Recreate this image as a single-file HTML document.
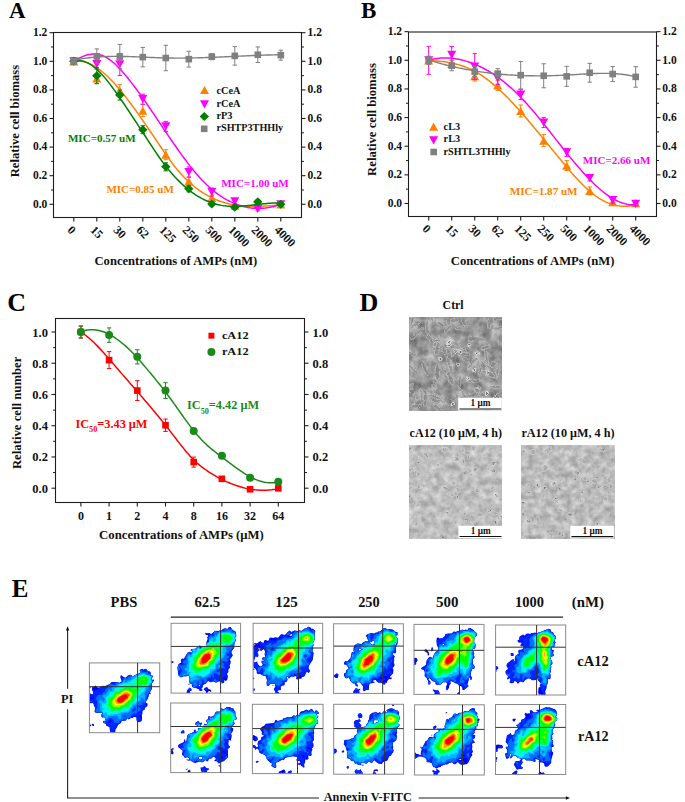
<!DOCTYPE html>
<html><head><meta charset="utf-8"><style>
html,body{margin:0;padding:0;background:#fff;}
body{width:685px;height:802px;overflow:hidden;position:relative;font-family:'Liberation Serif',serif;}
</style></head><body>
<svg width="685" height="802" viewBox="0 0 685 802" style="position:absolute;left:0;top:0">
<defs>
<filter id="soft" x="-5%" y="-5%" width="110%" height="110%"><feGaussianBlur stdDeviation="0.6"/></filter>
<filter id="texA" x="0" y="0" width="1" height="1" color-interpolation-filters="sRGB">
 <feTurbulence type="fractalNoise" baseFrequency="0.11" numOctaves="3" seed="3"/>
 <feColorMatrix type="matrix" values="0.5 0 0 0 0.345  0.5 0 0 0 0.345  0.5 0 0 0 0.345  0 0 0 0 1"/>
</filter>
<filter id="texB" x="0" y="0" width="1" height="1" color-interpolation-filters="sRGB">
 <feTurbulence type="fractalNoise" baseFrequency="0.14" numOctaves="3" seed="7"/>
 <feColorMatrix type="matrix" values="0.35 0 0 0 0.57  0.35 0 0 0 0.57  0.35 0 0 0 0.57  0 0 0 0 1"/>
</filter>
<filter id="texC" x="0" y="0" width="1" height="1" color-interpolation-filters="sRGB">
 <feTurbulence type="fractalNoise" baseFrequency="0.14" numOctaves="3" seed="11"/>
 <feColorMatrix type="matrix" values="0.35 0 0 0 0.56  0.35 0 0 0 0.56  0.35 0 0 0 0.56  0 0 0 0 1"/>
</filter>
<filter id="wob" x="-5%" y="-5%" width="110%" height="110%">
 <feTurbulence type="fractalNoise" baseFrequency="0.25" numOctaves="2" seed="5" result="t"/>
 <feDisplacementMap in="SourceGraphic" in2="t" scale="3.5" xChannelSelector="R" yChannelSelector="G" result="d"/>
 <feGaussianBlur in="d" stdDeviation="0.35"/>
</filter>
</defs>
<g style="font-family:'Liberation Serif',serif;font-weight:bold">
<rect x="53.5" y="32.5" width="248" height="185" fill="none" stroke="#1e1e1e" stroke-width="1.1"/>
<line x1="49.5" y1="32.7" x2="53.5" y2="32.7" stroke="#1e1e1e" stroke-width="1.1"/>
<line x1="301.5" y1="32.7" x2="305.5" y2="32.7" stroke="#1e1e1e" stroke-width="1.1"/>
<text x="47.3" y="36" font-size="11.5" fill="#111" text-anchor="end" >1.2</text>
<text x="307.6" y="36" font-size="11.5" fill="#111" >1.2</text>
<line x1="49.5" y1="61.3" x2="53.5" y2="61.3" stroke="#1e1e1e" stroke-width="1.1"/>
<line x1="301.5" y1="61.3" x2="305.5" y2="61.3" stroke="#1e1e1e" stroke-width="1.1"/>
<text x="47.3" y="64.6" font-size="11.5" fill="#111" text-anchor="end" >1.0</text>
<text x="307.6" y="64.6" font-size="11.5" fill="#111" >1.0</text>
<line x1="49.5" y1="89.9" x2="53.5" y2="89.9" stroke="#1e1e1e" stroke-width="1.1"/>
<line x1="301.5" y1="89.9" x2="305.5" y2="89.9" stroke="#1e1e1e" stroke-width="1.1"/>
<text x="47.3" y="93.2" font-size="11.5" fill="#111" text-anchor="end" >0.8</text>
<text x="307.6" y="93.2" font-size="11.5" fill="#111" >0.8</text>
<line x1="49.5" y1="118.5" x2="53.5" y2="118.5" stroke="#1e1e1e" stroke-width="1.1"/>
<line x1="301.5" y1="118.5" x2="305.5" y2="118.5" stroke="#1e1e1e" stroke-width="1.1"/>
<text x="47.3" y="121.8" font-size="11.5" fill="#111" text-anchor="end" >0.6</text>
<text x="307.6" y="121.8" font-size="11.5" fill="#111" >0.6</text>
<line x1="49.5" y1="147.1" x2="53.5" y2="147.1" stroke="#1e1e1e" stroke-width="1.1"/>
<line x1="301.5" y1="147.1" x2="305.5" y2="147.1" stroke="#1e1e1e" stroke-width="1.1"/>
<text x="47.3" y="150.4" font-size="11.5" fill="#111" text-anchor="end" >0.4</text>
<text x="307.6" y="150.4" font-size="11.5" fill="#111" >0.4</text>
<line x1="49.5" y1="175.7" x2="53.5" y2="175.7" stroke="#1e1e1e" stroke-width="1.1"/>
<line x1="301.5" y1="175.7" x2="305.5" y2="175.7" stroke="#1e1e1e" stroke-width="1.1"/>
<text x="47.3" y="179" font-size="11.5" fill="#111" text-anchor="end" >0.2</text>
<text x="307.6" y="179" font-size="11.5" fill="#111" >0.2</text>
<line x1="49.5" y1="204.3" x2="53.5" y2="204.3" stroke="#1e1e1e" stroke-width="1.1"/>
<line x1="301.5" y1="204.3" x2="305.5" y2="204.3" stroke="#1e1e1e" stroke-width="1.1"/>
<text x="47.3" y="207.6" font-size="11.5" fill="#111" text-anchor="end" >0.0</text>
<text x="307.6" y="207.6" font-size="11.5" fill="#111" >0.0</text>
<line x1="51" y1="47" x2="53.5" y2="47" stroke="#1e1e1e" stroke-width="1.0"/>
<line x1="301.5" y1="47" x2="304" y2="47" stroke="#1e1e1e" stroke-width="1.0"/>
<line x1="51" y1="75.6" x2="53.5" y2="75.6" stroke="#1e1e1e" stroke-width="1.0"/>
<line x1="301.5" y1="75.6" x2="304" y2="75.6" stroke="#1e1e1e" stroke-width="1.0"/>
<line x1="51" y1="104.2" x2="53.5" y2="104.2" stroke="#1e1e1e" stroke-width="1.0"/>
<line x1="301.5" y1="104.2" x2="304" y2="104.2" stroke="#1e1e1e" stroke-width="1.0"/>
<line x1="51" y1="132.8" x2="53.5" y2="132.8" stroke="#1e1e1e" stroke-width="1.0"/>
<line x1="301.5" y1="132.8" x2="304" y2="132.8" stroke="#1e1e1e" stroke-width="1.0"/>
<line x1="51" y1="161.4" x2="53.5" y2="161.4" stroke="#1e1e1e" stroke-width="1.0"/>
<line x1="301.5" y1="161.4" x2="304" y2="161.4" stroke="#1e1e1e" stroke-width="1.0"/>
<line x1="51" y1="190" x2="53.5" y2="190" stroke="#1e1e1e" stroke-width="1.0"/>
<line x1="301.5" y1="190" x2="304" y2="190" stroke="#1e1e1e" stroke-width="1.0"/>
<line x1="73.8" y1="217.5" x2="73.8" y2="221.5" stroke="#1e1e1e" stroke-width="1.1"/>
<line x1="96.8" y1="217.5" x2="96.8" y2="221.5" stroke="#1e1e1e" stroke-width="1.1"/>
<line x1="119.8" y1="217.5" x2="119.8" y2="221.5" stroke="#1e1e1e" stroke-width="1.1"/>
<line x1="142.8" y1="217.5" x2="142.8" y2="221.5" stroke="#1e1e1e" stroke-width="1.1"/>
<line x1="165.8" y1="217.5" x2="165.8" y2="221.5" stroke="#1e1e1e" stroke-width="1.1"/>
<line x1="188.8" y1="217.5" x2="188.8" y2="221.5" stroke="#1e1e1e" stroke-width="1.1"/>
<line x1="211.8" y1="217.5" x2="211.8" y2="221.5" stroke="#1e1e1e" stroke-width="1.1"/>
<line x1="234.8" y1="217.5" x2="234.8" y2="221.5" stroke="#1e1e1e" stroke-width="1.1"/>
<line x1="257.8" y1="217.5" x2="257.8" y2="221.5" stroke="#1e1e1e" stroke-width="1.1"/>
<line x1="280.8" y1="217.5" x2="280.8" y2="221.5" stroke="#1e1e1e" stroke-width="1.1"/>
<path d="M73.80,61.37 L75.54,61.15 L77.28,61.06 L79.02,61.09 L80.76,61.24 L82.50,61.51 L84.24,61.89 L85.98,62.38 L87.72,62.98 L89.46,63.68 L91.19,64.49 L92.93,65.39 L94.67,66.39 L96.41,67.48 L98.15,68.66 L99.89,69.93 L101.63,71.28 L103.37,72.72 L105.11,74.23 L106.85,75.81 L108.59,77.47 L110.33,79.20 L112.07,81.00 L113.81,82.85 L115.55,84.77 L117.29,86.74 L119.03,88.77 L120.77,90.85 L122.51,92.98 L124.25,95.16 L125.98,97.38 L127.72,99.63 L129.46,101.93 L131.20,104.26 L132.94,106.62 L134.68,109.01 L136.42,111.43 L138.16,113.88 L139.90,116.35 L141.64,118.84 L143.38,121.35 L145.12,123.88 L146.86,126.42 L148.60,128.97 L150.34,131.53 L152.08,134.11 L153.82,136.68 L155.56,139.26 L157.30,141.84 L159.04,144.42 L160.77,146.99 L162.51,149.56 L164.25,152.10 L165.99,154.62 L167.73,157.10 L169.47,159.53 L171.21,161.90 L172.95,164.21 L174.69,166.44 L176.43,168.60 L178.17,170.68 L179.91,172.69 L181.65,174.62 L183.39,176.48 L185.13,178.27 L186.87,179.99 L188.61,181.64 L190.35,183.23 L192.09,184.75 L193.83,186.21 L195.56,187.60 L197.30,188.93 L199.04,190.20 L200.78,191.41 L202.52,192.56 L204.26,193.66 L206.00,194.70 L207.74,195.69 L209.48,196.62 L211.22,197.50 L212.96,198.33 L214.70,199.12 L216.44,199.85 L218.18,200.54 L219.92,201.18 L221.66,201.78 L223.40,202.33 L225.14,202.85 L226.88,203.32 L228.62,203.75 L230.35,204.15 L232.09,204.51 L233.83,204.83 L235.57,205.12 L237.31,205.38 L239.05,205.61 L240.79,205.80 L242.53,205.97 L244.27,206.11 L246.01,206.22 L247.75,206.31 L249.49,206.37 L251.23,206.41 L252.97,206.43 L254.71,206.43 L256.45,206.41 L258.19,206.37 L259.93,206.32 L261.67,206.25 L263.41,206.17 L265.14,206.07 L266.88,205.97 L268.62,205.85 L270.36,205.72 L272.10,205.59 L273.84,205.45 L275.58,205.31 L277.32,205.16 L279.06,205.01 L280.80,204.86" stroke="#ff8000" stroke-width="1.5" fill="none"/>
<path d="M73.8,58.3V64.3M71.6,58.3H76M71.6,64.3H76" stroke="#ff8000" stroke-width="1" fill="none"/>
<path d="M96.8,73.46V83.46M94.6,73.46H99M94.6,83.46H99" stroke="#ff8000" stroke-width="1" fill="none"/>
<path d="M119.8,84.62V96.62M117.6,84.62H122M117.6,96.62H122" stroke="#ff8000" stroke-width="1" fill="none"/>
<path d="M142.8,104.64V116.64M140.6,104.64H145M140.6,116.64H145" stroke="#ff8000" stroke-width="1" fill="none"/>
<path d="M165.8,149.68V159.68M163.6,149.68H168M163.6,159.68H168" stroke="#ff8000" stroke-width="1" fill="none"/>
<path d="M188.8,177.42V185.42M186.6,177.42H191M186.6,185.42H191" stroke="#ff8000" stroke-width="1" fill="none"/>
<path d="M211.8,195.01V201.01M209.6,195.01H214M209.6,201.01H214" stroke="#ff8000" stroke-width="1" fill="none"/>
<path d="M234.8,203.73V207.73M232.6,203.73H237M232.6,207.73H237" stroke="#ff8000" stroke-width="1" fill="none"/>
<path d="M257.8,202.3V206.3M255.6,202.3H260M255.6,206.3H260" stroke="#ff8000" stroke-width="1" fill="none"/>
<path d="M280.8,202.3V206.3M278.6,202.3H283M278.6,206.3H283" stroke="#ff8000" stroke-width="1" fill="none"/>
<polygon points="69.3,65.4 78.3,65.4 73.8,57.2" fill="#ff8000"/>
<polygon points="92.3,82.56 101.3,82.56 96.8,74.36" fill="#ff8000"/>
<polygon points="115.3,94.72 124.3,94.72 119.8,86.52" fill="#ff8000"/>
<polygon points="138.3,114.73 147.3,114.73 142.8,106.54" fill="#ff8000"/>
<polygon points="161.3,158.78 170.3,158.78 165.8,150.58" fill="#ff8000"/>
<polygon points="184.3,185.52 193.3,185.52 188.8,177.32" fill="#ff8000"/>
<polygon points="207.3,202.11 216.3,202.11 211.8,193.91" fill="#ff8000"/>
<polygon points="230.3,209.83 239.3,209.83 234.8,201.63" fill="#ff8000"/>
<polygon points="253.3,208.4 262.3,208.4 257.8,200.2" fill="#ff8000"/>
<polygon points="276.3,208.4 285.3,208.4 280.8,200.2" fill="#ff8000"/>
<path d="M73.80,61.49 L75.54,60.34 L77.28,59.27 L79.02,58.28 L80.76,57.39 L82.50,56.58 L84.24,55.88 L85.98,55.28 L87.72,54.79 L89.46,54.41 L91.19,54.14 L92.93,54.00 L94.67,53.98 L96.41,54.10 L98.15,54.34 L99.89,54.73 L101.63,55.26 L103.37,55.93 L105.11,56.76 L106.85,57.74 L108.59,58.85 L110.33,60.09 L112.07,61.46 L113.81,62.94 L115.55,64.53 L117.29,66.22 L119.03,68.00 L120.77,69.86 L122.51,71.80 L124.25,73.81 L125.98,75.87 L127.72,77.99 L129.46,80.16 L131.20,82.38 L132.94,84.63 L134.68,86.93 L136.42,89.27 L138.16,91.64 L139.90,94.05 L141.64,96.48 L143.38,98.95 L145.12,101.43 L146.86,103.94 L148.60,106.48 L150.34,109.02 L152.08,111.59 L153.82,114.16 L155.56,116.74 L157.30,119.33 L159.04,121.93 L160.77,124.52 L162.51,127.12 L164.25,129.71 L165.99,132.29 L167.73,134.87 L169.47,137.43 L171.21,139.98 L172.95,142.52 L174.69,145.03 L176.43,147.52 L178.17,149.99 L179.91,152.43 L181.65,154.83 L183.39,157.21 L185.13,159.55 L186.87,161.86 L188.61,164.12 L190.35,166.35 L192.09,168.53 L193.83,170.66 L195.56,172.74 L197.30,174.77 L199.04,176.75 L200.78,178.67 L202.52,180.53 L204.26,182.33 L206.00,184.07 L207.74,185.74 L209.48,187.34 L211.22,188.87 L212.96,190.34 L214.70,191.74 L216.44,193.07 L218.18,194.35 L219.92,195.56 L221.66,196.71 L223.40,197.80 L225.14,198.83 L226.88,199.81 L228.62,200.73 L230.35,201.60 L232.09,202.42 L233.83,203.18 L235.57,203.89 L237.31,204.55 L239.05,205.16 L240.79,205.71 L242.53,206.21 L244.27,206.66 L246.01,207.06 L247.75,207.40 L249.49,207.70 L251.23,207.94 L252.97,208.13 L254.71,208.27 L256.45,208.36 L258.19,208.39 L259.93,208.38 L261.67,208.31 L263.41,208.19 L265.14,208.02 L266.88,207.80 L268.62,207.53 L270.36,207.20 L272.10,206.83 L273.84,206.40 L275.58,205.92 L277.32,205.40 L279.06,204.82 L280.80,204.19" stroke="#ff00ff" stroke-width="1.5" fill="none"/>
<path d="M73.8,58.3V64.3M71.6,58.3H76M71.6,64.3H76" stroke="#ff00ff" stroke-width="1" fill="none"/>
<path d="M96.8,59.16V69.16M94.6,59.16H99M94.6,69.16H99" stroke="#ff00ff" stroke-width="1" fill="none"/>
<path d="M119.8,53.45V75.45M117.6,53.45H122M117.6,75.45H122" stroke="#ff00ff" stroke-width="1" fill="none"/>
<path d="M142.8,94.2V104.2M140.6,94.2H145M140.6,104.2H145" stroke="#ff00ff" stroke-width="1" fill="none"/>
<path d="M165.8,121.37V131.37M163.6,121.37H168M163.6,131.37H168" stroke="#ff00ff" stroke-width="1" fill="none"/>
<path d="M188.8,166.98V176.98M186.6,166.98H191M186.6,176.98H191" stroke="#ff00ff" stroke-width="1" fill="none"/>
<path d="M211.8,188V196M209.6,188H214M209.6,196H214" stroke="#ff00ff" stroke-width="1" fill="none"/>
<path d="M234.8,198.44V204.44M232.6,198.44H237M232.6,204.44H237" stroke="#ff00ff" stroke-width="1" fill="none"/>
<path d="M257.8,206.88V210.88M255.6,206.88H260M255.6,210.88H260" stroke="#ff00ff" stroke-width="1" fill="none"/>
<path d="M280.8,202.3V206.3M278.6,202.3H283M278.6,206.3H283" stroke="#ff00ff" stroke-width="1" fill="none"/>
<polygon points="69.3,57.2 78.3,57.2 73.8,65.4" fill="#ff00ff"/>
<polygon points="92.3,60.06 101.3,60.06 96.8,68.26" fill="#ff00ff"/>
<polygon points="115.3,60.35 124.3,60.35 119.8,68.55" fill="#ff00ff"/>
<polygon points="138.3,95.1 147.3,95.1 142.8,103.3" fill="#ff00ff"/>
<polygon points="161.3,122.27 170.3,122.27 165.8,130.47" fill="#ff00ff"/>
<polygon points="184.3,167.88 193.3,167.88 188.8,176.08" fill="#ff00ff"/>
<polygon points="207.3,187.9 216.3,187.9 211.8,196.1" fill="#ff00ff"/>
<polygon points="230.3,197.34 239.3,197.34 234.8,205.54" fill="#ff00ff"/>
<polygon points="253.3,204.78 262.3,204.78 257.8,212.98" fill="#ff00ff"/>
<polygon points="276.3,200.2 285.3,200.2 280.8,208.4" fill="#ff00ff"/>
<path d="M73.80,61.53 L75.54,61.04 L77.28,60.75 L79.02,60.66 L80.76,60.76 L82.50,61.04 L84.24,61.50 L85.98,62.12 L87.72,62.91 L89.46,63.85 L91.19,64.94 L92.93,66.17 L94.67,67.54 L96.41,69.03 L98.15,70.64 L99.89,72.36 L101.63,74.18 L103.37,76.11 L105.11,78.12 L106.85,80.22 L108.59,82.40 L110.33,84.64 L112.07,86.95 L113.81,89.32 L115.55,91.73 L117.29,94.18 L119.03,96.67 L120.77,99.19 L122.51,101.73 L124.25,104.29 L125.98,106.87 L127.72,109.47 L129.46,112.09 L131.20,114.72 L132.94,117.36 L134.68,120.01 L136.42,122.67 L138.16,125.34 L139.90,128.01 L141.64,130.68 L143.38,133.36 L145.12,136.03 L146.86,138.70 L148.60,141.37 L150.34,144.03 L152.08,146.69 L153.82,149.32 L155.56,151.92 L157.30,154.49 L159.04,157.01 L160.77,159.47 L162.51,161.87 L164.25,164.20 L165.99,166.46 L167.73,168.65 L169.47,170.77 L171.21,172.83 L172.95,174.82 L174.69,176.74 L176.43,178.59 L178.17,180.38 L179.91,182.11 L181.65,183.77 L183.39,185.36 L185.13,186.90 L186.87,188.37 L188.61,189.78 L190.35,191.12 L192.09,192.41 L193.83,193.63 L195.56,194.79 L197.30,195.90 L199.04,196.94 L200.78,197.93 L202.52,198.86 L204.26,199.73 L206.00,200.54 L207.74,201.30 L209.48,202.00 L211.22,202.64 L212.96,203.23 L214.70,203.77 L216.44,204.25 L218.18,204.67 L219.92,205.05 L221.66,205.37 L223.40,205.64 L225.14,205.87 L226.88,206.05 L228.62,206.18 L230.35,206.28 L232.09,206.34 L233.83,206.37 L235.57,206.36 L237.31,206.32 L239.05,206.25 L240.79,206.16 L242.53,206.05 L244.27,205.91 L246.01,205.76 L247.75,205.60 L249.49,205.42 L251.23,205.23 L252.97,205.03 L254.71,204.83 L256.45,204.62 L258.19,204.42 L259.93,204.22 L261.67,204.02 L263.41,203.83 L265.14,203.65 L266.88,203.48 L268.62,203.33 L270.36,203.20 L272.10,203.08 L273.84,202.99 L275.58,202.92 L277.32,202.88 L279.06,202.87 L280.80,202.89" stroke="#008000" stroke-width="1.5" fill="none"/>
<path d="M73.8,58.3V64.3M71.6,58.3H76M71.6,64.3H76" stroke="#008000" stroke-width="1" fill="none"/>
<path d="M96.8,67.74V83.74M94.6,67.74H99M94.6,83.74H99" stroke="#008000" stroke-width="1" fill="none"/>
<path d="M119.8,90.05V100.05M117.6,90.05H122M117.6,100.05H122" stroke="#008000" stroke-width="1" fill="none"/>
<path d="M142.8,125.65V133.65M140.6,125.65H145M140.6,133.65H145" stroke="#008000" stroke-width="1" fill="none"/>
<path d="M165.8,162.83V170.83M163.6,162.83H168M163.6,170.83H168" stroke="#008000" stroke-width="1" fill="none"/>
<path d="M188.8,185.86V191.86M186.6,185.86H191M186.6,191.86H191" stroke="#008000" stroke-width="1" fill="none"/>
<path d="M211.8,202.01V206.01M209.6,202.01H214M209.6,206.01H214" stroke="#008000" stroke-width="1" fill="none"/>
<path d="M234.8,205.16V209.16M232.6,205.16H237M232.6,209.16H237" stroke="#008000" stroke-width="1" fill="none"/>
<path d="M257.8,199.87V203.87M255.6,199.87H260M255.6,203.87H260" stroke="#008000" stroke-width="1" fill="none"/>
<path d="M280.8,202.3V206.3M278.6,202.3H283M278.6,206.3H283" stroke="#008000" stroke-width="1" fill="none"/>
<polygon points="73.8,56.8 78.5,61.3 73.8,65.8 69.1,61.3" fill="#008000"/>
<polygon points="96.8,71.24 101.5,75.74 96.8,80.24 92.1,75.74" fill="#008000"/>
<polygon points="119.8,90.55 124.5,95.05 119.8,99.55 115.1,95.05" fill="#008000"/>
<polygon points="142.8,125.15 147.5,129.65 142.8,134.15 138.1,129.65" fill="#008000"/>
<polygon points="165.8,162.33 170.5,166.83 165.8,171.33 161.1,166.83" fill="#008000"/>
<polygon points="188.8,184.36 193.5,188.86 188.8,193.36 184.1,188.86" fill="#008000"/>
<polygon points="211.8,199.51 216.5,204.01 211.8,208.51 207.1,204.01" fill="#008000"/>
<polygon points="234.8,202.66 239.5,207.16 234.8,211.66 230.1,207.16" fill="#008000"/>
<polygon points="257.8,197.37 262.5,201.87 257.8,206.37 253.1,201.87" fill="#008000"/>
<polygon points="280.8,199.8 285.5,204.3 280.8,208.8 276.1,204.3" fill="#008000"/>
<path d="M73.80,60.26 L75.54,59.90 L77.28,59.56 L79.02,59.25 L80.76,58.95 L82.50,58.67 L84.24,58.41 L85.98,58.17 L87.72,57.95 L89.46,57.74 L91.19,57.55 L92.93,57.38 L94.67,57.22 L96.41,57.08 L98.15,56.95 L99.89,56.84 L101.63,56.74 L103.37,56.66 L105.11,56.58 L106.85,56.52 L108.59,56.47 L110.33,56.44 L112.07,56.41 L113.81,56.39 L115.55,56.38 L117.29,56.38 L119.03,56.39 L120.77,56.41 L122.51,56.44 L124.25,56.47 L125.98,56.51 L127.72,56.55 L129.46,56.60 L131.20,56.66 L132.94,56.71 L134.68,56.78 L136.42,56.84 L138.16,56.91 L139.90,56.98 L141.64,57.06 L143.38,57.13 L145.12,57.20 L146.86,57.28 L148.60,57.35 L150.34,57.43 L152.08,57.50 L153.82,57.57 L155.56,57.64 L157.30,57.70 L159.04,57.76 L160.77,57.82 L162.51,57.87 L164.25,57.92 L165.99,57.96 L167.73,58.00 L169.47,58.03 L171.21,58.05 L172.95,58.07 L174.69,58.09 L176.43,58.09 L178.17,58.10 L179.91,58.09 L181.65,58.09 L183.39,58.08 L185.13,58.06 L186.87,58.04 L188.61,58.02 L190.35,57.99 L192.09,57.96 L193.83,57.92 L195.56,57.88 L197.30,57.84 L199.04,57.79 L200.78,57.74 L202.52,57.69 L204.26,57.63 L206.00,57.57 L207.74,57.51 L209.48,57.45 L211.22,57.39 L212.96,57.32 L214.70,57.25 L216.44,57.18 L218.18,57.10 L219.92,57.03 L221.66,56.96 L223.40,56.88 L225.14,56.80 L226.88,56.72 L228.62,56.64 L230.35,56.56 L232.09,56.48 L233.83,56.40 L235.57,56.32 L237.31,56.24 L239.05,56.16 L240.79,56.08 L242.53,56.00 L244.27,55.93 L246.01,55.85 L247.75,55.77 L249.49,55.70 L251.23,55.62 L252.97,55.55 L254.71,55.48 L256.45,55.41 L258.19,55.34 L259.93,55.27 L261.67,55.21 L263.41,55.15 L265.14,55.09 L266.88,55.03 L268.62,54.98 L270.36,54.93 L272.10,54.88 L273.84,54.84 L275.58,54.80 L277.32,54.76 L279.06,54.73 L280.80,54.70" stroke="#808080" stroke-width="1.4" fill="none"/>
<path d="M73.8,58.3V64.3M71.6,58.3H76M71.6,64.3H76" stroke="#808080" stroke-width="1" fill="none"/>
<path d="M96.8,48.9V63.7M94.6,48.9H99M94.6,63.7H99" stroke="#808080" stroke-width="1" fill="none"/>
<path d="M119.8,44.38V68.78M117.6,44.38H122M117.6,68.78H122" stroke="#808080" stroke-width="1" fill="none"/>
<path d="M142.8,47.45V66.85M140.6,47.45H145M140.6,66.85H145" stroke="#808080" stroke-width="1" fill="none"/>
<path d="M165.8,45.31V70.71M163.6,45.31H168M163.6,70.71H168" stroke="#808080" stroke-width="1" fill="none"/>
<path d="M188.8,51.26V67.06M186.6,51.26H191M186.6,67.06H191" stroke="#808080" stroke-width="1" fill="none"/>
<path d="M211.8,53.72V59.72M209.6,53.72H214M209.6,59.72H214" stroke="#808080" stroke-width="1" fill="none"/>
<path d="M234.8,46.57V65.17M232.6,46.57H237M232.6,65.17H237" stroke="#808080" stroke-width="1" fill="none"/>
<path d="M257.8,46.92V62.52M255.6,46.92H260M255.6,62.52H260" stroke="#808080" stroke-width="1" fill="none"/>
<path d="M280.8,50.15V60.15M278.6,50.15H283M278.6,60.15H283" stroke="#808080" stroke-width="1" fill="none"/>
<rect x="70.5" y="58" width="6.6" height="6.6" fill="#808080"/>
<rect x="93.5" y="53" width="6.6" height="6.6" fill="#808080"/>
<rect x="116.5" y="53.28" width="6.6" height="6.6" fill="#808080"/>
<rect x="139.5" y="53.85" width="6.6" height="6.6" fill="#808080"/>
<rect x="162.5" y="54.71" width="6.6" height="6.6" fill="#808080"/>
<rect x="185.5" y="55.86" width="6.6" height="6.6" fill="#808080"/>
<rect x="208.5" y="53.42" width="6.6" height="6.6" fill="#808080"/>
<rect x="231.5" y="52.57" width="6.6" height="6.6" fill="#808080"/>
<rect x="254.5" y="51.42" width="6.6" height="6.6" fill="#808080"/>
<rect x="277.5" y="51.85" width="6.6" height="6.6" fill="#808080"/>
<text x="66.7" y="230.8" font-size="12" fill="#111" transform="rotate(45 66.7 230.8)" >0</text>
<text x="89.7" y="230.8" font-size="12" fill="#111" transform="rotate(45 89.7 230.8)" >15</text>
<text x="112.7" y="230.8" font-size="12" fill="#111" transform="rotate(45 112.7 230.8)" >30</text>
<text x="135.7" y="230.8" font-size="12" fill="#111" transform="rotate(45 135.7 230.8)" >62</text>
<text x="158.7" y="230.8" font-size="12" fill="#111" transform="rotate(45 158.7 230.8)" >125</text>
<text x="181.7" y="230.8" font-size="12" fill="#111" transform="rotate(45 181.7 230.8)" >250</text>
<text x="204.7" y="230.8" font-size="12" fill="#111" transform="rotate(45 204.7 230.8)" >500</text>
<text x="227.7" y="230.8" font-size="12" fill="#111" transform="rotate(45 227.7 230.8)" >1000</text>
<text x="250.7" y="230.8" font-size="12" fill="#111" transform="rotate(45 250.7 230.8)" >2000</text>
<text x="273.7" y="230.8" font-size="12" fill="#111" transform="rotate(45 273.7 230.8)" >4000</text>
<text x="94.5" y="265" font-size="12" fill="#111" textLength="162.8" lengthAdjust="spacingAndGlyphs" >Concentrations of AMPs (nM)</text>
<text x="18.8" y="177.3" font-size="12" fill="#111" textLength="112.5" lengthAdjust="spacingAndGlyphs" transform="rotate(-90 18.8 177.3)" >Relative cell biomass</text>
<polygon points="200,94.1 209,94.1 204.5,85.9" fill="#ff8000"/>
<text x="216.5" y="94.3" font-size="10.3" fill="#111" >cCeA</text>
<polygon points="200,100.3 209,100.3 204.5,108.5" fill="#ff00ff"/>
<text x="216.5" y="106.8" font-size="10.3" fill="#111" >rCeA</text>
<polygon points="204.3,111.9 209,116.4 204.3,120.9 199.6,116.4" fill="#008000"/>
<text x="216.5" y="119.2" font-size="10.3" fill="#111" >rP3</text>
<rect x="200.9" y="125.5" width="6.6" height="6.6" fill="#808080"/>
<text x="216.5" y="131.4" font-size="10.3" fill="#111" textLength="66.6" lengthAdjust="spacingAndGlyphs" >rSHTP3THHly</text>
<text x="67.9" y="142.2" font-size="11" fill="#008000" textLength="67.8" lengthAdjust="spacingAndGlyphs" >MIC=0.57 uM</text>
<text x="106.4" y="193.3" font-size="11" fill="#ff8000" textLength="67.5" lengthAdjust="spacingAndGlyphs" >MIC=0.85 uM</text>
<text x="221.2" y="186.7" font-size="11" fill="#ff00ff" textLength="67.6" lengthAdjust="spacingAndGlyphs" >MIC=1.00 uM</text>
<text x="8.9" y="17.9" font-size="23" fill="#000" >A</text>
<rect x="408.5" y="32" width="248" height="184.5" fill="none" stroke="#1e1e1e" stroke-width="1.1"/>
<line x1="404.5" y1="31.66" x2="408.5" y2="31.66" stroke="#1e1e1e" stroke-width="1.1"/>
<line x1="656.5" y1="31.66" x2="660.5" y2="31.66" stroke="#1e1e1e" stroke-width="1.1"/>
<text x="402.1" y="34.96" font-size="11.5" fill="#111" text-anchor="end" >1.2</text>
<text x="662.3" y="34.96" font-size="11.5" fill="#111" >1.2</text>
<line x1="404.5" y1="60.3" x2="408.5" y2="60.3" stroke="#1e1e1e" stroke-width="1.1"/>
<line x1="656.5" y1="60.3" x2="660.5" y2="60.3" stroke="#1e1e1e" stroke-width="1.1"/>
<text x="402.1" y="63.6" font-size="11.5" fill="#111" text-anchor="end" >1.0</text>
<text x="662.3" y="63.6" font-size="11.5" fill="#111" >1.0</text>
<line x1="404.5" y1="88.94" x2="408.5" y2="88.94" stroke="#1e1e1e" stroke-width="1.1"/>
<line x1="656.5" y1="88.94" x2="660.5" y2="88.94" stroke="#1e1e1e" stroke-width="1.1"/>
<text x="402.1" y="92.24" font-size="11.5" fill="#111" text-anchor="end" >0.8</text>
<text x="662.3" y="92.24" font-size="11.5" fill="#111" >0.8</text>
<line x1="404.5" y1="117.58" x2="408.5" y2="117.58" stroke="#1e1e1e" stroke-width="1.1"/>
<line x1="656.5" y1="117.58" x2="660.5" y2="117.58" stroke="#1e1e1e" stroke-width="1.1"/>
<text x="402.1" y="120.88" font-size="11.5" fill="#111" text-anchor="end" >0.6</text>
<text x="662.3" y="120.88" font-size="11.5" fill="#111" >0.6</text>
<line x1="404.5" y1="146.22" x2="408.5" y2="146.22" stroke="#1e1e1e" stroke-width="1.1"/>
<line x1="656.5" y1="146.22" x2="660.5" y2="146.22" stroke="#1e1e1e" stroke-width="1.1"/>
<text x="402.1" y="149.52" font-size="11.5" fill="#111" text-anchor="end" >0.4</text>
<text x="662.3" y="149.52" font-size="11.5" fill="#111" >0.4</text>
<line x1="404.5" y1="174.86" x2="408.5" y2="174.86" stroke="#1e1e1e" stroke-width="1.1"/>
<line x1="656.5" y1="174.86" x2="660.5" y2="174.86" stroke="#1e1e1e" stroke-width="1.1"/>
<text x="402.1" y="178.16" font-size="11.5" fill="#111" text-anchor="end" >0.2</text>
<text x="662.3" y="178.16" font-size="11.5" fill="#111" >0.2</text>
<line x1="404.5" y1="203.5" x2="408.5" y2="203.5" stroke="#1e1e1e" stroke-width="1.1"/>
<line x1="656.5" y1="203.5" x2="660.5" y2="203.5" stroke="#1e1e1e" stroke-width="1.1"/>
<text x="402.1" y="206.8" font-size="11.5" fill="#111" text-anchor="end" >0.0</text>
<text x="662.3" y="206.8" font-size="11.5" fill="#111" >0.0</text>
<line x1="406" y1="45.98" x2="408.5" y2="45.98" stroke="#1e1e1e" stroke-width="1.0"/>
<line x1="656.5" y1="45.98" x2="659" y2="45.98" stroke="#1e1e1e" stroke-width="1.0"/>
<line x1="406" y1="74.62" x2="408.5" y2="74.62" stroke="#1e1e1e" stroke-width="1.0"/>
<line x1="656.5" y1="74.62" x2="659" y2="74.62" stroke="#1e1e1e" stroke-width="1.0"/>
<line x1="406" y1="103.26" x2="408.5" y2="103.26" stroke="#1e1e1e" stroke-width="1.0"/>
<line x1="656.5" y1="103.26" x2="659" y2="103.26" stroke="#1e1e1e" stroke-width="1.0"/>
<line x1="406" y1="131.9" x2="408.5" y2="131.9" stroke="#1e1e1e" stroke-width="1.0"/>
<line x1="656.5" y1="131.9" x2="659" y2="131.9" stroke="#1e1e1e" stroke-width="1.0"/>
<line x1="406" y1="160.54" x2="408.5" y2="160.54" stroke="#1e1e1e" stroke-width="1.0"/>
<line x1="656.5" y1="160.54" x2="659" y2="160.54" stroke="#1e1e1e" stroke-width="1.0"/>
<line x1="406" y1="189.18" x2="408.5" y2="189.18" stroke="#1e1e1e" stroke-width="1.0"/>
<line x1="656.5" y1="189.18" x2="659" y2="189.18" stroke="#1e1e1e" stroke-width="1.0"/>
<line x1="428.7" y1="216.5" x2="428.7" y2="220.5" stroke="#1e1e1e" stroke-width="1.1"/>
<line x1="451.7" y1="216.5" x2="451.7" y2="220.5" stroke="#1e1e1e" stroke-width="1.1"/>
<line x1="474.7" y1="216.5" x2="474.7" y2="220.5" stroke="#1e1e1e" stroke-width="1.1"/>
<line x1="497.7" y1="216.5" x2="497.7" y2="220.5" stroke="#1e1e1e" stroke-width="1.1"/>
<line x1="520.7" y1="216.5" x2="520.7" y2="220.5" stroke="#1e1e1e" stroke-width="1.1"/>
<line x1="543.7" y1="216.5" x2="543.7" y2="220.5" stroke="#1e1e1e" stroke-width="1.1"/>
<line x1="566.7" y1="216.5" x2="566.7" y2="220.5" stroke="#1e1e1e" stroke-width="1.1"/>
<line x1="589.7" y1="216.5" x2="589.7" y2="220.5" stroke="#1e1e1e" stroke-width="1.1"/>
<line x1="612.7" y1="216.5" x2="612.7" y2="220.5" stroke="#1e1e1e" stroke-width="1.1"/>
<line x1="635.7" y1="216.5" x2="635.7" y2="220.5" stroke="#1e1e1e" stroke-width="1.1"/>
<path d="M428.70,60.43 L430.44,60.54 L432.18,60.65 L433.92,60.77 L435.66,60.91 L437.40,61.06 L439.14,61.22 L440.88,61.41 L442.62,61.61 L444.36,61.83 L446.09,62.08 L447.83,62.36 L449.57,62.66 L451.31,62.99 L453.05,63.35 L454.79,63.74 L456.53,64.17 L458.27,64.64 L460.01,65.15 L461.75,65.69 L463.49,66.28 L465.23,66.92 L466.97,67.60 L468.71,68.33 L470.45,69.11 L472.19,69.94 L473.93,70.83 L475.67,71.77 L477.41,72.77 L479.15,73.83 L480.88,74.94 L482.62,76.10 L484.36,77.31 L486.10,78.57 L487.84,79.88 L489.58,81.24 L491.32,82.64 L493.06,84.09 L494.80,85.58 L496.54,87.11 L498.28,88.68 L500.02,90.28 L501.76,91.93 L503.50,93.61 L505.24,95.33 L506.98,97.07 L508.72,98.85 L510.46,100.66 L512.20,102.50 L513.94,104.37 L515.67,106.26 L517.41,108.17 L519.15,110.11 L520.89,112.07 L522.63,114.06 L524.37,116.06 L526.11,118.08 L527.85,120.11 L529.59,122.16 L531.33,124.22 L533.07,126.30 L534.81,128.38 L536.55,130.48 L538.29,132.58 L540.03,134.69 L541.77,136.80 L543.51,138.92 L545.25,141.04 L546.99,143.16 L548.73,145.28 L550.46,147.40 L552.20,149.53 L553.94,151.64 L555.68,153.76 L557.42,155.87 L559.16,157.97 L560.90,160.07 L562.64,162.17 L564.38,164.25 L566.12,166.32 L567.86,168.38 L569.60,170.42 L571.34,172.44 L573.08,174.43 L574.82,176.39 L576.56,178.32 L578.30,180.21 L580.04,182.05 L581.78,183.84 L583.52,185.59 L585.25,187.27 L586.99,188.90 L588.73,190.46 L590.47,191.95 L592.21,193.37 L593.95,194.72 L595.69,196.00 L597.43,197.20 L599.17,198.33 L600.91,199.39 L602.65,200.38 L604.39,201.29 L606.13,202.12 L607.87,202.89 L609.61,203.57 L611.35,204.18 L613.09,204.72 L614.83,205.18 L616.57,205.56 L618.31,205.87 L620.04,206.10 L621.78,206.25 L623.52,206.32 L625.26,206.32 L627.00,206.24 L628.74,206.07 L630.48,205.83 L632.22,205.51 L633.96,205.11 L635.70,204.62" stroke="#ff8000" stroke-width="1.5" fill="none"/>
<path d="M428.7,56.3V64.3M426.5,56.3H430.9M426.5,64.3H430.9" stroke="#ff8000" stroke-width="1" fill="none"/>
<path d="M451.7,59.88V67.88M449.5,59.88H453.9M449.5,67.88H453.9" stroke="#ff8000" stroke-width="1" fill="none"/>
<path d="M474.7,71.05V81.05M472.5,71.05H476.9M472.5,81.05H476.9" stroke="#ff8000" stroke-width="1" fill="none"/>
<path d="M497.7,80.36V90.36M495.5,80.36H499.9M495.5,90.36H499.9" stroke="#ff8000" stroke-width="1" fill="none"/>
<path d="M520.7,104.99V116.99M518.5,104.99H522.9M518.5,116.99H522.9" stroke="#ff8000" stroke-width="1" fill="none"/>
<path d="M543.7,134.64V146.64M541.5,134.64H545.9M541.5,146.64H545.9" stroke="#ff8000" stroke-width="1" fill="none"/>
<path d="M566.7,160.55V170.55M564.5,160.55H568.9M564.5,170.55H568.9" stroke="#ff8000" stroke-width="1" fill="none"/>
<path d="M589.7,186.9V194.9M587.5,186.9H591.9M587.5,194.9H591.9" stroke="#ff8000" stroke-width="1" fill="none"/>
<path d="M612.7,199.07V205.07M610.5,199.07H614.9M610.5,205.07H614.9" stroke="#ff8000" stroke-width="1" fill="none"/>
<path d="M635.7,201.07V205.07M633.5,201.07H637.9M633.5,205.07H637.9" stroke="#ff8000" stroke-width="1" fill="none"/>
<polygon points="424.2,64.4 433.2,64.4 428.7,56.2" fill="#ff8000"/>
<polygon points="447.2,67.98 456.2,67.98 451.7,59.78" fill="#ff8000"/>
<polygon points="470.2,80.15 479.2,80.15 474.7,71.95" fill="#ff8000"/>
<polygon points="493.2,89.46 502.2,89.46 497.7,81.26" fill="#ff8000"/>
<polygon points="516.2,115.09 525.2,115.09 520.7,106.89" fill="#ff8000"/>
<polygon points="539.2,144.74 548.2,144.74 543.7,136.54" fill="#ff8000"/>
<polygon points="562.2,169.65 571.2,169.65 566.7,161.45" fill="#ff8000"/>
<polygon points="585.2,195 594.2,195 589.7,186.8" fill="#ff8000"/>
<polygon points="608.2,206.17 617.2,206.17 612.7,197.97" fill="#ff8000"/>
<polygon points="631.2,207.17 640.2,207.17 635.7,198.97" fill="#ff8000"/>
<path d="M428.70,60.06 L430.44,59.64 L432.18,59.26 L433.92,58.93 L435.66,58.65 L437.40,58.41 L439.14,58.23 L440.88,58.09 L442.62,58.00 L444.36,57.95 L446.09,57.95 L447.83,58.00 L449.57,58.09 L451.31,58.22 L453.05,58.40 L454.79,58.63 L456.53,58.89 L458.27,59.21 L460.01,59.56 L461.75,59.95 L463.49,60.39 L465.23,60.87 L466.97,61.39 L468.71,61.95 L470.45,62.55 L472.19,63.19 L473.93,63.87 L475.67,64.59 L477.41,65.35 L479.15,66.15 L480.88,66.98 L482.62,67.86 L484.36,68.77 L486.10,69.73 L487.84,70.72 L489.58,71.76 L491.32,72.84 L493.06,73.95 L494.80,75.11 L496.54,76.31 L498.28,77.54 L500.02,78.82 L501.76,80.14 L503.50,81.51 L505.24,82.91 L506.98,84.35 L508.72,85.84 L510.46,87.37 L512.20,88.94 L513.94,90.55 L515.67,92.21 L517.41,93.90 L519.15,95.64 L520.89,97.43 L522.63,99.25 L524.37,101.12 L526.11,103.02 L527.85,104.96 L529.59,106.93 L531.33,108.94 L533.07,110.97 L534.81,113.03 L536.55,115.12 L538.29,117.23 L540.03,119.36 L541.77,121.51 L543.51,123.67 L545.25,125.85 L546.99,128.04 L548.73,130.24 L550.46,132.45 L552.20,134.67 L553.94,136.88 L555.68,139.10 L557.42,141.32 L559.16,143.53 L560.90,145.74 L562.64,147.94 L564.38,150.13 L566.12,152.31 L567.86,154.48 L569.60,156.63 L571.34,158.76 L573.08,160.87 L574.82,162.95 L576.56,165.01 L578.30,167.05 L580.04,169.06 L581.78,171.03 L583.52,172.97 L585.25,174.87 L586.99,176.74 L588.73,178.57 L590.47,180.35 L592.21,182.09 L593.95,183.78 L595.69,185.43 L597.43,187.02 L599.17,188.56 L600.91,190.04 L602.65,191.47 L604.39,192.84 L606.13,194.14 L607.87,195.38 L609.61,196.56 L611.35,197.66 L613.09,198.70 L614.83,199.66 L616.57,200.55 L618.31,201.36 L620.04,202.09 L621.78,202.74 L623.52,203.31 L625.26,203.79 L627.00,204.18 L628.74,204.48 L630.48,204.69 L632.22,204.81 L633.96,204.83 L635.70,204.75" stroke="#ff00ff" stroke-width="1.5" fill="none"/>
<path d="M428.7,46.3V74.3M426.5,46.3H430.9M426.5,74.3H430.9" stroke="#ff00ff" stroke-width="1" fill="none"/>
<path d="M451.7,46.56V63.16M449.5,46.56H453.9M449.5,63.16H453.9" stroke="#ff00ff" stroke-width="1" fill="none"/>
<path d="M474.7,53.6V79.6M472.5,53.6H476.9M472.5,79.6H476.9" stroke="#ff00ff" stroke-width="1" fill="none"/>
<path d="M497.7,72.34V84.34M495.5,72.34H499.9M495.5,84.34H499.9" stroke="#ff00ff" stroke-width="1" fill="none"/>
<path d="M520.7,89.67V99.67M518.5,89.67H522.9M518.5,99.67H522.9" stroke="#ff00ff" stroke-width="1" fill="none"/>
<path d="M543.7,117.59V127.59M541.5,117.59H545.9M541.5,127.59H545.9" stroke="#ff00ff" stroke-width="1" fill="none"/>
<path d="M566.7,148.38V156.38M564.5,148.38H568.9M564.5,156.38H568.9" stroke="#ff00ff" stroke-width="1" fill="none"/>
<path d="M589.7,175.01V181.01M587.5,175.01H591.9M587.5,181.01H591.9" stroke="#ff00ff" stroke-width="1" fill="none"/>
<path d="M612.7,197.21V203.21M610.5,197.21H614.9M610.5,203.21H614.9" stroke="#ff00ff" stroke-width="1" fill="none"/>
<path d="M635.7,201.93V205.93M633.5,201.93H637.9M633.5,205.93H637.9" stroke="#ff00ff" stroke-width="1" fill="none"/>
<polygon points="424.2,56.2 433.2,56.2 428.7,64.4" fill="#ff00ff"/>
<polygon points="447.2,50.76 456.2,50.76 451.7,58.96" fill="#ff00ff"/>
<polygon points="470.2,62.5 479.2,62.5 474.7,70.7" fill="#ff00ff"/>
<polygon points="493.2,74.24 502.2,74.24 497.7,82.44" fill="#ff00ff"/>
<polygon points="516.2,90.57 525.2,90.57 520.7,98.77" fill="#ff00ff"/>
<polygon points="539.2,118.49 548.2,118.49 543.7,126.69" fill="#ff00ff"/>
<polygon points="562.2,148.28 571.2,148.28 566.7,156.48" fill="#ff00ff"/>
<polygon points="585.2,173.91 594.2,173.91 589.7,182.11" fill="#ff00ff"/>
<polygon points="608.2,196.11 617.2,196.11 612.7,204.31" fill="#ff00ff"/>
<polygon points="631.2,199.83 640.2,199.83 635.7,208.03" fill="#ff00ff"/>
<path d="M428.70,60.14 L430.44,60.67 L432.18,61.19 L433.92,61.70 L435.66,62.20 L437.40,62.69 L439.14,63.17 L440.88,63.64 L442.62,64.10 L444.36,64.55 L446.09,65.00 L447.83,65.43 L449.57,65.85 L451.31,66.26 L453.05,66.66 L454.79,67.05 L456.53,67.44 L458.27,67.81 L460.01,68.18 L461.75,68.53 L463.49,68.88 L465.23,69.21 L466.97,69.54 L468.71,69.86 L470.45,70.17 L472.19,70.47 L473.93,70.76 L475.67,71.05 L477.41,71.32 L479.15,71.59 L480.88,71.85 L482.62,72.09 L484.36,72.33 L486.10,72.57 L487.84,72.79 L489.58,73.00 L491.32,73.21 L493.06,73.41 L494.80,73.60 L496.54,73.78 L498.28,73.96 L500.02,74.12 L501.76,74.28 L503.50,74.43 L505.24,74.57 L506.98,74.71 L508.72,74.83 L510.46,74.95 L512.20,75.06 L513.94,75.17 L515.67,75.26 L517.41,75.35 L519.15,75.43 L520.89,75.51 L522.63,75.57 L524.37,75.63 L526.11,75.69 L527.85,75.73 L529.59,75.77 L531.33,75.80 L533.07,75.82 L534.81,75.84 L536.55,75.85 L538.29,75.86 L540.03,75.85 L541.77,75.84 L543.51,75.83 L545.25,75.81 L546.99,75.78 L548.73,75.74 L550.46,75.70 L552.20,75.65 L553.94,75.60 L555.68,75.54 L557.42,75.48 L559.16,75.41 L560.90,75.33 L562.64,75.25 L564.38,75.17 L566.12,75.08 L567.86,74.98 L569.60,74.89 L571.34,74.79 L573.08,74.68 L574.82,74.58 L576.56,74.47 L578.30,74.37 L580.04,74.26 L581.78,74.16 L583.52,74.06 L585.25,73.96 L586.99,73.87 L588.73,73.78 L590.47,73.70 L592.21,73.62 L593.95,73.55 L595.69,73.49 L597.43,73.44 L599.17,73.40 L600.91,73.38 L602.65,73.36 L604.39,73.36 L606.13,73.37 L607.87,73.40 L609.61,73.44 L611.35,73.51 L613.09,73.59 L614.83,73.69 L616.57,73.81 L618.31,73.95 L620.04,74.11 L621.78,74.30 L623.52,74.51 L625.26,74.75 L627.00,75.01 L628.74,75.30 L630.48,75.62 L632.22,75.97 L633.96,76.35 L635.70,76.76" stroke="#808080" stroke-width="1.4" fill="none"/>
<path d="M428.7,56.3V64.3M426.5,56.3H430.9M426.5,64.3H430.9" stroke="#808080" stroke-width="1" fill="none"/>
<path d="M451.7,60.74V70.74M449.5,60.74H453.9M449.5,70.74H453.9" stroke="#808080" stroke-width="1" fill="none"/>
<path d="M474.7,66.61V76.61M472.5,66.61H476.9M472.5,76.61H476.9" stroke="#808080" stroke-width="1" fill="none"/>
<path d="M497.7,68.62V78.62M495.5,68.62H499.9M495.5,78.62H499.9" stroke="#808080" stroke-width="1" fill="none"/>
<path d="M520.7,61.49V88.89M518.5,61.49H522.9M518.5,88.89H522.9" stroke="#808080" stroke-width="1" fill="none"/>
<path d="M543.7,63.77V87.77M541.5,63.77H545.9M541.5,87.77H545.9" stroke="#808080" stroke-width="1" fill="none"/>
<path d="M566.7,66.34V86.34M564.5,66.34H568.9M564.5,86.34H568.9" stroke="#808080" stroke-width="1" fill="none"/>
<path d="M589.7,63.36V82.16M587.5,63.36H591.9M587.5,82.16H591.9" stroke="#808080" stroke-width="1" fill="none"/>
<path d="M612.7,66.55V81.55M610.5,66.55H614.9M610.5,81.55H614.9" stroke="#808080" stroke-width="1" fill="none"/>
<path d="M635.7,66.61V87.21M633.5,66.61H637.9M633.5,87.21H637.9" stroke="#808080" stroke-width="1" fill="none"/>
<rect x="425.4" y="57" width="6.6" height="6.6" fill="#808080"/>
<rect x="448.4" y="62.44" width="6.6" height="6.6" fill="#808080"/>
<rect x="471.4" y="68.31" width="6.6" height="6.6" fill="#808080"/>
<rect x="494.4" y="70.32" width="6.6" height="6.6" fill="#808080"/>
<rect x="517.4" y="71.89" width="6.6" height="6.6" fill="#808080"/>
<rect x="540.4" y="72.47" width="6.6" height="6.6" fill="#808080"/>
<rect x="563.4" y="73.04" width="6.6" height="6.6" fill="#808080"/>
<rect x="586.4" y="69.46" width="6.6" height="6.6" fill="#808080"/>
<rect x="609.4" y="70.75" width="6.6" height="6.6" fill="#808080"/>
<rect x="632.4" y="73.61" width="6.6" height="6.6" fill="#808080"/>
<text x="421.7" y="229.5" font-size="12" fill="#111" transform="rotate(45 421.7 229.5)" >0</text>
<text x="444.7" y="229.5" font-size="12" fill="#111" transform="rotate(45 444.7 229.5)" >15</text>
<text x="467.7" y="229.5" font-size="12" fill="#111" transform="rotate(45 467.7 229.5)" >30</text>
<text x="490.7" y="229.5" font-size="12" fill="#111" transform="rotate(45 490.7 229.5)" >62</text>
<text x="513.7" y="229.5" font-size="12" fill="#111" transform="rotate(45 513.7 229.5)" >125</text>
<text x="536.7" y="229.5" font-size="12" fill="#111" transform="rotate(45 536.7 229.5)" >250</text>
<text x="559.7" y="229.5" font-size="12" fill="#111" transform="rotate(45 559.7 229.5)" >500</text>
<text x="582.7" y="229.5" font-size="12" fill="#111" transform="rotate(45 582.7 229.5)" >1000</text>
<text x="605.7" y="229.5" font-size="12" fill="#111" transform="rotate(45 605.7 229.5)" >2000</text>
<text x="628.7" y="229.5" font-size="12" fill="#111" transform="rotate(45 628.7 229.5)" >4000</text>
<text x="450.8" y="265" font-size="12" fill="#111" textLength="163.6" lengthAdjust="spacingAndGlyphs" >Concentrations of AMPs (nM)</text>
<text x="376.3" y="175.9" font-size="12" fill="#111" textLength="112.8" lengthAdjust="spacingAndGlyphs" transform="rotate(-90 376.3 175.9)" >Relative cell biomass</text>
<polygon points="429.1,130.7 438.1,130.7 433.6,122.5" fill="#ff8000"/>
<text x="443.6" y="129.7" font-size="10.3" fill="#111" >cL3</text>
<polygon points="429.1,136.2 438.1,136.2 433.6,144.4" fill="#ff00ff"/>
<text x="443.6" y="142.4" font-size="10.3" fill="#111" >rL3</text>
<rect x="430.4" y="148.7" width="6.6" height="6.6" fill="#808080"/>
<text x="443.6" y="155" font-size="10.3" fill="#111" textLength="66.9" lengthAdjust="spacingAndGlyphs" >rSHTL3THHly</text>
<text x="582.8" y="164.2" font-size="11" fill="#ff00ff" textLength="67.5" lengthAdjust="spacingAndGlyphs" >MIC=2.66 uM</text>
<text x="509.7" y="195" font-size="11" fill="#ff8000" textLength="67.9" lengthAdjust="spacingAndGlyphs" >MIC=1.87 uM</text>
<text x="361" y="17.8" font-size="23" fill="#000" >B</text>
<rect x="55.5" y="318.5" width="249" height="184" fill="none" stroke="#1e1e1e" stroke-width="1.1"/>
<line x1="51.5" y1="332" x2="55.5" y2="332" stroke="#1e1e1e" stroke-width="1.1"/>
<line x1="304.5" y1="332" x2="308.5" y2="332" stroke="#1e1e1e" stroke-width="1.1"/>
<text x="47.9" y="336.5" font-size="12.5" fill="#111" text-anchor="end" >1.0</text>
<text x="312.6" y="336.5" font-size="12.5" fill="#111" >1.0</text>
<line x1="51.5" y1="363.24" x2="55.5" y2="363.24" stroke="#1e1e1e" stroke-width="1.1"/>
<line x1="304.5" y1="363.24" x2="308.5" y2="363.24" stroke="#1e1e1e" stroke-width="1.1"/>
<text x="47.9" y="367.74" font-size="12.5" fill="#111" text-anchor="end" >0.8</text>
<text x="312.6" y="367.74" font-size="12.5" fill="#111" >0.8</text>
<line x1="51.5" y1="394.48" x2="55.5" y2="394.48" stroke="#1e1e1e" stroke-width="1.1"/>
<line x1="304.5" y1="394.48" x2="308.5" y2="394.48" stroke="#1e1e1e" stroke-width="1.1"/>
<text x="47.9" y="398.98" font-size="12.5" fill="#111" text-anchor="end" >0.6</text>
<text x="312.6" y="398.98" font-size="12.5" fill="#111" >0.6</text>
<line x1="51.5" y1="425.72" x2="55.5" y2="425.72" stroke="#1e1e1e" stroke-width="1.1"/>
<line x1="304.5" y1="425.72" x2="308.5" y2="425.72" stroke="#1e1e1e" stroke-width="1.1"/>
<text x="47.9" y="430.22" font-size="12.5" fill="#111" text-anchor="end" >0.4</text>
<text x="312.6" y="430.22" font-size="12.5" fill="#111" >0.4</text>
<line x1="51.5" y1="456.96" x2="55.5" y2="456.96" stroke="#1e1e1e" stroke-width="1.1"/>
<line x1="304.5" y1="456.96" x2="308.5" y2="456.96" stroke="#1e1e1e" stroke-width="1.1"/>
<text x="47.9" y="461.46" font-size="12.5" fill="#111" text-anchor="end" >0.2</text>
<text x="312.6" y="461.46" font-size="12.5" fill="#111" >0.2</text>
<line x1="51.5" y1="488.2" x2="55.5" y2="488.2" stroke="#1e1e1e" stroke-width="1.1"/>
<line x1="304.5" y1="488.2" x2="308.5" y2="488.2" stroke="#1e1e1e" stroke-width="1.1"/>
<text x="47.9" y="492.7" font-size="12.5" fill="#111" text-anchor="end" >0.0</text>
<text x="312.6" y="492.7" font-size="12.5" fill="#111" >0.0</text>
<line x1="53" y1="347.62" x2="55.5" y2="347.62" stroke="#1e1e1e" stroke-width="1.0"/>
<line x1="304.5" y1="347.62" x2="307" y2="347.62" stroke="#1e1e1e" stroke-width="1.0"/>
<line x1="53" y1="378.86" x2="55.5" y2="378.86" stroke="#1e1e1e" stroke-width="1.0"/>
<line x1="304.5" y1="378.86" x2="307" y2="378.86" stroke="#1e1e1e" stroke-width="1.0"/>
<line x1="53" y1="410.1" x2="55.5" y2="410.1" stroke="#1e1e1e" stroke-width="1.0"/>
<line x1="304.5" y1="410.1" x2="307" y2="410.1" stroke="#1e1e1e" stroke-width="1.0"/>
<line x1="53" y1="441.34" x2="55.5" y2="441.34" stroke="#1e1e1e" stroke-width="1.0"/>
<line x1="304.5" y1="441.34" x2="307" y2="441.34" stroke="#1e1e1e" stroke-width="1.0"/>
<line x1="53" y1="472.58" x2="55.5" y2="472.58" stroke="#1e1e1e" stroke-width="1.0"/>
<line x1="304.5" y1="472.58" x2="307" y2="472.58" stroke="#1e1e1e" stroke-width="1.0"/>
<line x1="80.9" y1="502.5" x2="80.9" y2="506.5" stroke="#1e1e1e" stroke-width="1.1"/>
<line x1="109.1" y1="502.5" x2="109.1" y2="506.5" stroke="#1e1e1e" stroke-width="1.1"/>
<line x1="137.3" y1="502.5" x2="137.3" y2="506.5" stroke="#1e1e1e" stroke-width="1.1"/>
<line x1="165.5" y1="502.5" x2="165.5" y2="506.5" stroke="#1e1e1e" stroke-width="1.1"/>
<line x1="193.7" y1="502.5" x2="193.7" y2="506.5" stroke="#1e1e1e" stroke-width="1.1"/>
<line x1="221.9" y1="502.5" x2="221.9" y2="506.5" stroke="#1e1e1e" stroke-width="1.1"/>
<line x1="250.1" y1="502.5" x2="250.1" y2="506.5" stroke="#1e1e1e" stroke-width="1.1"/>
<line x1="278.3" y1="502.5" x2="278.3" y2="506.5" stroke="#1e1e1e" stroke-width="1.1"/>
<path d="M80.90,331.89 L82.56,333.01 L84.22,334.20 L85.88,335.47 L87.54,336.81 L89.19,338.22 L90.85,339.69 L92.51,341.22 L94.17,342.81 L95.83,344.45 L97.49,346.13 L99.15,347.86 L100.81,349.63 L102.46,351.43 L104.12,353.27 L105.78,355.13 L107.44,357.02 L109.10,358.92 L110.76,360.84 L112.42,362.78 L114.08,364.71 L115.74,366.65 L117.39,368.59 L119.05,370.53 L120.71,372.46 L122.37,374.38 L124.03,376.29 L125.69,378.21 L127.35,380.11 L129.01,382.02 L130.66,383.92 L132.32,385.83 L133.98,387.73 L135.64,389.64 L137.30,391.54 L138.96,393.45 L140.62,395.37 L142.28,397.29 L143.94,399.21 L145.59,401.15 L147.25,403.09 L148.91,405.04 L150.57,407.00 L152.23,408.97 L153.89,410.95 L155.55,412.95 L157.21,414.96 L158.86,416.98 L160.52,419.02 L162.18,421.08 L163.84,423.15 L165.50,425.24 L167.16,427.35 L168.82,429.48 L170.48,431.62 L172.14,433.76 L173.79,435.91 L175.45,438.06 L177.11,440.20 L178.77,442.34 L180.43,444.46 L182.09,446.57 L183.75,448.64 L185.41,450.67 L187.06,452.65 L188.72,454.57 L190.38,456.42 L192.04,458.19 L193.70,459.87 L195.36,461.45 L197.02,462.95 L198.68,464.37 L200.34,465.73 L201.99,467.04 L203.65,468.30 L205.31,469.52 L206.97,470.69 L208.63,471.82 L210.29,472.90 L211.95,473.95 L213.61,474.95 L215.26,475.92 L216.92,476.86 L218.58,477.76 L220.24,478.64 L221.90,479.48 L223.56,480.29 L225.22,481.08 L226.88,481.83 L228.54,482.56 L230.19,483.26 L231.85,483.92 L233.51,484.56 L235.17,485.17 L236.83,485.74 L238.49,486.28 L240.15,486.79 L241.81,487.27 L243.46,487.71 L245.12,488.12 L246.78,488.49 L248.44,488.83 L250.10,489.14 L251.76,489.41 L253.42,489.64 L255.08,489.84 L256.74,490.00 L258.39,490.12 L260.05,490.21 L261.71,490.25 L263.37,490.26 L265.03,490.23 L266.69,490.15 L268.35,490.04 L270.01,489.89 L271.66,489.70 L273.32,489.46 L274.98,489.19 L276.64,488.87 L278.30,488.50" stroke="#ff0000" stroke-width="1.5" fill="none"/>
<path d="M80.9,326V338M78.7,326H83.1M78.7,338H83.1" stroke="#ff0000" stroke-width="1" fill="none"/>
<path d="M109.1,351.62V368.62M106.9,351.62H111.3M106.9,368.62H111.3" stroke="#ff0000" stroke-width="1" fill="none"/>
<path d="M137.3,380.68V400.47M135.1,380.68H139.5M135.1,400.47H139.5" stroke="#ff0000" stroke-width="1" fill="none"/>
<path d="M165.5,419.05V431.45M163.3,419.05H167.7M163.3,431.45H167.7" stroke="#ff0000" stroke-width="1" fill="none"/>
<path d="M193.7,457.11V467.11M191.5,457.11H195.9M191.5,467.11H195.9" stroke="#ff0000" stroke-width="1" fill="none"/>
<path d="M221.9,476.83V480.83M219.7,476.83H224.1M219.7,480.83H224.1" stroke="#ff0000" stroke-width="1" fill="none"/>
<path d="M250.1,487.29V491.29M247.9,487.29H252.3M247.9,491.29H252.3" stroke="#ff0000" stroke-width="1" fill="none"/>
<path d="M278.3,486.36V490.36M276.1,486.36H280.5M276.1,490.36H280.5" stroke="#ff0000" stroke-width="1" fill="none"/>
<rect x="77.6" y="328.7" width="6.6" height="6.6" fill="#ff0000"/>
<rect x="105.8" y="356.82" width="6.6" height="6.6" fill="#ff0000"/>
<rect x="134" y="387.27" width="6.6" height="6.6" fill="#ff0000"/>
<rect x="162.2" y="421.95" width="6.6" height="6.6" fill="#ff0000"/>
<rect x="190.4" y="458.81" width="6.6" height="6.6" fill="#ff0000"/>
<rect x="218.6" y="475.53" width="6.6" height="6.6" fill="#ff0000"/>
<rect x="246.8" y="485.99" width="6.6" height="6.6" fill="#ff0000"/>
<rect x="275" y="485.06" width="6.6" height="6.6" fill="#ff0000"/>
<path d="M80.90,331.92 L82.56,331.27 L84.22,330.74 L85.88,330.31 L87.54,329.99 L89.19,329.77 L90.85,329.66 L92.51,329.64 L94.17,329.72 L95.83,329.89 L97.49,330.15 L99.15,330.50 L100.81,330.94 L102.46,331.46 L104.12,332.06 L105.78,332.74 L107.44,333.50 L109.10,334.33 L110.76,335.23 L112.42,336.20 L114.08,337.23 L115.74,338.33 L117.39,339.49 L119.05,340.71 L120.71,341.99 L122.37,343.32 L124.03,344.71 L125.69,346.16 L127.35,347.65 L129.01,349.21 L130.66,350.81 L132.32,352.47 L133.98,354.18 L135.64,355.94 L137.30,357.75 L138.96,359.60 L140.62,361.50 L142.28,363.44 L143.94,365.40 L145.59,367.38 L147.25,369.37 L148.91,371.36 L150.57,373.35 L152.23,375.35 L153.89,377.35 L155.55,379.36 L157.21,381.40 L158.86,383.45 L160.52,385.52 L162.18,387.63 L163.84,389.77 L165.50,391.96 L167.16,394.18 L168.82,396.43 L170.48,398.72 L172.14,401.02 L173.79,403.35 L175.45,405.69 L177.11,408.03 L178.77,410.38 L180.43,412.72 L182.09,415.05 L183.75,417.37 L185.41,419.67 L187.06,421.93 L188.72,424.17 L190.38,426.37 L192.04,428.53 L193.70,430.63 L195.36,432.68 L197.02,434.68 L198.68,436.60 L200.34,438.46 L201.99,440.24 L203.65,441.93 L205.31,443.55 L206.97,445.10 L208.63,446.58 L210.29,448.00 L211.95,449.38 L213.61,450.71 L215.26,452.02 L216.92,453.30 L218.58,454.56 L220.24,455.82 L221.90,457.07 L223.56,458.33 L225.22,459.60 L226.88,460.86 L228.54,462.13 L230.19,463.39 L231.85,464.63 L233.51,465.87 L235.17,467.09 L236.83,468.29 L238.49,469.47 L240.15,470.62 L241.81,471.74 L243.46,472.82 L245.12,473.87 L246.78,474.88 L248.44,475.85 L250.10,476.77 L251.76,477.63 L253.42,478.45 L255.08,479.20 L256.74,479.90 L258.39,480.53 L260.05,481.09 L261.71,481.58 L263.37,482.00 L265.03,482.34 L266.69,482.59 L268.35,482.76 L270.01,482.85 L271.66,482.84 L273.32,482.73 L274.98,482.53 L276.64,482.22 L278.30,481.81" stroke="#1a8a1a" stroke-width="1.5" fill="none"/>
<path d="M80.9,326V338M78.7,326H83.1M78.7,338H83.1" stroke="#1a8a1a" stroke-width="1" fill="none"/>
<path d="M109.1,327.92V342.32M106.9,327.92H111.3M106.9,342.32H111.3" stroke="#1a8a1a" stroke-width="1" fill="none"/>
<path d="M137.3,349.74V363.94M135.1,349.74H139.5M135.1,363.94H139.5" stroke="#1a8a1a" stroke-width="1" fill="none"/>
<path d="M165.5,382.68V398.47M163.3,382.68H167.7M163.3,398.47H167.7" stroke="#1a8a1a" stroke-width="1" fill="none"/>
<path d="M193.7,429.03V433.03M191.5,429.03H195.9M191.5,433.03H195.9" stroke="#1a8a1a" stroke-width="1" fill="none"/>
<path d="M221.9,453.87V457.87M219.7,453.87H224.1M219.7,457.87H224.1" stroke="#1a8a1a" stroke-width="1" fill="none"/>
<path d="M250.1,475.73V479.73M247.9,475.73H252.3M247.9,479.73H252.3" stroke="#1a8a1a" stroke-width="1" fill="none"/>
<path d="M278.3,479.8V483.8M276.1,479.8H280.5M276.1,483.8H280.5" stroke="#1a8a1a" stroke-width="1" fill="none"/>
<circle cx="80.9" cy="332" r="4" fill="#1a8a1a"/>
<circle cx="109.1" cy="335.12" r="4" fill="#1a8a1a"/>
<circle cx="137.3" cy="356.84" r="4" fill="#1a8a1a"/>
<circle cx="165.5" cy="390.57" r="4" fill="#1a8a1a"/>
<circle cx="193.7" cy="431.03" r="4" fill="#1a8a1a"/>
<circle cx="221.9" cy="455.87" r="4" fill="#1a8a1a"/>
<circle cx="250.1" cy="477.73" r="4" fill="#1a8a1a"/>
<circle cx="278.3" cy="481.8" r="4" fill="#1a8a1a"/>
<text x="80.9" y="519.7" font-size="12" fill="#111" text-anchor="middle" >0</text>
<text x="109.1" y="519.7" font-size="12" fill="#111" text-anchor="middle" >1</text>
<text x="137.3" y="519.7" font-size="12" fill="#111" text-anchor="middle" >2</text>
<text x="165.5" y="519.7" font-size="12" fill="#111" text-anchor="middle" >4</text>
<text x="193.7" y="519.7" font-size="12" fill="#111" text-anchor="middle" >8</text>
<text x="221.9" y="519.7" font-size="12" fill="#111" text-anchor="middle" >16</text>
<text x="250.1" y="519.7" font-size="12" fill="#111" text-anchor="middle" >32</text>
<text x="278.3" y="519.7" font-size="12" fill="#111" text-anchor="middle" >64</text>
<text x="99.1" y="538.7" font-size="12" fill="#111" textLength="164.7" lengthAdjust="spacingAndGlyphs" >Concentrations of AMPs (μM)</text>
<text x="20.9" y="469.1" font-size="12" fill="#111" textLength="112.5" lengthAdjust="spacingAndGlyphs" transform="rotate(-90 20.9 469.1)" >Relative cell number</text>
<rect x="208.43" y="332.73" width="5.94" height="5.94" fill="#ff0000"/>
<text x="221.9" y="338.8" font-size="11" fill="#111" textLength="26.7" lengthAdjust="spacingAndGlyphs" >cA12</text>
<circle cx="211.4" cy="351.9" r="4" fill="#1a8a1a"/>
<text x="221.9" y="355" font-size="11" fill="#111" textLength="26.7" lengthAdjust="spacingAndGlyphs" >rA12</text>
<text x="187" y="409.3" font-size="12.3" fill="#1a8a1a">IC<tspan font-size="8.2" dy="4.3">50</tspan><tspan dy="-4.3">=4.42 μM</tspan></text>
<text x="75.4" y="427.9" font-size="12.3" fill="#ff0000">IC<tspan font-size="8.2" dy="4.3">50</tspan><tspan dy="-4.3">=3.43 μM</tspan></text>
<text x="7.2" y="310.7" font-size="26" fill="#000" >C</text>
<text x="359.5" y="310.7" font-size="26" fill="#000" >D</text>
<text x="442.6" y="308.8" font-size="11.5" fill="#111" textLength="21" lengthAdjust="spacingAndGlyphs" >Ctrl</text>
<rect x="409.2" y="317.7" width="92.6" height="93" fill="#999" filter="url(#texA)"/>
<clipPath id="mc1"><rect x="409.2" y="317.7" width="92.6" height="93"/></clipPath><g clip-path="url(#mc1)"><g filter="url(#wob)">
<ellipse cx="421.6" cy="396.5" rx="7.8" ry="1.5" transform="rotate(89 421.6 396.5)" fill="#858585" fill-opacity="0.6" stroke="#d2d2d2" stroke-width="0.7" stroke-opacity="0.75"/>
<ellipse cx="450.8" cy="378.3" rx="7.9" ry="1.3" transform="rotate(5 450.8 378.3)" fill="#858585" fill-opacity="0.6" stroke="#d2d2d2" stroke-width="0.7" stroke-opacity="0.75"/>
<ellipse cx="486.6" cy="357.9" rx="7.8" ry="1.2" transform="rotate(80 486.6 357.9)" fill="#858585" fill-opacity="0.6" stroke="#d2d2d2" stroke-width="0.7" stroke-opacity="0.75"/>
<ellipse cx="476.0" cy="339.0" rx="8.7" ry="2.3" transform="rotate(6 476.0 339.0)" fill="#858585" fill-opacity="0.6" stroke="#d2d2d2" stroke-width="0.7" stroke-opacity="0.75"/>
<ellipse cx="411.6" cy="368.1" rx="8.7" ry="1.7" transform="rotate(39 411.6 368.1)" fill="#858585" fill-opacity="0.6" stroke="#d2d2d2" stroke-width="0.7" stroke-opacity="0.75"/>
<ellipse cx="448.3" cy="320.4" rx="5.1" ry="1.7" transform="rotate(89 448.3 320.4)" fill="#858585" fill-opacity="0.6" stroke="#d2d2d2" stroke-width="0.7" stroke-opacity="0.75"/>
<ellipse cx="430.8" cy="339.2" rx="5.1" ry="1.8" transform="rotate(52 430.8 339.2)" fill="#858585" fill-opacity="0.6" stroke="#d2d2d2" stroke-width="0.7" stroke-opacity="0.75"/>
<ellipse cx="411.2" cy="395.6" rx="6.8" ry="2.0" transform="rotate(33 411.2 395.6)" fill="#858585" fill-opacity="0.6" stroke="#d2d2d2" stroke-width="0.7" stroke-opacity="0.75"/>
<ellipse cx="501.1" cy="397.7" rx="4.6" ry="1.6" transform="rotate(130 501.1 397.7)" fill="#858585" fill-opacity="0.6" stroke="#d2d2d2" stroke-width="0.7" stroke-opacity="0.75"/>
<ellipse cx="475.1" cy="404.8" rx="6.1" ry="2.2" transform="rotate(121 475.1 404.8)" fill="#858585" fill-opacity="0.6" stroke="#d2d2d2" stroke-width="0.7" stroke-opacity="0.75"/>
<ellipse cx="437.3" cy="372.3" rx="8.4" ry="2.2" transform="rotate(91 437.3 372.3)" fill="#858585" fill-opacity="0.6" stroke="#d2d2d2" stroke-width="0.7" stroke-opacity="0.75"/>
<ellipse cx="463.7" cy="320.9" rx="5.2" ry="2.2" transform="rotate(75 463.7 320.9)" fill="#858585" fill-opacity="0.6" stroke="#d2d2d2" stroke-width="0.7" stroke-opacity="0.75"/>
<ellipse cx="425.2" cy="368.7" rx="7.5" ry="2.0" transform="rotate(67 425.2 368.7)" fill="#858585" fill-opacity="0.6" stroke="#d2d2d2" stroke-width="0.7" stroke-opacity="0.75"/>
<ellipse cx="449.8" cy="365.0" rx="7.9" ry="1.8" transform="rotate(71 449.8 365.0)" fill="#858585" fill-opacity="0.6" stroke="#d2d2d2" stroke-width="0.7" stroke-opacity="0.75"/>
<ellipse cx="454.5" cy="320.5" rx="4.2" ry="2.0" transform="rotate(177 454.5 320.5)" fill="#858585" fill-opacity="0.6" stroke="#d2d2d2" stroke-width="0.7" stroke-opacity="0.75"/>
<ellipse cx="464.1" cy="354.3" rx="4.9" ry="1.8" transform="rotate(177 464.1 354.3)" fill="#858585" fill-opacity="0.6" stroke="#d2d2d2" stroke-width="0.7" stroke-opacity="0.75"/>
<ellipse cx="480.6" cy="367.9" rx="8.3" ry="1.5" transform="rotate(92 480.6 367.9)" fill="#858585" fill-opacity="0.6" stroke="#d2d2d2" stroke-width="0.7" stroke-opacity="0.75"/>
<ellipse cx="497.4" cy="371.4" rx="6.3" ry="1.5" transform="rotate(99 497.4 371.4)" fill="#858585" fill-opacity="0.6" stroke="#d2d2d2" stroke-width="0.7" stroke-opacity="0.75"/>
<ellipse cx="497.8" cy="318.2" rx="7.9" ry="2.2" transform="rotate(160 497.8 318.2)" fill="#858585" fill-opacity="0.6" stroke="#d2d2d2" stroke-width="0.7" stroke-opacity="0.75"/>
<ellipse cx="477.8" cy="393.0" rx="6.6" ry="1.9" transform="rotate(77 477.8 393.0)" fill="#858585" fill-opacity="0.6" stroke="#d2d2d2" stroke-width="0.7" stroke-opacity="0.75"/>
<ellipse cx="414.4" cy="398.6" rx="6.8" ry="1.4" transform="rotate(91 414.4 398.6)" fill="#858585" fill-opacity="0.6" stroke="#d2d2d2" stroke-width="0.7" stroke-opacity="0.75"/>
<ellipse cx="454.1" cy="350.9" rx="5.7" ry="1.8" transform="rotate(112 454.1 350.9)" fill="#858585" fill-opacity="0.6" stroke="#d2d2d2" stroke-width="0.7" stroke-opacity="0.75"/>
<ellipse cx="465.9" cy="360.3" rx="4.1" ry="1.5" transform="rotate(32 465.9 360.3)" fill="#858585" fill-opacity="0.6" stroke="#d2d2d2" stroke-width="0.7" stroke-opacity="0.75"/>
<ellipse cx="463.3" cy="397.8" rx="8.0" ry="2.2" transform="rotate(147 463.3 397.8)" fill="#858585" fill-opacity="0.6" stroke="#d2d2d2" stroke-width="0.7" stroke-opacity="0.75"/>
<ellipse cx="432.8" cy="396.0" rx="7.4" ry="1.3" transform="rotate(3 432.8 396.0)" fill="#858585" fill-opacity="0.6" stroke="#d2d2d2" stroke-width="0.7" stroke-opacity="0.75"/>
<ellipse cx="410.5" cy="388.0" rx="5.2" ry="1.3" transform="rotate(112 410.5 388.0)" fill="#858585" fill-opacity="0.6" stroke="#d2d2d2" stroke-width="0.7" stroke-opacity="0.75"/>
<ellipse cx="441.1" cy="324.2" rx="4.8" ry="1.8" transform="rotate(30 441.1 324.2)" fill="#858585" fill-opacity="0.6" stroke="#d2d2d2" stroke-width="0.7" stroke-opacity="0.75"/>
<ellipse cx="434.5" cy="383.9" rx="6.3" ry="1.6" transform="rotate(85 434.5 383.9)" fill="#858585" fill-opacity="0.6" stroke="#d2d2d2" stroke-width="0.7" stroke-opacity="0.75"/>
<ellipse cx="411.4" cy="353.6" rx="6.1" ry="1.4" transform="rotate(20 411.4 353.6)" fill="#858585" fill-opacity="0.6" stroke="#d2d2d2" stroke-width="0.7" stroke-opacity="0.75"/>
<ellipse cx="492.5" cy="365.1" rx="5.0" ry="1.9" transform="rotate(147 492.5 365.1)" fill="#858585" fill-opacity="0.6" stroke="#d2d2d2" stroke-width="0.7" stroke-opacity="0.75"/>
<ellipse cx="411.1" cy="319.4" rx="4.7" ry="2.1" transform="rotate(29 411.1 319.4)" fill="#858585" fill-opacity="0.6" stroke="#d2d2d2" stroke-width="0.7" stroke-opacity="0.75"/>
<ellipse cx="474.4" cy="380.8" rx="6.7" ry="1.5" transform="rotate(176 474.4 380.8)" fill="#858585" fill-opacity="0.6" stroke="#d2d2d2" stroke-width="0.7" stroke-opacity="0.75"/>
<ellipse cx="483.1" cy="365.7" rx="5.1" ry="2.0" transform="rotate(71 483.1 365.7)" fill="#858585" fill-opacity="0.6" stroke="#d2d2d2" stroke-width="0.7" stroke-opacity="0.75"/>
<ellipse cx="462.5" cy="347.6" rx="7.2" ry="1.3" transform="rotate(54 462.5 347.6)" fill="#858585" fill-opacity="0.6" stroke="#d2d2d2" stroke-width="0.7" stroke-opacity="0.75"/>
<ellipse cx="498.8" cy="399.1" rx="5.5" ry="2.2" transform="rotate(56 498.8 399.1)" fill="#858585" fill-opacity="0.6" stroke="#d2d2d2" stroke-width="0.7" stroke-opacity="0.75"/>
<ellipse cx="496.2" cy="386.9" rx="6.1" ry="1.5" transform="rotate(2 496.2 386.9)" fill="#858585" fill-opacity="0.6" stroke="#d2d2d2" stroke-width="0.7" stroke-opacity="0.75"/>
<ellipse cx="490.6" cy="321.2" rx="8.1" ry="2.4" transform="rotate(103 490.6 321.2)" fill="#858585" fill-opacity="0.6" stroke="#d2d2d2" stroke-width="0.7" stroke-opacity="0.75"/>
<ellipse cx="425.1" cy="398.4" rx="8.9" ry="2.0" transform="rotate(92 425.1 398.4)" fill="#858585" fill-opacity="0.6" stroke="#d2d2d2" stroke-width="0.7" stroke-opacity="0.75"/>
<ellipse cx="444.2" cy="350.0" rx="5.0" ry="2.0" transform="rotate(78 444.2 350.0)" fill="#858585" fill-opacity="0.6" stroke="#d2d2d2" stroke-width="0.7" stroke-opacity="0.75"/>
<ellipse cx="427.2" cy="327.4" rx="7.3" ry="1.6" transform="rotate(90 427.2 327.4)" fill="#858585" fill-opacity="0.6" stroke="#d2d2d2" stroke-width="0.7" stroke-opacity="0.75"/>
<ellipse cx="439.3" cy="398.8" rx="8.5" ry="1.2" transform="rotate(36 439.3 398.8)" fill="#858585" fill-opacity="0.6" stroke="#d2d2d2" stroke-width="0.7" stroke-opacity="0.75"/>
<ellipse cx="439.5" cy="409.5" rx="7.9" ry="1.6" transform="rotate(38 439.5 409.5)" fill="#858585" fill-opacity="0.6" stroke="#d2d2d2" stroke-width="0.7" stroke-opacity="0.75"/>
<ellipse cx="471.7" cy="395.6" rx="8.7" ry="1.6" transform="rotate(159 471.7 395.6)" fill="#858585" fill-opacity="0.6" stroke="#d2d2d2" stroke-width="0.7" stroke-opacity="0.75"/>
<ellipse cx="472.8" cy="362.8" rx="8.9" ry="1.5" transform="rotate(131 472.8 362.8)" fill="#858585" fill-opacity="0.6" stroke="#d2d2d2" stroke-width="0.7" stroke-opacity="0.75"/>
<ellipse cx="417.0" cy="333.5" rx="8.6" ry="1.5" transform="rotate(137 417.0 333.5)" fill="#858585" fill-opacity="0.6" stroke="#d2d2d2" stroke-width="0.7" stroke-opacity="0.75"/>
<ellipse cx="464.8" cy="395.9" rx="5.8" ry="1.6" transform="rotate(52 464.8 395.9)" fill="#858585" fill-opacity="0.6" stroke="#d2d2d2" stroke-width="0.7" stroke-opacity="0.75"/>
<ellipse cx="489.5" cy="373.9" rx="8.8" ry="2.3" transform="rotate(24 489.5 373.9)" fill="#858585" fill-opacity="0.6" stroke="#d2d2d2" stroke-width="0.7" stroke-opacity="0.75"/>
<ellipse cx="460.2" cy="327.4" rx="4.2" ry="1.3" transform="rotate(156 460.2 327.4)" fill="#858585" fill-opacity="0.6" stroke="#d2d2d2" stroke-width="0.7" stroke-opacity="0.75"/>
<ellipse cx="482.2" cy="394.8" rx="5.7" ry="1.9" transform="rotate(141 482.2 394.8)" fill="#858585" fill-opacity="0.6" stroke="#d2d2d2" stroke-width="0.7" stroke-opacity="0.75"/>
<ellipse cx="444.2" cy="370.8" rx="5.1" ry="1.3" transform="rotate(48 444.2 370.8)" fill="#858585" fill-opacity="0.6" stroke="#d2d2d2" stroke-width="0.7" stroke-opacity="0.75"/>
<ellipse cx="491.7" cy="370.2" rx="8.6" ry="1.7" transform="rotate(50 491.7 370.2)" fill="#858585" fill-opacity="0.6" stroke="#d2d2d2" stroke-width="0.7" stroke-opacity="0.75"/>
<ellipse cx="482.1" cy="394.7" rx="4.1" ry="2.0" transform="rotate(17 482.1 394.7)" fill="#858585" fill-opacity="0.6" stroke="#d2d2d2" stroke-width="0.7" stroke-opacity="0.75"/>
<ellipse cx="419.9" cy="400.0" rx="4.2" ry="1.5" transform="rotate(178 419.9 400.0)" fill="#858585" fill-opacity="0.6" stroke="#d2d2d2" stroke-width="0.7" stroke-opacity="0.75"/>
<ellipse cx="448.2" cy="328.4" rx="4.8" ry="1.5" transform="rotate(134 448.2 328.4)" fill="#858585" fill-opacity="0.6" stroke="#d2d2d2" stroke-width="0.7" stroke-opacity="0.75"/>
<ellipse cx="418.7" cy="402.4" rx="5.9" ry="2.4" transform="rotate(164 418.7 402.4)" fill="#858585" fill-opacity="0.6" stroke="#d2d2d2" stroke-width="0.7" stroke-opacity="0.75"/>
<ellipse cx="436.4" cy="341.3" rx="6.4" ry="1.3" transform="rotate(117 436.4 341.3)" fill="#858585" fill-opacity="0.6" stroke="#d2d2d2" stroke-width="0.7" stroke-opacity="0.75"/>
<ellipse cx="412.9" cy="318.7" rx="8.9" ry="1.6" transform="rotate(107 412.9 318.7)" fill="#858585" fill-opacity="0.6" stroke="#d2d2d2" stroke-width="0.7" stroke-opacity="0.75"/>
<ellipse cx="450.9" cy="346.8" rx="4.3" ry="2.3" transform="rotate(175 450.9 346.8)" fill="#858585" fill-opacity="0.6" stroke="#d2d2d2" stroke-width="0.7" stroke-opacity="0.75"/>
<ellipse cx="499.0" cy="328.1" rx="5.1" ry="1.9" transform="rotate(176 499.0 328.1)" fill="#858585" fill-opacity="0.6" stroke="#d2d2d2" stroke-width="0.7" stroke-opacity="0.75"/>
<ellipse cx="459.5" cy="381.7" rx="7.3" ry="1.5" transform="rotate(97 459.5 381.7)" fill="#858585" fill-opacity="0.6" stroke="#d2d2d2" stroke-width="0.7" stroke-opacity="0.75"/>
<ellipse cx="437.7" cy="340.6" rx="4.4" ry="1.5" transform="rotate(177 437.7 340.6)" fill="#858585" fill-opacity="0.6" stroke="#d2d2d2" stroke-width="0.7" stroke-opacity="0.75"/>
<ellipse cx="450.7" cy="378.3" rx="7.2" ry="2.3" transform="rotate(70 450.7 378.3)" fill="#858585" fill-opacity="0.6" stroke="#d2d2d2" stroke-width="0.7" stroke-opacity="0.75"/>
<ellipse cx="437.6" cy="348.1" rx="5.6" ry="2.2" transform="rotate(161 437.6 348.1)" fill="#858585" fill-opacity="0.6" stroke="#d2d2d2" stroke-width="0.7" stroke-opacity="0.75"/>
<ellipse cx="437.2" cy="348.8" rx="6.7" ry="1.9" transform="rotate(107 437.2 348.8)" fill="#858585" fill-opacity="0.6" stroke="#d2d2d2" stroke-width="0.7" stroke-opacity="0.75"/>
<ellipse cx="431.9" cy="319.6" rx="5.2" ry="1.3" transform="rotate(99 431.9 319.6)" fill="#858585" fill-opacity="0.6" stroke="#d2d2d2" stroke-width="0.7" stroke-opacity="0.75"/>
<ellipse cx="415.8" cy="324.7" rx="7.2" ry="1.5" transform="rotate(143 415.8 324.7)" fill="#858585" fill-opacity="0.6" stroke="#d2d2d2" stroke-width="0.7" stroke-opacity="0.75"/>
<ellipse cx="454.9" cy="397.9" rx="4.8" ry="1.8" transform="rotate(143 454.9 397.9)" fill="#858585" fill-opacity="0.6" stroke="#d2d2d2" stroke-width="0.7" stroke-opacity="0.75"/>
<ellipse cx="416.3" cy="406.0" rx="4.9" ry="2.1" transform="rotate(177 416.3 406.0)" fill="#858585" fill-opacity="0.6" stroke="#d2d2d2" stroke-width="0.7" stroke-opacity="0.75"/>
<ellipse cx="485.3" cy="347.4" rx="4.5" ry="1.8" transform="rotate(165 485.3 347.4)" fill="#858585" fill-opacity="0.6" stroke="#d2d2d2" stroke-width="0.7" stroke-opacity="0.75"/>
<ellipse cx="436.4" cy="400.8" rx="4.7" ry="2.3" transform="rotate(6 436.4 400.8)" fill="#858585" fill-opacity="0.6" stroke="#d2d2d2" stroke-width="0.7" stroke-opacity="0.75"/>
<circle cx="452.8" cy="403.9" r="1.6" fill="#6e6e6e" stroke="#ececec" stroke-width="1"/>
<circle cx="484.5" cy="404.2" r="1.6" fill="#6e6e6e" stroke="#ececec" stroke-width="1"/>
<circle cx="486.8" cy="393.0" r="1.6" fill="#6e6e6e" stroke="#ececec" stroke-width="1"/>
<circle cx="477.0" cy="353.4" r="1.6" fill="#6e6e6e" stroke="#ececec" stroke-width="1"/>
<circle cx="460.4" cy="352.0" r="1.6" fill="#6e6e6e" stroke="#ececec" stroke-width="1"/>
<circle cx="478.7" cy="387.5" r="1.6" fill="#6e6e6e" stroke="#ececec" stroke-width="1"/>
<circle cx="448.7" cy="345.4" r="1.6" fill="#6e6e6e" stroke="#ececec" stroke-width="1"/>
<circle cx="494.8" cy="397.3" r="1.6" fill="#6e6e6e" stroke="#ececec" stroke-width="1"/>
<circle cx="468.0" cy="378.7" r="1.6" fill="#6e6e6e" stroke="#ececec" stroke-width="1"/>
<circle cx="487.5" cy="372.6" r="1.6" fill="#6e6e6e" stroke="#ececec" stroke-width="1"/>
<circle cx="458.0" cy="364.6" r="1.6" fill="#6e6e6e" stroke="#ececec" stroke-width="1"/>
<circle cx="449.1" cy="342.7" r="1.6" fill="#6e6e6e" stroke="#ececec" stroke-width="1"/>
<circle cx="474.3" cy="370.0" r="1.6" fill="#6e6e6e" stroke="#ececec" stroke-width="1"/>
<circle cx="469.3" cy="345.3" r="1.6" fill="#6e6e6e" stroke="#ececec" stroke-width="1"/>
<circle cx="455.4" cy="350.6" r="1.6" fill="#6e6e6e" stroke="#ececec" stroke-width="1"/>
<circle cx="440.5" cy="359.0" r="1.6" fill="#6e6e6e" stroke="#ececec" stroke-width="1"/>
</g></g>
<rect x="458.2" y="397.8" width="43.6" height="12.9" fill="#fff"/>
<line x1="459.4" y1="409" x2="501.2" y2="409" stroke="#111" stroke-width="1.2"/>
<text x="470.6" y="405.9" font-size="10" fill="#111" textLength="19.9" lengthAdjust="spacingAndGlyphs" >1 μm</text>
<text x="409.6" y="436.7" font-size="11.5" fill="#111" textLength="92.5" lengthAdjust="spacingAndGlyphs" >cA12 (10 μM, 4 h)</text>
<text x="521.4" y="436.7" font-size="11.5" fill="#111" textLength="93.1" lengthAdjust="spacingAndGlyphs" >rA12 (10 μM, 4 h)</text>
<rect x="409.1" y="445.8" width="92.6" height="92.4" fill="#999" filter="url(#texB)"/>
<clipPath id="mc2"><rect x="409.1" y="445.8" width="92.6" height="92.4"/></clipPath><g clip-path="url(#mc2)"><g filter="url(#wob)">
<circle cx="497.6" cy="533.4" r="1.1" fill="#a9a9a9" fill-opacity="0.8" stroke="#dadada" stroke-width="0.6"/>
<circle cx="498.6" cy="534.1" r="0.6" fill="#6a6a6a"/>
<circle cx="471.1" cy="474.3" r="2.0" fill="#a9a9a9" fill-opacity="0.8" stroke="#dadada" stroke-width="0.6"/>
<circle cx="462.9" cy="460.4" r="1.7" fill="#a9a9a9" fill-opacity="0.8" stroke="#dadada" stroke-width="0.6"/>
<circle cx="463.6" cy="461.9" r="0.6" fill="#6a6a6a"/>
<circle cx="497.0" cy="496.1" r="1.7" fill="#a9a9a9" fill-opacity="0.8" stroke="#dadada" stroke-width="0.6"/>
<circle cx="495.6" cy="494.7" r="0.6" fill="#6a6a6a"/>
<circle cx="452.1" cy="475.2" r="1.6" fill="#a9a9a9" fill-opacity="0.8" stroke="#dadada" stroke-width="0.6"/>
<circle cx="457.8" cy="497.6" r="1.4" fill="#a9a9a9" fill-opacity="0.8" stroke="#dadada" stroke-width="0.6"/>
<circle cx="457.3" cy="496.5" r="0.6" fill="#6a6a6a"/>
<circle cx="456.3" cy="538.1" r="2.1" fill="#a9a9a9" fill-opacity="0.8" stroke="#dadada" stroke-width="0.6"/>
<circle cx="457.5" cy="539.0" r="0.6" fill="#6a6a6a"/>
<circle cx="477.1" cy="529.6" r="2.2" fill="#a9a9a9" fill-opacity="0.8" stroke="#dadada" stroke-width="0.6"/>
<circle cx="441.9" cy="536.4" r="2.5" fill="#a9a9a9" fill-opacity="0.8" stroke="#dadada" stroke-width="0.6"/>
<circle cx="442.6" cy="537.1" r="0.6" fill="#6a6a6a"/>
<circle cx="451.8" cy="494.8" r="1.8" fill="#a9a9a9" fill-opacity="0.8" stroke="#dadada" stroke-width="0.6"/>
<circle cx="455.5" cy="522.6" r="1.6" fill="#a9a9a9" fill-opacity="0.8" stroke="#dadada" stroke-width="0.6"/>
<circle cx="492.4" cy="488.4" r="1.9" fill="#a9a9a9" fill-opacity="0.8" stroke="#dadada" stroke-width="0.6"/>
<circle cx="476.1" cy="490.8" r="1.4" fill="#a9a9a9" fill-opacity="0.8" stroke="#dadada" stroke-width="0.6"/>
<circle cx="476.7" cy="489.8" r="0.6" fill="#6a6a6a"/>
<circle cx="493.2" cy="470.6" r="2.5" fill="#a9a9a9" fill-opacity="0.8" stroke="#dadada" stroke-width="0.6"/>
<circle cx="494.5" cy="471.2" r="0.6" fill="#6a6a6a"/>
<circle cx="455.8" cy="493.6" r="2.0" fill="#a9a9a9" fill-opacity="0.8" stroke="#dadada" stroke-width="0.6"/>
<circle cx="438.0" cy="465.0" r="1.8" fill="#a9a9a9" fill-opacity="0.8" stroke="#dadada" stroke-width="0.6"/>
<circle cx="466.8" cy="452.8" r="2.3" fill="#a9a9a9" fill-opacity="0.8" stroke="#dadada" stroke-width="0.6"/>
<circle cx="493.1" cy="463.5" r="2.2" fill="#a9a9a9" fill-opacity="0.8" stroke="#dadada" stroke-width="0.6"/>
<circle cx="493.6" cy="462.8" r="0.6" fill="#6a6a6a"/>
<circle cx="430.1" cy="526.7" r="1.2" fill="#a9a9a9" fill-opacity="0.8" stroke="#dadada" stroke-width="0.6"/>
<circle cx="488.2" cy="468.4" r="1.3" fill="#a9a9a9" fill-opacity="0.8" stroke="#dadada" stroke-width="0.6"/>
<circle cx="448.3" cy="512.0" r="1.1" fill="#a9a9a9" fill-opacity="0.8" stroke="#dadada" stroke-width="0.6"/>
<circle cx="447.3" cy="512.6" r="0.6" fill="#6a6a6a"/>
<circle cx="416.8" cy="534.0" r="1.0" fill="#a9a9a9" fill-opacity="0.8" stroke="#dadada" stroke-width="0.6"/>
<circle cx="411.1" cy="469.4" r="2.3" fill="#a9a9a9" fill-opacity="0.8" stroke="#dadada" stroke-width="0.6"/>
<circle cx="410.1" cy="470.0" r="0.6" fill="#6a6a6a"/>
<circle cx="444.8" cy="449.8" r="2.6" fill="#a9a9a9" fill-opacity="0.8" stroke="#dadada" stroke-width="0.6"/>
<circle cx="443.4" cy="449.3" r="0.6" fill="#6a6a6a"/>
<circle cx="466.1" cy="514.4" r="1.2" fill="#a9a9a9" fill-opacity="0.8" stroke="#dadada" stroke-width="0.6"/>
<circle cx="464.7" cy="514.2" r="0.6" fill="#6a6a6a"/>
<circle cx="480.0" cy="514.2" r="2.4" fill="#a9a9a9" fill-opacity="0.8" stroke="#dadada" stroke-width="0.6"/>
<circle cx="489.0" cy="511.0" r="1.8" fill="#a9a9a9" fill-opacity="0.8" stroke="#dadada" stroke-width="0.6"/>
<circle cx="489.4" cy="510.4" r="0.6" fill="#6a6a6a"/>
<circle cx="418.5" cy="487.2" r="2.4" fill="#a9a9a9" fill-opacity="0.8" stroke="#dadada" stroke-width="0.6"/>
<circle cx="418.8" cy="486.9" r="0.6" fill="#6a6a6a"/>
<circle cx="456.8" cy="459.1" r="2.5" fill="#a9a9a9" fill-opacity="0.8" stroke="#dadada" stroke-width="0.6"/>
<circle cx="457.1" cy="458.8" r="0.6" fill="#6a6a6a"/>
<circle cx="410.8" cy="497.4" r="1.2" fill="#a9a9a9" fill-opacity="0.8" stroke="#dadada" stroke-width="0.6"/>
<circle cx="409.4" cy="496.3" r="0.6" fill="#6a6a6a"/>
<circle cx="418.0" cy="504.5" r="1.8" fill="#a9a9a9" fill-opacity="0.8" stroke="#dadada" stroke-width="0.6"/>
<circle cx="495.6" cy="537.7" r="1.4" fill="#a9a9a9" fill-opacity="0.8" stroke="#dadada" stroke-width="0.6"/>
<circle cx="494.9" cy="538.0" r="0.6" fill="#6a6a6a"/>
<circle cx="466.9" cy="519.7" r="2.1" fill="#a9a9a9" fill-opacity="0.8" stroke="#dadada" stroke-width="0.6"/>
<circle cx="466.7" cy="519.8" r="0.6" fill="#6a6a6a"/>
<circle cx="409.5" cy="449.1" r="1.7" fill="#a9a9a9" fill-opacity="0.8" stroke="#dadada" stroke-width="0.6"/>
<circle cx="410.2" cy="448.3" r="0.6" fill="#6a6a6a"/>
<circle cx="418.3" cy="462.6" r="1.4" fill="#a9a9a9" fill-opacity="0.8" stroke="#dadada" stroke-width="0.6"/>
<circle cx="418.4" cy="462.5" r="0.6" fill="#6a6a6a"/>
<circle cx="437.8" cy="505.1" r="1.3" fill="#a9a9a9" fill-opacity="0.8" stroke="#dadada" stroke-width="0.6"/>
<circle cx="498.3" cy="513.2" r="1.7" fill="#a9a9a9" fill-opacity="0.8" stroke="#dadada" stroke-width="0.6"/>
<circle cx="462.9" cy="450.5" r="1.7" fill="#a9a9a9" fill-opacity="0.8" stroke="#dadada" stroke-width="0.6"/>
<circle cx="425.9" cy="454.5" r="2.3" fill="#a9a9a9" fill-opacity="0.8" stroke="#dadada" stroke-width="0.6"/>
<circle cx="425.9" cy="455.7" r="0.6" fill="#6a6a6a"/>
<circle cx="465.6" cy="472.6" r="2.6" fill="#a9a9a9" fill-opacity="0.8" stroke="#dadada" stroke-width="0.6"/>
<circle cx="464.2" cy="473.1" r="0.6" fill="#6a6a6a"/>
<circle cx="418.5" cy="474.1" r="2.3" fill="#a9a9a9" fill-opacity="0.8" stroke="#dadada" stroke-width="0.6"/>
<circle cx="410.6" cy="487.5" r="1.7" fill="#a9a9a9" fill-opacity="0.8" stroke="#dadada" stroke-width="0.6"/>
<circle cx="409.7" cy="487.8" r="0.6" fill="#6a6a6a"/>
<circle cx="415.9" cy="472.1" r="1.6" fill="#a9a9a9" fill-opacity="0.8" stroke="#dadada" stroke-width="0.6"/>
<circle cx="416.2" cy="515.6" r="1.3" fill="#a9a9a9" fill-opacity="0.8" stroke="#dadada" stroke-width="0.6"/>
<circle cx="445.4" cy="488.6" r="2.2" fill="#a9a9a9" fill-opacity="0.8" stroke="#dadada" stroke-width="0.6"/>
<circle cx="444.2" cy="487.5" r="0.6" fill="#6a6a6a"/>
<circle cx="416.6" cy="524.3" r="2.0" fill="#a9a9a9" fill-opacity="0.8" stroke="#dadada" stroke-width="0.6"/>
<circle cx="473.2" cy="448.1" r="2.1" fill="#a9a9a9" fill-opacity="0.8" stroke="#dadada" stroke-width="0.6"/>
<circle cx="476.1" cy="491.8" r="1.6" fill="#a9a9a9" fill-opacity="0.8" stroke="#dadada" stroke-width="0.6"/>
<circle cx="477.0" cy="491.1" r="0.6" fill="#6a6a6a"/>
<circle cx="457.8" cy="489.9" r="2.5" fill="#a9a9a9" fill-opacity="0.8" stroke="#dadada" stroke-width="0.6"/>
<circle cx="495.4" cy="523.0" r="1.5" fill="#a9a9a9" fill-opacity="0.8" stroke="#dadada" stroke-width="0.6"/>
<circle cx="495.4" cy="522.3" r="0.6" fill="#6a6a6a"/>
<circle cx="448.7" cy="508.6" r="2.5" fill="#a9a9a9" fill-opacity="0.8" stroke="#dadada" stroke-width="0.6"/>
<circle cx="484.8" cy="454.7" r="1.6" fill="#a9a9a9" fill-opacity="0.8" stroke="#dadada" stroke-width="0.6"/>
<circle cx="422.7" cy="484.3" r="1.1" fill="#a9a9a9" fill-opacity="0.8" stroke="#dadada" stroke-width="0.6"/>
<circle cx="423.9" cy="485.8" r="0.6" fill="#6a6a6a"/>
<circle cx="469.1" cy="457.7" r="1.5" fill="#a9a9a9" fill-opacity="0.8" stroke="#dadada" stroke-width="0.6"/>
<circle cx="469.6" cy="458.2" r="0.6" fill="#6a6a6a"/>
<circle cx="449.7" cy="494.2" r="1.2" fill="#a9a9a9" fill-opacity="0.8" stroke="#dadada" stroke-width="0.6"/>
<circle cx="497.1" cy="515.6" r="1.2" fill="#a9a9a9" fill-opacity="0.8" stroke="#dadada" stroke-width="0.6"/>
<circle cx="475.3" cy="469.6" r="2.4" fill="#a9a9a9" fill-opacity="0.8" stroke="#dadada" stroke-width="0.6"/>
<circle cx="476.0" cy="469.3" r="0.6" fill="#6a6a6a"/>
<circle cx="501.2" cy="518.1" r="1.9" fill="#a9a9a9" fill-opacity="0.8" stroke="#dadada" stroke-width="0.6"/>
<circle cx="501.1" cy="516.7" r="0.6" fill="#6a6a6a"/>
<circle cx="464.2" cy="527.3" r="1.3" fill="#a9a9a9" fill-opacity="0.8" stroke="#dadada" stroke-width="0.6"/>
<circle cx="453.8" cy="483.2" r="2.1" fill="#a9a9a9" fill-opacity="0.8" stroke="#dadada" stroke-width="0.6"/>
</g></g>
<rect x="521.4" y="445.8" width="93.1" height="92.6" fill="#999" filter="url(#texC)"/>
<clipPath id="mc3"><rect x="521.4" y="445.8" width="93.1" height="92.6"/></clipPath><g clip-path="url(#mc3)"><g filter="url(#wob)">
<circle cx="543.6" cy="496.2" r="1.6" fill="#a9a9a9" fill-opacity="0.8" stroke="#dadada" stroke-width="0.6"/>
<circle cx="579.7" cy="451.9" r="1.0" fill="#a9a9a9" fill-opacity="0.8" stroke="#dadada" stroke-width="0.6"/>
<circle cx="545.5" cy="467.5" r="2.6" fill="#a9a9a9" fill-opacity="0.8" stroke="#dadada" stroke-width="0.6"/>
<circle cx="546.6" cy="467.4" r="0.6" fill="#6a6a6a"/>
<circle cx="580.9" cy="459.7" r="2.0" fill="#a9a9a9" fill-opacity="0.8" stroke="#dadada" stroke-width="0.6"/>
<circle cx="570.1" cy="514.4" r="2.1" fill="#a9a9a9" fill-opacity="0.8" stroke="#dadada" stroke-width="0.6"/>
<circle cx="570.9" cy="514.7" r="0.6" fill="#6a6a6a"/>
<circle cx="549.4" cy="448.7" r="2.4" fill="#a9a9a9" fill-opacity="0.8" stroke="#dadada" stroke-width="0.6"/>
<circle cx="550.1" cy="449.8" r="0.6" fill="#6a6a6a"/>
<circle cx="587.9" cy="531.1" r="1.6" fill="#a9a9a9" fill-opacity="0.8" stroke="#dadada" stroke-width="0.6"/>
<circle cx="562.8" cy="532.4" r="2.4" fill="#a9a9a9" fill-opacity="0.8" stroke="#dadada" stroke-width="0.6"/>
<circle cx="561.7" cy="531.6" r="0.6" fill="#6a6a6a"/>
<circle cx="611.3" cy="486.2" r="2.0" fill="#a9a9a9" fill-opacity="0.8" stroke="#dadada" stroke-width="0.6"/>
<circle cx="611.3" cy="485.8" r="0.6" fill="#6a6a6a"/>
<circle cx="554.1" cy="500.0" r="1.9" fill="#a9a9a9" fill-opacity="0.8" stroke="#dadada" stroke-width="0.6"/>
<circle cx="584.9" cy="531.8" r="2.4" fill="#a9a9a9" fill-opacity="0.8" stroke="#dadada" stroke-width="0.6"/>
<circle cx="583.9" cy="460.9" r="2.4" fill="#a9a9a9" fill-opacity="0.8" stroke="#dadada" stroke-width="0.6"/>
<circle cx="605.6" cy="498.5" r="2.1" fill="#a9a9a9" fill-opacity="0.8" stroke="#dadada" stroke-width="0.6"/>
<circle cx="606.6" cy="498.7" r="0.6" fill="#6a6a6a"/>
<circle cx="547.9" cy="451.7" r="2.4" fill="#a9a9a9" fill-opacity="0.8" stroke="#dadada" stroke-width="0.6"/>
<circle cx="529.6" cy="519.9" r="1.7" fill="#a9a9a9" fill-opacity="0.8" stroke="#dadada" stroke-width="0.6"/>
<circle cx="529.0" cy="520.7" r="0.6" fill="#6a6a6a"/>
<circle cx="602.7" cy="449.9" r="2.0" fill="#a9a9a9" fill-opacity="0.8" stroke="#dadada" stroke-width="0.6"/>
<circle cx="603.3" cy="449.4" r="0.6" fill="#6a6a6a"/>
<circle cx="603.4" cy="536.6" r="1.8" fill="#a9a9a9" fill-opacity="0.8" stroke="#dadada" stroke-width="0.6"/>
<circle cx="550.2" cy="452.9" r="2.0" fill="#a9a9a9" fill-opacity="0.8" stroke="#dadada" stroke-width="0.6"/>
<circle cx="549.3" cy="452.7" r="0.6" fill="#6a6a6a"/>
<circle cx="578.2" cy="460.3" r="1.1" fill="#a9a9a9" fill-opacity="0.8" stroke="#dadada" stroke-width="0.6"/>
<circle cx="550.6" cy="534.6" r="2.4" fill="#a9a9a9" fill-opacity="0.8" stroke="#dadada" stroke-width="0.6"/>
<circle cx="550.5" cy="534.6" r="0.6" fill="#6a6a6a"/>
<circle cx="581.3" cy="501.0" r="1.9" fill="#a9a9a9" fill-opacity="0.8" stroke="#dadada" stroke-width="0.6"/>
<circle cx="609.0" cy="492.8" r="1.7" fill="#a9a9a9" fill-opacity="0.8" stroke="#dadada" stroke-width="0.6"/>
<circle cx="543.5" cy="473.7" r="2.6" fill="#a9a9a9" fill-opacity="0.8" stroke="#dadada" stroke-width="0.6"/>
<circle cx="572.5" cy="446.9" r="1.7" fill="#a9a9a9" fill-opacity="0.8" stroke="#dadada" stroke-width="0.6"/>
<circle cx="523.3" cy="502.8" r="2.0" fill="#a9a9a9" fill-opacity="0.8" stroke="#dadada" stroke-width="0.6"/>
<circle cx="523.6" cy="502.7" r="0.6" fill="#6a6a6a"/>
<circle cx="584.6" cy="478.4" r="2.1" fill="#a9a9a9" fill-opacity="0.8" stroke="#dadada" stroke-width="0.6"/>
<circle cx="523.5" cy="451.4" r="2.1" fill="#a9a9a9" fill-opacity="0.8" stroke="#dadada" stroke-width="0.6"/>
<circle cx="544.8" cy="488.1" r="1.9" fill="#a9a9a9" fill-opacity="0.8" stroke="#dadada" stroke-width="0.6"/>
<circle cx="544.4" cy="487.5" r="0.6" fill="#6a6a6a"/>
<circle cx="555.8" cy="501.0" r="1.5" fill="#a9a9a9" fill-opacity="0.8" stroke="#dadada" stroke-width="0.6"/>
<circle cx="556.6" cy="499.5" r="0.6" fill="#6a6a6a"/>
<circle cx="574.4" cy="513.9" r="1.5" fill="#a9a9a9" fill-opacity="0.8" stroke="#dadada" stroke-width="0.6"/>
<circle cx="575.3" cy="513.1" r="0.6" fill="#6a6a6a"/>
<circle cx="538.8" cy="486.1" r="2.1" fill="#a9a9a9" fill-opacity="0.8" stroke="#dadada" stroke-width="0.6"/>
<circle cx="538.3" cy="485.6" r="0.6" fill="#6a6a6a"/>
<circle cx="599.0" cy="486.4" r="2.4" fill="#a9a9a9" fill-opacity="0.8" stroke="#dadada" stroke-width="0.6"/>
<circle cx="598.5" cy="486.8" r="0.6" fill="#6a6a6a"/>
<circle cx="603.8" cy="487.6" r="1.4" fill="#a9a9a9" fill-opacity="0.8" stroke="#dadada" stroke-width="0.6"/>
<circle cx="603.9" cy="486.6" r="0.6" fill="#6a6a6a"/>
<circle cx="596.5" cy="523.4" r="1.3" fill="#a9a9a9" fill-opacity="0.8" stroke="#dadada" stroke-width="0.6"/>
<circle cx="597.4" cy="523.9" r="0.6" fill="#6a6a6a"/>
<circle cx="596.5" cy="477.8" r="1.2" fill="#a9a9a9" fill-opacity="0.8" stroke="#dadada" stroke-width="0.6"/>
<circle cx="597.3" cy="477.1" r="0.6" fill="#6a6a6a"/>
<circle cx="553.6" cy="484.4" r="1.7" fill="#a9a9a9" fill-opacity="0.8" stroke="#dadada" stroke-width="0.6"/>
<circle cx="554.9" cy="483.4" r="0.6" fill="#6a6a6a"/>
<circle cx="521.8" cy="533.1" r="2.4" fill="#a9a9a9" fill-opacity="0.8" stroke="#dadada" stroke-width="0.6"/>
<circle cx="561.8" cy="533.8" r="2.5" fill="#a9a9a9" fill-opacity="0.8" stroke="#dadada" stroke-width="0.6"/>
<circle cx="562.6" cy="534.8" r="0.6" fill="#6a6a6a"/>
<circle cx="583.1" cy="493.9" r="1.5" fill="#a9a9a9" fill-opacity="0.8" stroke="#dadada" stroke-width="0.6"/>
<circle cx="582.3" cy="492.6" r="0.6" fill="#6a6a6a"/>
<circle cx="576.2" cy="472.4" r="2.3" fill="#a9a9a9" fill-opacity="0.8" stroke="#dadada" stroke-width="0.6"/>
<circle cx="577.4" cy="473.0" r="0.6" fill="#6a6a6a"/>
<circle cx="607.4" cy="528.8" r="2.4" fill="#a9a9a9" fill-opacity="0.8" stroke="#dadada" stroke-width="0.6"/>
<circle cx="522.6" cy="514.8" r="1.3" fill="#a9a9a9" fill-opacity="0.8" stroke="#dadada" stroke-width="0.6"/>
<circle cx="523.1" cy="514.9" r="0.6" fill="#6a6a6a"/>
<circle cx="559.9" cy="532.8" r="2.0" fill="#a9a9a9" fill-opacity="0.8" stroke="#dadada" stroke-width="0.6"/>
<circle cx="559.2" cy="533.8" r="0.6" fill="#6a6a6a"/>
<circle cx="565.8" cy="518.2" r="1.6" fill="#a9a9a9" fill-opacity="0.8" stroke="#dadada" stroke-width="0.6"/>
<circle cx="565.9" cy="519.2" r="0.6" fill="#6a6a6a"/>
<circle cx="537.3" cy="519.1" r="2.5" fill="#a9a9a9" fill-opacity="0.8" stroke="#dadada" stroke-width="0.6"/>
<circle cx="598.1" cy="446.5" r="2.0" fill="#a9a9a9" fill-opacity="0.8" stroke="#dadada" stroke-width="0.6"/>
<circle cx="526.0" cy="470.9" r="1.4" fill="#a9a9a9" fill-opacity="0.8" stroke="#dadada" stroke-width="0.6"/>
<circle cx="560.8" cy="489.6" r="2.2" fill="#a9a9a9" fill-opacity="0.8" stroke="#dadada" stroke-width="0.6"/>
<circle cx="559.4" cy="488.5" r="0.6" fill="#6a6a6a"/>
<circle cx="533.0" cy="452.1" r="2.6" fill="#a9a9a9" fill-opacity="0.8" stroke="#dadada" stroke-width="0.6"/>
<circle cx="529.4" cy="492.3" r="1.5" fill="#a9a9a9" fill-opacity="0.8" stroke="#dadada" stroke-width="0.6"/>
<circle cx="529.0" cy="492.7" r="0.6" fill="#6a6a6a"/>
<circle cx="576.0" cy="479.2" r="1.3" fill="#a9a9a9" fill-opacity="0.8" stroke="#dadada" stroke-width="0.6"/>
<circle cx="574.9" cy="479.4" r="0.6" fill="#6a6a6a"/>
<circle cx="588.1" cy="481.0" r="1.1" fill="#a9a9a9" fill-opacity="0.8" stroke="#dadada" stroke-width="0.6"/>
<circle cx="587.7" cy="481.3" r="0.6" fill="#6a6a6a"/>
<circle cx="594.3" cy="481.0" r="2.3" fill="#a9a9a9" fill-opacity="0.8" stroke="#dadada" stroke-width="0.6"/>
<circle cx="561.6" cy="480.3" r="1.8" fill="#a9a9a9" fill-opacity="0.8" stroke="#dadada" stroke-width="0.6"/>
<circle cx="560.5" cy="510.1" r="1.7" fill="#a9a9a9" fill-opacity="0.8" stroke="#dadada" stroke-width="0.6"/>
<circle cx="560.7" cy="510.7" r="0.6" fill="#6a6a6a"/>
<circle cx="528.1" cy="485.1" r="1.7" fill="#a9a9a9" fill-opacity="0.8" stroke="#dadada" stroke-width="0.6"/>
<circle cx="608.6" cy="480.5" r="2.4" fill="#a9a9a9" fill-opacity="0.8" stroke="#dadada" stroke-width="0.6"/>
<circle cx="545.8" cy="488.8" r="1.2" fill="#a9a9a9" fill-opacity="0.8" stroke="#dadada" stroke-width="0.6"/>
<circle cx="583.1" cy="528.0" r="2.3" fill="#a9a9a9" fill-opacity="0.8" stroke="#dadada" stroke-width="0.6"/>
<circle cx="589.7" cy="498.0" r="1.2" fill="#a9a9a9" fill-opacity="0.8" stroke="#dadada" stroke-width="0.6"/>
</g></g>
<rect x="458.4" y="525.8" width="43.7" height="12.4" fill="#fff"/>
<line x1="459.6" y1="536.5" x2="501.5" y2="536.5" stroke="#111" stroke-width="1.2"/>
<text x="470.8" y="534.3" font-size="10" fill="#111" textLength="19.9" lengthAdjust="spacingAndGlyphs" >1 μm</text>
<rect x="570.2" y="525.8" width="43.7" height="12.6" fill="#fff"/>
<line x1="571.4" y1="536.7" x2="613.3" y2="536.7" stroke="#111" stroke-width="1.2"/>
<text x="582.6" y="534.3" font-size="10" fill="#111" textLength="19.9" lengthAdjust="spacingAndGlyphs" >1 μm</text>
<text x="11.8" y="597.2" font-size="25" fill="#000" >E</text>
<text x="110.6" y="607.4" font-size="14.5" fill="#111" textLength="26.6" lengthAdjust="spacingAndGlyphs" >PBS</text>
<text x="194.4" y="607.4" font-size="14.5" fill="#111" textLength="25.8" lengthAdjust="spacingAndGlyphs" >62.5</text>
<text x="275.3" y="607.4" font-size="14.5" fill="#111" textLength="22.5" lengthAdjust="spacingAndGlyphs" >125</text>
<text x="358.2" y="607.4" font-size="14.5" fill="#111" textLength="21.5" lengthAdjust="spacingAndGlyphs" >250</text>
<text x="436" y="607.4" font-size="14.5" fill="#111" textLength="22.4" lengthAdjust="spacingAndGlyphs" >500</text>
<text x="515" y="607.4" font-size="14.5" fill="#111" textLength="28.9" lengthAdjust="spacingAndGlyphs" >1000</text>
<text x="571.8" y="607.4" font-size="14.5" fill="#111" textLength="32.1" lengthAdjust="spacingAndGlyphs" >(nM)</text>
<line x1="170.8" y1="617.1" x2="563.1" y2="617.1" stroke="#222" stroke-width="1.2"/>
<text x="577.3" y="666.1" font-size="14.5" fill="#111" textLength="31.4" lengthAdjust="spacingAndGlyphs" >cA12</text>
<text x="578" y="740.7" font-size="14.5" fill="#111" textLength="30.6" lengthAdjust="spacingAndGlyphs" >rA12</text>
<text x="61.1" y="703.4" font-size="12.5" fill="#111" textLength="12.3" lengthAdjust="spacingAndGlyphs" >PI</text>
<text x="323.8" y="801.3" font-size="13" fill="#111" textLength="88" lengthAdjust="spacingAndGlyphs" >Annexin V-FITC</text>
<path d="M67.6,630 V688.8 M67.6,709.3 V798 H319 M418.6,798 H567" stroke="#222" stroke-width="1.1" fill="none"/>
<path d="M67.6,626.3 L65.9,630.4 L69.3,630.4 Z" fill="#111"/>
<path d="M570,798 L565.9,796.3 L565.9,799.7 Z" fill="#111"/>
<g clip-path="url(#clip_PBS)" filter="url(#soft)">
<path fill="rgb(0,0,255)" fill-rule="evenodd" d="M115.1,732.7 110.1,732.5 110.3,731.2 109.7,729.9 109.6,727.2 106.0,725.5 106.0,723.8 104.6,723.6 103.0,722.4 103.0,721.6 103.7,720.8 105.7,720.7 104.6,717.2 102.4,717.6 101.5,716.8 101.2,714.6 102.1,713.7 102.2,712.9 101.5,712.5 97.5,713.1 95.3,712.5 94.4,711.5 95.3,708.1 93.9,705.4 93.5,703.7 92.7,703.0 89.6,703.2 89.4,693.7 90.1,693.4 92.3,694.3 93.1,694.1 93.2,693.7 93.0,691.5 92.1,690.2 91.9,687.5 95.8,685.4 97.5,687.4 99.3,687.6 102.8,685.7 105.0,686.0 107.6,685.1 109.9,684.1 111.6,682.1 116.9,681.9 119.5,682.8 121.7,681.4 120.3,677.1 120.8,675.3 121.3,675.2 123.6,677.1 125.2,677.8 126.1,677.5 127.8,675.6 130.9,674.7 131.6,674.9 131.8,676.0 132.7,676.7 134.4,675.2 140.3,672.7 140.6,671.8 139.5,670.5 141.5,668.8 142.3,668.7 143.7,669.7 145.4,668.8 146.3,668.9 147.8,671.0 150.5,671.8 150.7,674.9 151.1,675.5 152.9,675.7 153.2,676.2 152.9,677.0 151.6,678.0 151.6,678.9 152.0,679.8 153.8,679.6 154.3,680.1 151.6,684.1 152.2,685.4 151.9,689.3 150.7,690.4 150.1,692.3 150.8,693.7 150.3,694.2 148.9,694.1 148.7,696.3 147.5,699.3 145.8,701.5 145.9,702.4 147.7,703.7 147.3,706.3 145.4,707.3 144.7,709.4 143.2,710.2 142.4,711.5 142.5,713.3 141.8,715.5 142.1,717.6 141.7,720.7 141.0,721.4 138.8,722.2 137.5,721.8 136.4,720.3 136.4,717.6 135.3,717.0 133.6,717.1 132.7,718.1 130.9,718.1 128.7,719.5 127.8,718.5 127.0,718.5 126.1,720.4 121.8,721.1 120.9,722.9 118.2,724.8 116.6,728.1 115.5,729.4 115.1,732.7ZM90.1,688.5 89.6,688.4 89.6,686.4 90.3,686.7 90.7,687.5 90.1,688.5ZM94.0,726.0 93.1,726.1 91.7,725.1 92.3,723.8 93.1,723.8 94.0,724.5 94.0,726.0ZM90.1,726.4 89.6,726.5 89.4,725.9 89.6,724.2 91.3,725.1 90.9,725.9 90.1,726.4Z"/>
<path fill="rgb(0,40,255)" fill-rule="evenodd" d="M114.2,732.5 110.6,732.5 110.1,727.7 109.4,726.4 106.6,725.5 106.5,723.8 103.7,723.0 103.2,722.4 103.7,721.0 105.9,721.3 106.1,720.7 104.6,716.9 102.4,717.3 101.8,716.8 101.7,714.6 102.5,713.3 102.2,712.4 97.5,712.8 95.8,712.4 94.8,711.5 95.6,708.1 94.4,705.9 93.7,703.3 92.7,702.6 89.6,702.5 89.4,701.5 89.6,699.7 93.3,699.3 94.3,696.3 93.6,695.9 92.6,697.1 89.6,697.5 89.6,693.8 93.1,694.8 93.7,694.1 93.3,692.8 93.7,691.5 92.7,690.6 93.1,690.2 96.2,690.4 101.5,686.7 102.8,686.2 105.0,686.5 109.8,684.3 111.6,682.5 116.9,682.1 119.1,683.1 122.1,681.9 122.4,681.0 120.8,677.9 120.8,676.9 121.7,677.5 123.0,677.3 125.6,678.0 128.1,675.8 130.9,675.0 132.2,676.8 133.1,676.7 134.7,675.3 137.5,674.4 140.5,672.7 140.8,671.8 139.9,670.5 141.0,669.3 141.9,669.1 143.7,670.0 145.4,669.1 146.3,669.2 147.6,671.2 150.3,672.0 150.7,675.3 152.5,675.7 152.9,676.2 151.5,678.0 151.6,679.2 152.0,680.0 153.8,680.1 153.8,680.6 152.1,683.2 151.3,683.6 151.9,685.4 151.5,688.9 149.6,693.2 148.3,694.1 148.3,696.3 147.2,699.3 145.6,701.5 145.6,702.4 146.6,703.3 145.7,705.4 146.3,705.8 147.2,705.4 147.2,706.0 146.5,706.7 145.1,707.2 144.4,709.4 140.1,712.0 140.4,712.9 141.9,712.8 142.1,713.3 141.5,715.5 139.7,715.5 139.1,715.9 139.5,716.8 140.7,717.6 140.7,718.5 141.6,719.8 141.5,720.6 139.7,721.6 137.5,721.6 136.8,719.8 137.1,719.1 138.0,719.3 138.0,718.5 136.2,717.0 134.9,716.5 133.6,716.5 132.2,717.6 130.5,718.0 129.2,719.0 127.8,718.2 127.0,718.2 125.6,720.1 119.9,721.4 120.0,722.9 118.0,724.6 114.3,730.3 114.5,732.5 114.2,732.5ZM92.3,689.0 92.3,687.9 93.3,687.5 93.5,688.0 92.3,689.0ZM95.8,702.8 96.0,701.9 94.9,701.8 94.9,702.4 95.8,702.8ZM108.9,723.3 111.1,721.4 110.7,720.1 109.8,720.0 109.0,720.7 108.4,722.9 108.5,723.4 108.9,723.3Z"/>
<path fill="rgb(0,110,255)" fill-rule="evenodd" d="M118.6,723.8 117.3,722.5 114.2,722.8 113.3,719.8 110.7,717.8 109.0,718.3 106.8,721.3 105.4,719.4 104.7,716.8 102.4,716.8 101.9,715.0 102.7,713.3 102.4,712.3 101.5,711.8 98.8,712.5 96.6,712.4 95.3,711.4 95.3,710.1 96.9,708.5 97.3,707.2 97.3,700.6 97.1,700.0 95.2,699.8 96.3,698.5 96.4,697.1 98.4,694.7 101.0,694.9 102.1,694.5 103.2,692.6 105.6,691.0 105.3,689.3 107.9,687.5 108.9,684.9 110.7,684.1 115.1,684.9 115.8,682.7 116.9,682.3 119.1,683.4 122.0,682.3 122.9,681.0 122.7,680.1 124.3,678.2 127.0,678.4 128.3,676.7 129.6,676.4 130.5,675.3 131.0,675.3 132.2,677.0 133.1,676.9 135.0,675.3 140.1,673.2 140.9,672.3 140.6,670.1 141.0,669.6 142.6,671.8 145.9,672.1 147.2,671.4 148.3,671.8 147.9,673.6 148.9,674.0 149.8,673.6 150.7,675.7 152.7,676.2 151.5,677.5 151.3,678.8 152.0,680.2 153.2,680.6 152.0,683.0 150.9,683.6 151.7,685.4 151.3,688.4 149.4,692.7 147.7,694.1 147.0,695.4 145.9,698.9 146.2,700.2 145.3,701.9 145.4,702.9 142.8,702.5 142.3,703.3 142.3,704.9 137.6,705.4 137.4,706.3 137.9,706.7 140.6,708.1 140.4,710.2 135.8,713.8 133.1,713.0 132.4,714.6 130.7,716.3 130.9,717.6 129.2,718.6 127.8,717.7 127.0,717.7 125.6,719.5 123.9,718.7 123.0,720.2 119.9,720.8 119.3,721.6 119.7,722.9 118.6,723.8ZM146.7,693.2 146.7,691.9 146.3,691.9 146.0,693.2 146.7,693.2ZM92.7,702.0 89.6,701.9 89.6,700.6 92.7,702.0ZM133.7,711.5 135.3,709.9 135.8,707.6 135.3,707.0 134.4,707.4 133.8,708.9 132.0,710.7 132.7,711.8 133.7,711.5ZM126.1,717.2 125.3,715.5 124.5,715.5 124.3,716.2 124.8,717.1 126.1,717.2ZM105.9,722.9 103.9,722.9 103.5,721.6 104.1,721.0 105.9,721.9 106.6,721.6 105.9,722.9ZM112.0,724.7 111.1,724.5 111.3,723.8 112.8,723.8 112.0,724.7Z"/>
<path fill="rgb(0,180,255)" fill-rule="evenodd" d="M120.4,719.0 119.5,719.1 118.6,718.6 117.7,715.4 109.4,716.3 108.5,716.8 106.8,719.0 105.9,718.8 104.6,716.4 103.7,716.3 102.7,714.6 102.9,712.9 101.9,711.5 100.9,711.5 99.9,708.1 100.4,703.7 98.8,702.4 99.5,700.2 100.6,699.4 101.5,699.7 103.2,701.6 104.4,701.5 104.6,698.5 102.3,696.3 104.1,694.4 106.3,694.5 106.5,692.8 107.7,691.9 108.5,689.6 109.4,689.4 111.1,691.0 112.2,691.0 112.4,690.6 111.3,688.9 112.5,686.8 113.3,686.3 115.5,686.2 118.4,684.1 122.1,682.7 124.8,679.3 125.7,679.7 125.7,680.1 124.8,681.4 125.2,682.1 126.1,682.2 127.1,681.4 127.5,680.1 129.6,680.2 130.9,679.7 131.5,678.8 131.4,676.9 132.7,677.3 135.6,675.3 138.0,674.7 141.0,673.0 144.1,673.1 146.3,674.5 149.8,675.3 150.7,676.1 152.4,676.2 151.2,678.0 151.2,679.3 152.1,681.0 152.0,682.4 150.7,683.2 148.3,688.0 146.7,688.9 144.2,693.7 145.2,696.3 144.6,699.3 144.7,701.1 142.8,698.1 141.0,698.3 139.7,701.1 137.5,702.4 136.2,705.0 133.1,705.8 132.7,708.0 130.9,708.8 130.2,711.1 127.8,712.9 125.2,712.4 123.5,713.6 120.8,713.3 121.4,715.0 121.2,718.1 120.4,719.0ZM138.0,710.3 136.8,709.4 137.5,708.0 138.6,709.4 138.0,710.3Z"/>
<path fill="rgb(0,240,255)" fill-rule="evenodd" d="M112.0,714.6 108.1,715.0 107.3,714.2 106.7,712.4 105.9,711.8 103.7,713.7 102.2,711.1 102.4,710.2 104.0,709.4 104.4,708.5 102.8,708.3 102.1,707.6 102.2,703.7 102.8,703.2 104.6,703.9 106.5,702.4 106.7,701.5 106.0,699.8 105.9,697.6 109.5,694.5 109.8,692.3 113.6,691.5 115.5,687.8 117.3,687.0 119.4,684.5 122.1,684.0 123.5,682.6 125.6,683.4 130.0,681.5 132.7,679.5 134.5,678.8 137.5,675.4 143.7,673.9 150.0,676.6 151.2,681.0 151.0,682.3 149.4,683.5 147.5,686.2 145.1,688.0 144.7,690.2 143.7,692.0 141.8,692.3 140.7,694.1 138.4,696.1 137.9,697.6 139.2,698.9 139.4,699.8 138.8,700.6 135.8,701.9 135.4,704.1 134.7,704.1 134.0,703.1 132.8,703.3 131.4,706.5 129.8,708.1 129.3,709.8 127.1,711.5 124.3,711.4 122.6,712.1 120.4,712.2 117.3,714.1 114.7,713.7 112.0,714.6Z"/>
<path fill="rgb(0,255,170)" fill-rule="evenodd" d="M110.3,713.4 109.2,713.3 108.6,712.4 108.5,711.5 109.4,710.2 109.4,709.3 107.2,710.9 105.9,710.6 105.4,709.8 106.3,706.7 106.0,704.6 107.8,701.5 107.0,699.3 107.1,698.0 108.5,696.5 110.7,695.7 111.4,693.2 114.2,692.1 116.0,689.8 118.2,689.5 121.7,687.2 123.5,686.8 125.1,684.9 127.4,683.5 129.2,683.2 130.5,684.0 131.8,683.8 132.1,683.2 131.6,681.9 132.2,681.1 134.0,681.1 135.8,682.5 136.2,681.4 135.5,679.7 137.1,677.2 138.4,676.3 145.4,675.4 149.2,677.5 149.9,680.6 148.5,681.9 147.5,684.5 145.4,686.5 144.1,687.0 141.9,686.7 140.8,687.5 140.3,688.9 141.0,690.2 139.2,692.8 137.5,694.1 136.6,697.8 134.8,698.9 134.4,701.1 131.7,703.3 130.6,705.9 128.3,709.0 125.2,708.3 123.4,709.4 122.4,710.7 120.2,711.5 111.6,712.4 110.3,713.4ZM135.7,687.1 136.3,686.2 135.3,685.1 134.4,686.7 134.9,687.2 135.7,687.1Z"/>
<path fill="rgb(0,255,60)" fill-rule="evenodd" d="M119.9,710.8 119.1,711.0 116.9,710.3 112.5,711.0 111.0,710.7 110.5,708.1 108.1,706.1 107.1,704.6 108.7,701.5 107.9,699.3 108.4,698.0 109.0,697.7 110.3,698.0 111.6,696.8 113.4,696.3 114.1,695.0 114.2,693.2 116.0,691.1 117.7,691.5 120.8,689.2 123.5,688.9 125.6,686.2 126.4,686.2 127.3,687.5 128.3,687.8 130.0,686.9 131.4,685.3 132.7,685.0 133.3,685.4 133.5,687.5 134.0,688.0 136.6,687.5 137.4,686.2 136.4,684.1 137.2,681.9 136.5,679.7 138.4,677.3 141.5,676.4 145.4,676.0 148.5,678.0 149.0,680.1 147.8,681.4 145.9,685.4 144.5,685.8 142.8,684.2 138.6,687.5 138.4,688.4 139.1,690.2 138.4,691.9 134.6,693.7 136.2,695.8 136.2,696.8 135.8,697.4 134.0,697.6 133.6,698.0 133.9,700.6 130.6,703.3 129.4,706.3 127.8,707.7 125.2,706.9 122.1,708.3 120.8,709.3 119.9,710.8ZM107.6,709.4 106.7,709.4 107.1,708.1 107.6,707.8 108.0,708.5 107.6,709.4Z"/>
<path fill="rgb(0,255,0)" fill-rule="evenodd" d="M141.0,684.5 140.1,684.8 138.0,683.9 138.3,681.9 137.7,679.7 141.0,677.3 145.9,676.8 148.2,679.3 145.6,684.1 145.0,684.4 144.3,683.2 142.8,682.6 141.0,684.5ZM119.5,709.8 118.6,710.0 116.4,708.7 115.1,709.4 112.6,709.4 112.2,708.1 109.3,705.4 109.3,703.3 110.1,701.9 110.2,700.2 111.9,697.6 114.2,696.3 115.5,692.4 116.4,692.0 118.2,692.4 119.9,690.9 123.0,690.1 125.6,688.1 128.3,688.7 131.4,687.5 133.1,690.1 135.2,688.9 136.8,688.9 136.9,690.6 134.1,692.8 133.6,693.7 134.0,695.5 135.0,696.3 134.0,696.0 133.1,696.9 132.8,698.0 133.3,699.8 133.1,700.8 131.4,701.8 129.2,701.9 127.5,704.1 127.0,705.5 125.2,705.8 121.7,707.5 119.5,709.8Z"/>
<path fill="rgb(130,255,0)" fill-rule="evenodd" d="M144.1,680.6 142.4,679.7 142.5,678.8 143.7,678.5 144.7,678.8 144.1,680.6ZM119.1,707.8 116.9,706.9 114.7,707.4 111.6,705.4 111.7,701.1 115.1,696.7 116.1,694.1 116.9,693.7 118.6,693.9 120.5,692.3 125.6,689.5 132.2,691.9 132.5,692.8 132.2,695.8 130.2,699.8 128.1,701.1 126.9,702.8 123.4,705.4 120.4,706.3 119.1,707.8Z"/>
<path fill="rgb(255,255,0)" fill-rule="evenodd" d="M118.6,705.5 115.5,705.4 113.3,703.7 112.8,702.4 112.9,701.1 116.4,696.7 120.8,693.9 122.2,692.3 125.6,690.4 129.2,691.8 130.9,693.1 131.6,695.4 129.9,697.6 129.4,699.3 122.1,704.7 118.6,705.5Z"/>
<path fill="rgb(255,170,0)" fill-rule="evenodd" d="M119.1,704.2 116.3,703.7 114.6,701.5 115.0,699.8 117.3,697.2 121.3,694.8 123.0,693.0 126.1,691.8 128.7,692.6 130.5,694.1 130.9,695.4 129.2,697.0 128.3,699.2 122.6,703.2 119.1,704.2Z"/>
<path fill="rgb(255,80,0)" fill-rule="evenodd" d="M121.3,702.9 118.6,703.1 117.0,702.4 116.4,700.2 117.6,698.0 123.9,693.8 127.4,693.3 129.4,694.5 129.6,695.2 128.5,696.3 127.7,698.5 125.2,700.0 123.0,702.2 121.3,702.9Z"/>
<path fill="rgb(255,0,0)" fill-rule="evenodd" d="M121.3,702.4 119.1,702.5 117.7,701.7 117.3,700.2 118.1,698.5 119.5,697.1 124.3,694.6 125.6,694.5 127.0,695.0 127.6,696.3 127.1,698.0 124.8,699.5 123.0,701.7 121.3,702.4Z"/>
</g>
<clipPath id="clip_PBS"><rect x="89.4" y="662.9" width="70.3" height="69.8"/></clipPath>
<rect x="89.4" y="662.9" width="70.3" height="69.8" fill="none" stroke="#8a8a8a" stroke-width="1"/>
<line x1="137.6" y1="662.9" x2="137.6" y2="732.7" stroke="#333" stroke-width="1"/>
<line x1="89.4" y1="686.7" x2="159.7" y2="686.7" stroke="#333" stroke-width="1"/>
<g clip-path="url(#clip_c62)" filter="url(#soft)">
<path fill="rgb(0,0,255)" fill-rule="evenodd" d="M202.2,690.7 200.0,690.9 199.2,690.3 198.7,688.9 196.9,688.8 196.1,688.0 193.0,687.4 192.3,686.8 191.8,685.9 191.9,684.2 189.7,683.3 189.3,681.5 189.6,678.9 189.2,676.7 188.7,676.1 187.8,675.8 185.7,676.5 183.5,676.2 180.9,677.6 178.4,675.4 177.4,667.6 178.6,664.1 181.3,662.4 180.8,660.6 181.2,659.3 182.2,658.6 183.9,658.8 187.4,652.8 190.0,651.8 190.9,652.6 191.9,652.3 192.1,651.0 190.4,650.4 191.3,649.0 195.5,648.8 196.9,647.3 199.6,645.6 200.4,645.8 201.3,646.7 202.6,646.3 205.2,646.7 206.1,646.2 206.6,645.3 206.3,642.7 207.7,638.8 207.0,637.5 208.3,635.7 207.7,634.9 206.1,634.9 205.4,634.4 205.2,632.7 206.9,633.3 210.0,633.0 210.4,633.8 211.3,633.9 215.2,630.7 218.2,631.0 219.5,630.4 221.3,630.4 223.4,628.7 225.6,628.3 227.4,628.9 229.1,626.9 230.4,626.9 233.0,630.3 235.2,631.2 236.0,632.2 236.3,636.2 236.0,636.9 235.0,637.5 235.9,640.5 234.6,642.7 234.2,645.8 234.4,647.5 231.5,651.4 231.6,653.2 232.7,654.9 232.6,655.8 229.7,659.7 230.8,661.5 230.6,663.2 229.4,665.4 230.2,667.6 228.6,668.9 228.3,670.2 228.5,671.9 226.9,674.1 227.9,675.9 227.2,679.8 226.5,680.6 225.6,680.9 224.3,679.9 224.3,682.5 222.1,683.6 221.7,683.5 221.3,682.0 220.4,681.4 217.8,681.5 216.1,682.8 213.5,681.4 210.4,682.3 208.4,681.1 206.9,682.0 206.1,683.6 204.3,684.2 202.8,685.5 202.7,687.6 201.5,688.1 201.4,688.5 202.6,689.8 202.2,690.7ZM171.3,663.3 171.3,660.8 173.4,661.5 173.5,662.7 171.3,663.3ZM189.1,685.2 188.2,684.2 189.1,683.5 189.6,683.7 189.1,685.2ZM199.7,685.9 200.3,685.0 198.7,684.6 198.6,685.5 199.7,685.9ZM207.4,693.0 206.1,692.9 205.6,691.1 203.6,689.4 204.2,688.5 206.9,686.8 208.5,689.0 210.4,689.6 211.3,690.7 211.1,691.6 210.4,692.1 209.5,691.1 208.7,691.1 207.4,693.0ZM190.0,693.2 186.5,692.9 187.2,690.3 189.6,687.4 191.1,688.5 191.7,689.8 191.5,690.7 189.9,691.1 190.4,692.9 190.0,693.2Z"/>
<path fill="rgb(0,40,255)" fill-rule="evenodd" d="M201.7,690.5 199.6,690.3 199.3,689.0 197.8,687.7 193.9,687.4 192.6,686.8 192.1,685.9 192.2,684.2 189.8,682.4 189.7,678.9 189.4,676.7 188.7,675.8 186.1,676.1 184.8,675.7 180.9,677.3 178.7,675.4 177.6,667.6 178.7,664.5 179.6,663.5 181.3,664.0 182.0,663.7 182.0,662.3 181.2,661.0 181.2,659.7 182.2,658.9 183.5,659.2 184.6,658.9 187.4,653.1 190.0,652.3 190.9,653.2 192.1,652.3 192.3,651.0 190.7,650.1 191.3,649.2 196.0,648.8 196.9,647.5 199.6,645.9 200.7,646.6 199.7,647.9 200.4,648.5 201.1,647.1 202.2,646.5 204.8,646.8 206.2,646.2 206.7,645.3 206.6,642.7 206.9,642.2 208.2,642.2 208.7,641.4 208.2,640.4 207.4,640.5 208.5,638.8 207.4,637.5 208.8,635.7 208.2,633.9 209.1,633.5 210.2,634.4 211.3,634.4 215.2,630.9 216.9,630.9 218.2,631.4 219.5,630.7 221.7,630.6 222.9,629.2 225.2,628.5 227.4,629.3 229.1,627.3 230.4,627.3 232.8,630.5 234.7,631.3 235.7,632.2 236.2,636.2 234.8,637.5 235.7,640.5 234.3,643.1 234.1,647.5 231.0,651.9 231.5,653.6 232.3,654.5 232.2,655.4 229.2,659.7 229.3,661.9 230.1,663.2 229.1,665.0 229.6,667.6 228.7,668.1 227.8,669.4 226.5,669.8 226.5,670.2 227.9,671.1 228.1,671.9 226.6,673.3 224.9,676.7 222.8,677.6 223.6,679.4 223.5,681.1 222.8,682.0 223.1,682.8 222.1,683.0 221.4,681.5 219.5,680.6 216.1,682.5 213.0,681.0 210.4,682.1 209.1,680.8 208.2,680.8 206.7,682.0 205.9,683.3 203.9,684.1 202.4,685.5 202.2,687.2 201.0,688.1 202.0,689.8 201.7,690.5ZM171.8,662.8 171.3,662.8 171.3,661.3 172.6,661.5 172.7,662.3 171.8,662.8ZM226.9,678.6 225.5,676.7 226.9,675.4 227.5,676.3 227.4,678.3 226.9,678.6ZM200.5,685.9 200.3,684.6 198.7,684.2 198.2,684.6 198.3,685.5 199.1,686.2 200.5,685.9ZM205.6,689.9 204.8,689.7 204.4,689.0 206.1,687.5 206.9,687.4 207.6,689.4 205.6,689.9ZM190.0,693.0 188.9,692.9 189.1,691.1 188.0,689.8 188.7,688.4 189.6,687.7 190.8,688.5 191.4,689.8 191.3,690.4 189.7,690.7 190.0,693.0Z"/>
<path fill="rgb(0,110,255)" fill-rule="evenodd" d="M195.2,687.3 193.9,687.3 193.0,686.8 193.4,685.9 192.5,684.2 190.0,682.2 189.6,677.2 188.7,675.6 186.1,675.7 185.2,675.3 180.9,676.9 178.7,675.0 180.6,673.7 182.2,670.2 181.3,668.5 180.2,668.0 180.6,666.7 180.0,665.8 179.3,666.7 179.6,667.9 180.2,668.5 179.1,670.5 178.3,670.8 177.9,667.1 178.7,665.3 179.1,664.7 182.6,665.4 183.9,664.7 185.7,664.8 185.9,663.7 184.3,663.8 183.5,663.3 182.9,662.3 183.0,661.5 185.9,659.7 185.9,657.1 187.6,653.2 189.6,652.7 190.4,654.1 192.3,652.3 192.5,651.0 191.2,650.1 191.6,649.3 196.1,649.0 196.9,647.7 199.6,646.1 200.3,646.6 199.5,647.5 199.5,648.4 200.4,648.7 202.2,646.6 204.8,646.9 206.3,646.2 206.8,645.3 206.7,643.1 208.8,641.8 208.8,638.4 208.3,637.5 211.3,634.9 212.6,636.0 213.5,636.1 213.9,635.3 213.8,632.2 214.7,631.4 216.1,631.1 216.8,632.2 217.4,632.3 219.5,630.9 224.5,630.9 224.7,628.8 225.6,628.7 226.9,629.6 227.8,629.4 228.2,628.7 230.0,629.3 231.3,628.7 232.1,629.8 232.6,631.5 234.7,632.0 235.6,632.7 236.0,636.2 234.7,637.1 234.6,637.9 235.4,641.0 234.2,642.7 233.6,644.9 233.9,647.4 233.4,648.0 232.6,647.4 232.1,647.8 231.4,649.7 229.1,651.1 228.7,653.2 226.9,653.5 226.5,654.1 226.6,655.4 228.7,655.9 229.2,656.7 228.7,657.6 226.4,658.9 227.8,660.0 227.7,661.0 226.5,661.7 222.6,661.0 221.9,661.5 223.7,663.7 223.4,666.5 224.8,667.1 225.1,668.0 224.3,668.8 223.0,668.1 219.1,668.9 216.6,670.2 216.6,671.1 217.8,672.4 220.0,671.5 220.1,673.7 219.5,674.9 218.2,675.4 217.4,673.9 214.9,673.3 214.3,672.4 213.5,675.0 214.3,676.3 214.2,677.2 212.6,676.9 212.4,675.4 211.7,675.4 210.7,675.9 210.3,677.2 206.5,678.0 207.1,680.7 204.8,683.3 204.0,682.8 204.1,680.2 203.5,679.5 201.7,679.6 201.0,680.2 202.0,682.4 201.3,684.9 198.7,683.7 198.6,682.4 199.2,681.1 198.7,680.8 197.9,681.1 197.4,682.0 197.3,685.5 195.2,687.3ZM216.5,682.0 213.3,680.7 215.2,678.5 216.9,681.1 216.5,682.0ZM189.6,689.3 189.0,689.0 189.1,688.1 190.0,688.5 189.6,689.3Z"/>
<path fill="rgb(0,180,255)" fill-rule="evenodd" d="M191.7,682.0 190.0,681.2 190.2,679.4 189.7,676.7 188.2,674.6 187.0,674.3 182.6,675.9 183.9,674.1 186.5,673.4 186.9,672.8 186.9,671.5 185.1,670.6 184.4,668.9 186.7,667.1 187.0,665.0 188.0,663.2 187.4,656.5 188.3,655.2 190.9,655.1 192.4,652.7 192.9,651.4 191.8,650.1 192.0,649.3 196.1,649.3 196.9,647.9 199.1,646.7 199.6,647.1 199.2,647.5 199.3,648.4 200.4,648.9 202.5,646.6 205.6,646.8 206.7,645.8 206.9,643.1 208.7,642.4 209.0,641.8 209.1,639.1 211.3,637.2 213.5,637.9 215.6,635.0 216.9,635.0 218.1,633.1 219.5,632.0 225.2,632.1 230.0,631.3 231.7,632.9 233.9,632.9 235.1,633.6 235.7,634.4 235.7,636.2 234.5,637.0 234.4,637.9 235.3,639.7 235.2,641.3 232.1,644.5 229.5,645.4 227.8,647.0 225.7,647.1 226.7,650.6 225.6,652.3 225.2,654.5 223.9,655.7 223.5,657.5 221.3,659.8 220.0,662.0 216.1,665.0 216.0,666.3 216.7,667.6 216.4,668.5 214.3,670.4 212.6,671.2 211.7,673.3 209.6,674.6 208.2,676.1 206.5,676.4 203.0,678.1 200.9,676.7 197.4,676.2 196.4,677.2 196.5,678.0 198.5,678.0 198.9,678.9 196.1,680.1 193.5,679.9 191.7,682.0ZM214.4,639.7 214.7,639.2 214.3,638.8 213.5,638.8 213.7,639.7 214.4,639.7ZM220.8,667.6 218.4,667.6 217.7,667.1 217.7,666.3 219.1,664.9 220.4,664.8 221.7,666.7 220.8,667.6ZM195.6,684.2 194.8,684.4 194.2,683.7 195.2,683.1 195.6,683.3 195.6,684.2Z"/>
<path fill="rgb(0,240,255)" fill-rule="evenodd" d="M203.9,676.8 203.0,676.8 200.4,675.4 196.9,674.8 192.7,676.7 190.0,676.8 189.4,674.6 191.1,672.8 190.9,672.4 188.7,672.0 188.5,671.1 189.3,667.6 188.7,665.4 190.1,661.5 188.7,659.7 189.0,656.7 191.7,657.5 192.5,656.2 192.2,654.5 192.6,653.5 193.9,652.5 195.6,653.0 196.7,651.4 197.2,649.3 198.2,648.1 200.4,649.1 202.6,646.8 204.8,647.1 206.1,646.6 206.9,645.3 206.9,643.5 208.2,643.2 210.0,640.6 211.7,640.5 213.9,642.2 214.8,642.0 216.1,639.7 216.1,637.2 218.0,636.2 218.8,634.0 219.5,633.3 228.2,632.4 230.8,633.7 234.3,634.0 235.2,635.3 234.2,637.5 235.1,639.7 234.7,640.8 233.4,641.4 232.3,643.1 231.0,644.0 229.1,644.7 226.9,644.3 223.4,646.1 222.7,648.8 223.0,650.6 222.1,652.3 223.0,654.1 222.1,657.5 220.2,658.9 219.1,660.4 217.8,661.1 215.5,664.1 214.8,668.6 213.5,669.2 210.4,668.9 209.9,672.4 207.8,674.3 203.9,676.8ZM193.9,651.0 192.5,649.7 195.1,649.7 194.8,650.7 193.9,651.0Z"/>
<path fill="rgb(0,255,170)" fill-rule="evenodd" d="M200.0,673.7 194.3,674.0 193.8,673.3 194.2,671.1 190.2,669.3 190.6,667.6 190.4,665.5 191.4,664.1 193.2,662.8 192.3,659.3 192.5,658.4 194.3,655.0 195.6,654.8 197.1,653.2 198.2,649.6 199.1,649.1 201.3,649.1 202.8,647.1 204.8,647.3 206.1,646.7 207.4,644.5 208.7,644.2 210.8,641.7 212.1,641.8 213.9,643.7 215.5,643.1 216.9,641.4 219.1,639.9 219.5,635.3 220.4,634.2 227.4,633.2 233.3,635.3 233.5,639.2 231.6,641.0 231.1,643.1 229.5,643.9 226.5,643.6 223.4,644.6 222.4,645.8 221.4,648.4 221.5,650.1 220.7,651.4 221.4,654.1 220.3,655.8 220.4,656.7 219.1,657.3 217.8,658.6 216.5,658.6 214.1,664.5 214.0,667.6 210.4,667.4 208.7,669.5 205.9,670.2 205.5,670.6 206.0,672.4 205.2,673.0 204.3,672.6 204.0,671.1 203.5,670.6 202.2,670.6 201.1,671.5 200.8,673.3 200.0,673.7Z"/>
<path fill="rgb(0,255,60)" fill-rule="evenodd" d="M222.1,643.7 221.3,643.8 220.5,642.7 221.4,638.4 220.8,635.3 222.6,635.0 224.3,634.0 226.5,634.0 231.4,635.7 232.7,638.8 230.2,641.0 230.5,642.3 230.0,643.1 229.1,643.3 227.8,642.8 224.2,643.1 223.7,642.7 223.8,641.4 223.0,640.8 222.3,641.4 223.0,642.7 222.1,643.7ZM197.4,673.0 195.9,672.8 194.6,670.2 192.0,668.9 192.3,667.6 191.8,665.4 193.8,662.8 194.1,660.6 193.3,658.9 193.6,658.0 198.2,653.8 199.5,651.0 202.6,649.8 203.6,647.5 206.1,647.0 207.4,645.3 208.7,645.2 210.8,642.7 211.7,642.8 213.0,644.4 213.9,644.6 217.8,643.4 219.1,643.6 219.7,644.5 219.0,646.6 220.2,648.8 219.7,651.0 220.0,653.2 218.7,654.5 217.8,656.2 216.1,657.5 213.9,663.1 210.8,664.8 209.5,666.7 207.4,668.7 202.6,669.4 200.0,671.7 198.7,671.6 197.4,673.0Z"/>
<path fill="rgb(0,255,0)" fill-rule="evenodd" d="M226.5,642.1 225.6,641.8 226.0,640.5 225.7,640.1 223.9,638.8 224.4,637.5 223.6,635.3 224.3,634.6 229.1,635.5 229.7,636.2 230.0,637.5 231.4,638.4 231.1,639.2 227.4,641.0 226.5,642.1ZM200.0,670.3 198.2,669.2 196.1,669.7 192.8,665.8 195.5,660.2 195.3,658.4 197.4,655.5 198.7,654.8 200.0,652.9 203.0,650.9 204.8,648.9 206.5,649.2 207.8,647.8 210.4,647.5 212.1,646.4 213.5,646.2 216.5,648.7 218.6,649.3 218.4,652.7 217.0,655.4 215.6,656.7 213.2,662.8 210.4,663.9 209.0,666.3 207.4,667.5 204.3,668.4 202.2,668.1 200.0,670.3Z"/>
<path fill="rgb(130,255,0)" fill-rule="evenodd" d="M227.8,638.4 227.2,637.5 227.8,637.0 228.3,637.9 227.8,638.4ZM199.6,667.7 197.0,667.6 195.4,665.0 197.8,657.8 199.3,656.7 200.8,654.1 204.0,651.9 205.2,650.4 206.9,650.2 208.7,649.3 211.0,649.3 213.0,647.8 213.9,648.1 215.2,649.7 216.8,652.7 216.2,654.1 214.3,655.4 213.9,657.5 212.7,660.2 209.7,661.5 208.7,665.0 207.8,666.1 199.6,667.7Z"/>
<path fill="rgb(255,255,0)" fill-rule="evenodd" d="M203.5,666.3 198.7,666.2 197.3,662.3 198.2,659.2 200.1,657.5 201.8,654.5 206.0,651.4 208.7,650.1 210.8,650.6 213.0,650.2 213.6,651.0 213.8,652.7 211.9,658.9 208.8,661.5 207.4,665.4 203.5,666.3Z"/>
<path fill="rgb(255,170,0)" fill-rule="evenodd" d="M203.0,665.5 199.6,665.1 198.5,663.2 198.5,661.9 199.4,659.7 203.3,654.1 206.5,652.5 208.2,651.1 209.2,651.0 212.0,653.2 212.2,654.9 211.3,658.4 208.4,661.0 206.1,664.3 203.0,665.5Z"/>
<path fill="rgb(255,80,0)" fill-rule="evenodd" d="M203.0,664.2 200.4,663.8 199.9,663.2 201.0,658.9 204.3,654.1 208.7,652.6 210.8,654.9 210.6,658.4 206.1,662.7 203.0,664.2Z"/>
<path fill="rgb(255,0,0)" fill-rule="evenodd" d="M204.3,662.9 203.0,663.2 201.4,661.9 201.8,658.4 204.8,654.4 209.1,654.0 210.3,655.8 210.0,658.4 206.5,661.7 204.3,662.9Z"/>
</g>
<clipPath id="clip_c62"><rect x="171.1" y="623.3" width="69.5" height="69.8"/></clipPath>
<rect x="171.1" y="623.3" width="69.5" height="69.8" fill="none" stroke="#8a8a8a" stroke-width="1"/>
<line x1="220.6" y1="623.3" x2="220.6" y2="693.1" stroke="#333" stroke-width="1"/>
<line x1="171.1" y1="646.4" x2="240.6" y2="646.4" stroke="#333" stroke-width="1"/>
<g clip-path="url(#clip_c125)" filter="url(#soft)">
<path fill="rgb(0,0,255)" fill-rule="evenodd" d="M278.5,693.4 275.5,693.4 275.1,691.0 273.9,690.1 274.0,688.4 275.5,686.6 274.7,685.7 275.2,685.3 275.2,684.4 274.2,683.8 270.7,683.7 269.8,684.2 269.0,685.7 266.8,685.7 266.5,682.2 267.2,680.0 266.3,678.7 266.0,676.5 265.1,676.0 263.3,675.8 260.1,673.9 258.1,674.1 256.9,673.5 256.8,671.3 255.5,668.7 253.3,667.2 253.2,643.7 255.5,643.1 256.8,643.6 260.3,641.0 261.6,642.4 263.3,642.8 263.9,642.4 263.9,641.0 265.1,640.1 265.9,639.9 267.2,640.8 268.7,640.6 269.2,638.4 270.3,637.4 273.3,637.9 275.1,637.3 278.1,637.7 281.2,634.3 282.5,634.3 284.2,635.1 285.5,634.5 289.4,630.4 291.6,632.0 293.8,630.7 295.1,630.4 297.7,631.0 299.4,630.2 301.2,631.0 304.6,628.5 306.4,628.3 308.1,626.8 309.9,626.9 311.3,628.8 312.9,628.8 315.1,630.5 315.3,631.8 314.6,634.5 314.9,638.0 314.1,641.5 313.1,642.8 313.6,645.4 312.8,647.2 313.4,648.1 312.4,650.7 313.7,652.9 312.7,659.9 309.4,664.7 308.6,667.3 308.8,669.1 310.1,670.4 310.0,671.3 308.6,672.9 307.3,671.9 306.4,672.2 304.6,676.1 303.8,676.7 301.8,677.0 301.6,678.7 299.4,678.7 297.7,679.5 296.8,679.3 295.9,678.3 296.8,677.0 295.5,676.0 293.8,676.7 291.2,676.5 289.0,678.4 288.4,678.3 287.8,677.0 287.0,677.0 286.8,677.8 287.6,679.2 287.0,681.4 284.6,682.5 284.8,684.4 284.2,685.3 281.6,686.0 280.7,686.8 280.9,690.1 278.5,690.2 277.1,691.0 278.9,692.3 278.9,693.2 278.5,693.4ZM291.8,635.8 292.1,634.5 291.2,633.7 289.4,635.8 291.8,635.8ZM255.4,645.0 255.1,644.1 254.0,644.5 254.6,645.3 255.4,645.0ZM259.9,649.4 260.4,648.5 259.8,648.0 257.6,648.5 259.0,649.5 259.9,649.4ZM260.7,666.5 262.8,665.1 261.4,662.1 261.6,660.8 262.0,660.5 263.3,661.2 263.9,660.8 263.3,660.0 262.1,659.4 262.2,658.1 262.9,657.3 264.6,657.5 265.3,656.4 264.5,654.2 265.1,652.0 264.3,649.8 263.3,649.2 261.6,650.7 259.4,650.3 258.7,650.7 257.5,652.4 258.4,654.6 258.3,656.4 257.2,657.2 255.9,656.3 255.5,656.5 254.0,661.2 254.6,662.5 257.2,661.4 257.7,663.8 259.0,665.6 260.7,666.5ZM254.2,670.0 253.3,670.0 253.0,669.5 253.3,667.9 254.5,669.1 254.2,670.0ZM253.8,679.3 253.1,679.2 253.3,677.2 254.3,678.3 254.2,679.2 253.8,679.3ZM273.3,685.9 272.5,685.9 272.4,685.3 273.3,685.3 273.7,685.7 273.3,685.9ZM253.8,691.0 253.1,691.0 253.0,688.8 254.6,688.5 254.9,690.1 253.8,691.0Z"/>
<path fill="rgb(0,40,255)" fill-rule="evenodd" d="M276.4,690.6 275.5,690.7 274.0,689.7 274.2,688.6 276.3,686.6 275.5,684.4 274.2,683.6 270.7,683.4 269.7,684.0 269.0,685.4 267.2,685.3 266.8,682.2 267.5,679.6 266.3,676.5 265.5,675.9 262.9,675.4 260.3,673.6 257.2,673.5 256.8,672.8 257.1,671.3 256.5,668.2 254.6,667.2 254.1,665.6 253.3,664.9 253.3,662.9 254.6,663.3 256.4,662.3 258.7,666.0 259.8,666.6 260.7,666.7 263.9,665.1 263.8,664.6 262.5,664.0 261.6,661.6 262.0,660.9 263.8,661.6 264.1,661.2 264.0,660.3 262.5,659.2 262.4,658.6 262.9,657.8 264.6,657.8 265.4,656.8 265.5,655.9 264.8,654.2 265.3,651.6 264.7,649.8 263.8,648.9 264.1,646.7 263.3,646.2 260.7,646.3 259.6,644.5 259.5,643.7 260.3,641.9 260.7,641.7 262.5,643.1 263.8,643.0 264.2,642.5 265.1,643.2 269.2,640.6 269.5,638.9 270.3,638.0 270.8,638.4 270.5,639.3 270.7,640.2 272.5,639.9 275.1,641.5 275.2,640.2 278.1,638.3 279.0,637.1 279.9,638.4 281.4,638.0 281.6,636.9 279.4,637.4 279.0,637.1 280.7,634.8 282.0,634.7 282.9,635.9 284.2,635.6 286.4,634.1 287.2,632.8 289.4,630.9 291.6,632.6 293.3,631.2 294.6,630.8 297.3,631.4 299.4,630.4 301.6,631.1 303.8,629.8 304.6,628.7 306.4,628.5 308.1,627.1 310.2,627.5 310.9,629.2 312.9,629.4 314.7,630.6 315.0,631.8 314.4,634.5 314.7,638.0 313.9,641.0 312.9,642.7 313.5,645.0 312.4,647.2 313.0,648.5 312.2,650.7 313.4,652.9 312.7,654.6 312.3,659.4 312.0,659.9 310.5,659.9 310.9,662.5 307.7,667.3 308.3,669.1 309.6,670.4 309.5,671.7 308.6,672.3 307.3,671.6 306.4,671.8 305.6,672.6 304.8,675.7 304.2,676.2 302.4,676.1 299.9,674.9 298.6,677.5 297.7,677.3 294.2,674.0 293.7,674.3 294.5,675.7 293.8,676.3 291.2,676.2 289.0,677.8 287.2,676.6 286.6,677.4 287.3,679.2 286.9,680.9 284.5,682.2 284.2,684.7 281.9,685.3 280.5,686.6 280.4,689.7 278.5,689.6 276.4,690.6ZM288.7,637.1 292.0,635.9 292.3,634.5 291.6,633.2 288.3,635.8 287.6,637.1 288.7,637.1ZM257.7,645.0 256.7,644.1 258.1,643.2 258.2,644.1 257.7,645.0ZM253.3,661.0 253.3,658.0 253.9,656.8 253.3,654.8 253.2,652.0 253.3,651.1 254.1,650.2 253.3,649.7 253.3,646.5 255.1,647.1 256.8,646.7 256.8,647.9 254.9,649.4 255.9,649.9 257.2,649.3 258.4,649.8 258.1,651.1 256.2,652.9 258.1,654.8 258.1,655.9 257.2,656.9 255.9,655.6 255.5,656.0 253.3,661.0ZM272.7,649.4 272.6,648.1 272.0,647.9 271.7,649.4 272.7,649.4ZM261.6,650.4 260.7,650.5 259.9,649.8 261.1,648.1 262.4,648.9 261.6,650.4ZM309.3,661.2 309.0,660.4 308.1,660.5 308.6,661.5 309.3,661.2ZM304.8,672.6 304.2,671.9 303.7,672.2 304.2,673.0 304.8,672.6ZM298.1,678.8 296.8,678.9 296.2,678.3 296.4,677.8 297.7,677.9 298.1,678.8ZM254.2,690.6 253.3,690.8 253.3,688.7 254.7,688.8 254.7,690.1 254.2,690.6ZM278.5,693.2 275.5,693.2 275.6,691.9 275.9,691.4 277.7,691.9 278.4,692.3 278.5,693.2Z"/>
<path fill="rgb(0,110,255)" fill-rule="evenodd" d="M279.4,685.8 276.4,685.8 275.8,684.4 274.2,683.2 270.3,683.2 269.0,684.6 267.7,684.4 267.0,682.2 267.9,680.0 267.9,679.2 267.1,677.8 267.9,677.0 267.6,676.1 266.8,675.1 263.8,675.5 262.5,674.8 263.6,670.8 263.3,669.1 262.5,668.4 261.0,668.6 259.4,672.2 258.5,672.0 258.1,671.3 257.9,668.6 258.3,666.9 260.7,667.1 262.9,665.8 265.1,665.9 265.7,665.1 265.5,664.2 264.2,664.6 262.7,663.8 262.0,661.6 262.5,661.2 263.3,662.0 264.4,661.6 264.4,660.3 262.8,659.0 262.9,658.4 264.6,658.0 265.7,656.8 265.9,655.7 266.8,655.1 266.6,653.7 267.8,651.1 266.0,648.9 265.9,645.9 267.7,645.0 270.0,642.8 271.3,643.2 271.2,644.1 270.5,645.0 271.2,645.5 274.6,643.5 276.4,643.3 277.2,640.4 281.2,639.8 285.1,637.0 287.2,638.4 291.7,637.1 292.6,635.3 292.6,634.0 294.0,633.2 294.9,631.4 295.9,631.3 297.3,632.3 299.0,630.8 301.6,631.3 304.1,630.1 305.0,628.8 306.4,628.8 308.1,627.4 308.7,627.5 309.5,630.5 310.3,631.4 312.0,632.4 312.9,632.4 312.5,631.0 312.9,630.0 314.6,631.4 314.6,638.0 314.0,640.6 312.7,642.8 313.2,645.4 311.7,648.1 312.5,648.4 312.0,650.7 312.9,652.8 310.3,651.3 309.6,651.6 311.3,654.2 310.3,656.0 306.8,659.0 306.4,659.9 306.8,662.4 309.0,663.1 309.5,663.8 308.1,665.6 306.4,665.6 304.6,666.5 302.9,666.2 301.3,666.9 300.0,668.6 300.3,669.3 302.0,670.0 301.5,671.7 300.0,672.6 297.7,672.9 296.4,673.8 293.8,673.6 293.4,674.3 293.8,675.9 292.0,675.2 291.2,673.5 290.3,673.4 290.6,675.2 290.2,676.5 289.0,677.3 287.7,676.4 286.8,676.6 286.4,677.4 286.8,678.8 285.5,680.6 283.8,681.1 281.6,680.3 281.6,681.4 282.9,683.1 282.5,683.6 280.9,684.0 279.4,685.8ZM289.0,634.9 287.2,635.1 286.8,634.6 287.7,632.7 288.6,632.4 290.7,633.1 289.0,634.9ZM271.9,650.7 274.3,650.2 274.7,649.8 273.8,648.7 273.1,646.7 272.0,646.2 270.4,649.8 271.0,650.7 271.9,650.7ZM265.1,654.6 265.5,653.0 266.2,653.3 266.3,653.7 265.1,654.6ZM306.0,657.3 306.6,656.8 306.8,655.9 306.3,655.1 305.1,654.7 304.2,655.5 304.0,656.4 304.6,657.1 306.0,657.3ZM297.7,676.6 296.4,675.7 296.8,675.1 297.7,675.8 297.7,676.6ZM270.2,679.6 269.8,677.2 268.6,677.4 269.0,679.7 269.4,680.0 270.2,679.6Z"/>
<path fill="rgb(0,180,255)" fill-rule="evenodd" d="M284.2,680.1 283.3,679.8 281.2,677.4 278.1,678.6 275.9,676.5 274.9,677.0 274.2,679.8 273.3,679.8 271.9,677.8 271.3,675.2 271.7,673.9 270.7,672.9 270.2,673.0 270.3,674.8 269.8,675.3 268.8,675.2 266.8,673.7 264.6,674.8 263.9,674.8 263.8,673.2 265.2,670.4 264.7,668.2 265.1,667.7 267.2,667.6 268.6,664.7 268.0,660.8 266.9,659.0 268.2,657.3 268.2,655.5 269.0,654.9 271.2,655.8 272.0,654.6 272.4,651.6 275.5,650.8 275.9,648.9 274.6,647.6 274.9,647.2 277.2,647.9 278.2,645.9 282.0,644.3 283.3,642.9 285.5,642.8 285.9,640.8 287.2,639.7 292.9,638.4 294.2,637.1 294.2,635.2 296.2,634.5 297.0,632.7 297.7,632.6 298.6,631.4 301.6,631.7 302.9,630.9 307.7,630.4 311.2,633.1 313.8,633.9 314.3,635.8 314.3,638.9 312.6,642.8 313.0,645.4 311.2,646.8 307.9,651.6 309.5,653.7 309.6,654.6 308.6,655.1 306.0,653.7 304.2,653.9 303.1,655.5 302.9,656.8 303.3,658.1 304.8,658.6 305.1,659.5 304.6,660.2 302.9,658.8 301.8,659.4 301.3,660.3 302.9,663.4 302.7,664.7 299.0,666.9 298.4,668.6 296.6,669.5 295.9,670.9 295.5,671.1 294.2,670.1 291.2,670.9 289.2,672.2 288.3,673.5 288.4,675.7 286.8,676.1 285.5,677.4 284.9,679.6 284.2,680.1ZM284.2,640.7 283.3,641.0 282.7,640.2 283.3,639.6 284.0,639.7 284.6,640.2 284.2,640.7Z"/>
<path fill="rgb(0,240,255)" fill-rule="evenodd" d="M279.0,677.2 278.1,677.1 276.4,675.6 274.2,675.1 273.1,673.0 270.7,671.4 269.0,671.4 267.4,670.4 267.3,670.0 268.5,669.1 268.6,666.9 270.0,665.6 269.4,661.2 271.6,660.8 272.6,659.4 272.5,658.6 271.6,657.9 269.4,659.3 268.6,659.0 268.7,658.6 269.8,657.5 272.0,656.8 273.8,652.8 275.5,652.0 276.8,649.8 279.0,647.9 280.7,647.6 281.2,645.7 283.8,644.4 285.9,644.2 286.9,641.9 288.1,640.7 289.2,641.0 289.3,642.4 289.9,642.8 290.9,640.6 292.5,640.0 294.6,638.1 297.0,637.5 297.5,635.8 299.4,632.7 301.2,633.3 303.8,632.0 306.4,632.3 308.1,631.9 313.3,634.5 314.2,635.8 314.3,638.4 313.8,640.6 312.4,642.8 312.9,644.8 311.2,645.6 309.9,646.9 308.1,646.4 306.0,647.2 304.6,651.9 302.8,652.0 302.1,657.7 300.4,660.3 301.3,663.4 301.1,664.3 297.5,666.0 296.4,667.7 292.5,669.6 288.6,671.0 286.8,671.1 284.9,673.9 282.0,676.0 280.3,675.4 279.0,677.2Z"/>
<path fill="rgb(0,255,170)" fill-rule="evenodd" d="M279.0,674.0 277.7,674.2 275.9,673.7 275.0,671.3 273.3,669.1 271.6,669.2 270.6,668.6 270.7,667.8 271.6,666.9 272.5,666.9 273.8,667.8 274.0,667.3 272.9,664.2 271.1,662.5 273.5,659.4 273.8,654.8 275.9,654.2 277.5,652.9 277.7,650.8 278.5,650.9 279.9,651.9 280.5,651.6 282.5,646.4 283.8,646.1 287.2,646.6 287.8,645.9 287.6,644.1 288.1,643.8 289.9,644.3 291.2,645.5 292.1,645.4 292.8,642.4 294.0,639.7 295.1,638.9 297.7,638.4 298.4,635.8 299.4,634.7 301.6,634.8 304.2,633.1 306.0,633.4 308.1,633.0 312.7,634.9 313.3,637.1 314.2,638.4 313.8,640.3 312.3,642.4 312.5,643.9 310.8,644.5 309.4,645.7 304.2,645.6 302.8,646.3 302.8,647.2 304.0,648.5 304.1,649.4 303.8,650.2 302.0,651.1 301.0,652.4 300.5,655.5 301.1,657.3 299.0,660.5 295.5,662.0 295.9,663.4 297.7,663.3 298.0,664.3 294.6,665.9 291.2,666.4 290.5,666.9 290.7,668.6 290.1,669.5 289.0,669.8 286.8,668.9 285.6,670.0 284.2,672.7 281.6,672.5 279.0,674.0Z"/>
<path fill="rgb(0,255,60)" fill-rule="evenodd" d="M279.4,672.3 278.6,672.2 277.7,670.4 275.2,669.5 274.7,666.5 272.5,662.5 272.7,661.6 274.6,659.4 275.8,655.5 277.7,653.9 280.9,652.4 283.6,649.4 283.3,647.6 287.2,647.6 289.4,645.6 291.6,646.4 293.2,645.9 294.3,643.2 294.2,641.0 294.6,640.2 295.5,639.5 298.6,638.9 299.0,638.0 298.8,636.2 299.4,635.5 301.6,635.6 303.8,634.2 307.7,633.8 312.0,635.3 312.5,637.1 313.8,638.9 313.8,639.8 312.0,642.8 309.0,644.8 304.2,644.7 302.1,645.9 301.3,647.6 302.4,648.5 302.6,649.4 301.6,650.3 299.9,650.2 299.0,651.1 299.7,653.3 299.1,655.1 299.1,656.8 298.1,659.5 297.3,660.0 295.5,659.7 294.6,660.3 294.3,661.6 294.9,663.8 294.7,664.7 290.3,666.0 289.0,668.5 287.2,667.5 284.2,670.6 281.2,671.3 279.4,672.3ZM300.5,648.5 301.1,647.6 298.9,647.2 298.7,647.6 299.4,648.6 299.9,648.9 300.5,648.5Z"/>
<path fill="rgb(0,255,0)" fill-rule="evenodd" d="M300.7,646.1 299.9,646.1 299.2,645.4 301.0,644.1 300.7,642.8 299.4,641.1 297.5,640.6 299.9,639.3 300.6,638.0 300.3,637.1 303.8,635.2 307.3,634.5 311.4,635.8 312.9,639.3 309.7,643.2 309.0,643.8 307.3,643.4 306.0,643.8 303.8,643.2 300.7,646.1ZM281.2,670.2 279.9,670.4 276.2,669.1 273.8,662.5 275.8,659.4 276.9,655.5 277.7,654.6 280.7,653.5 282.9,651.0 284.6,650.2 285.5,648.6 287.9,648.1 289.9,646.9 294.6,646.5 295.3,644.1 296.8,643.2 297.3,646.7 296.2,649.4 298.1,649.5 297.7,651.1 298.1,653.3 297.1,655.9 295.9,656.8 295.3,658.6 293.8,660.3 294.0,664.3 288.6,665.1 284.2,669.4 282.5,669.3 281.2,670.2Z"/>
<path fill="rgb(130,255,0)" fill-rule="evenodd" d="M309.0,641.3 303.3,641.2 302.3,639.7 302.6,638.0 305.1,636.0 307.3,635.5 308.5,635.8 309.6,636.7 310.0,638.4 309.0,641.3ZM281.6,666.5 279.9,666.8 278.5,665.6 276.5,664.7 276.3,662.5 278.1,657.0 280.3,656.8 283.1,652.4 285.5,651.4 286.8,649.4 291.2,647.9 293.2,648.1 295.5,651.6 296.1,654.2 292.2,661.6 285.1,666.3 283.3,666.0 281.6,666.5Z"/>
<path fill="rgb(255,255,0)" fill-rule="evenodd" d="M308.1,639.8 304.2,639.9 303.9,638.4 305.5,636.7 307.7,636.4 308.5,638.0 308.1,639.8ZM281.2,665.6 278.9,664.3 278.0,663.0 278.5,659.4 283.9,654.6 284.9,652.9 286.6,651.6 287.4,650.2 288.6,649.8 290.3,650.0 291.6,648.8 292.5,648.9 294.2,651.6 295.1,654.2 293.5,658.1 291.5,660.8 286.8,664.3 281.2,665.6Z"/>
<path fill="rgb(255,170,0)" fill-rule="evenodd" d="M307.3,638.9 305.5,638.9 305.4,638.0 306.8,637.1 307.5,638.0 307.3,638.9ZM285.9,663.9 281.2,664.2 279.9,663.8 279.1,662.5 279.4,659.9 288.1,651.4 292.9,652.0 294.1,654.2 292.9,657.5 290.7,660.5 285.9,663.9Z"/>
<path fill="rgb(255,80,0)" fill-rule="evenodd" d="M285.5,663.0 281.6,662.6 280.3,661.2 280.4,659.9 287.7,652.6 289.4,652.3 292.5,652.9 293.1,654.2 290.2,659.9 285.5,663.0Z"/>
<path fill="rgb(255,0,0)" fill-rule="evenodd" d="M284.6,662.1 282.9,662.4 282.0,662.1 281.0,660.8 281.3,659.9 287.8,653.3 289.4,653.0 291.0,653.7 291.1,656.8 289.2,659.9 286.8,661.7 284.6,662.1Z"/>
</g>
<clipPath id="clip_c125"><rect x="253.1" y="623.3" width="69.6" height="70.1"/></clipPath>
<rect x="253.1" y="623.3" width="69.6" height="70.1" fill="none" stroke="#8a8a8a" stroke-width="1"/>
<line x1="298.5" y1="623.3" x2="298.5" y2="693.4" stroke="#333" stroke-width="1"/>
<line x1="253.1" y1="648" x2="322.7" y2="648" stroke="#333" stroke-width="1"/>
<g clip-path="url(#clip_c250)" filter="url(#soft)">
<path fill="rgb(0,0,255)" fill-rule="evenodd" d="M364.8,691.1 363.9,691.2 362.8,690.1 363.0,686.3 359.8,682.3 357.8,682.3 356.9,682.7 356.5,683.6 358.3,685.8 357.8,686.4 356.9,686.4 355.0,684.9 354.8,683.5 353.0,683.5 350.9,681.4 348.7,677.6 348.2,677.4 346.5,678.6 345.4,678.0 344.0,675.8 344.1,673.6 344.7,672.9 346.0,672.5 346.3,670.1 348.4,668.8 348.6,668.0 346.0,664.6 344.0,664.5 344.0,662.7 345.2,661.1 347.3,661.6 350.6,657.9 351.7,652.3 352.6,652.1 354.1,652.7 353.4,650.6 353.9,646.2 354.5,645.3 357.4,643.4 361.7,644.1 362.6,642.7 365.7,641.0 367.9,641.4 368.0,640.1 367.2,638.8 367.1,637.5 366.0,636.2 366.1,635.3 367.0,634.5 370.9,632.9 374.4,633.6 375.7,632.5 377.4,632.4 378.3,631.5 379.9,631.4 383.6,628.2 385.3,628.1 387.5,629.6 388.8,628.9 392.7,629.5 395.8,632.1 397.1,632.1 397.7,632.7 397.5,635.3 396.2,635.6 396.0,636.2 397.4,637.9 398.0,640.1 397.5,644.0 396.4,645.8 396.0,647.9 396.1,652.3 395.3,653.3 393.6,653.1 393.0,653.6 393.1,654.7 394.8,656.2 394.0,658.4 394.3,660.6 393.8,661.9 394.6,665.3 394.0,666.6 392.5,668.0 393.5,669.7 393.1,673.2 389.8,677.1 390.1,677.6 391.6,677.5 391.9,678.4 391.0,679.3 389.2,679.1 388.3,679.7 387.3,681.0 387.0,683.0 385.3,682.5 385.5,683.6 384.4,684.7 383.6,684.6 381.3,682.7 378.8,682.7 377.4,682.1 375.7,680.0 373.5,680.3 373.0,681.4 374.6,682.3 374.7,682.7 370.0,683.5 369.0,684.9 368.9,689.7 366.1,690.1 364.8,691.1ZM373.3,644.5 374.4,642.7 374.4,641.4 374.0,640.8 372.6,640.6 371.8,642.2 370.5,641.9 370.0,642.3 370.0,642.9 371.1,644.0 372.6,644.7 373.3,644.5ZM395.9,644.5 395.8,643.2 395.3,642.9 394.9,644.3 395.3,644.7 395.9,644.5ZM360.4,650.6 361.2,649.7 361.1,649.2 359.6,648.5 358.7,648.8 358.9,650.6 360.4,650.6ZM337.3,678.0 335.6,678.0 333.7,676.2 333.8,675.6 336.4,673.4 337.3,673.4 338.5,674.5 337.9,677.5 337.3,678.0ZM359.6,693.3 355.6,693.3 355.2,692.0 354.8,693.2 353.4,693.4 353.0,691.9 355.6,688.2 356.9,688.2 358.7,689.5 360.0,688.5 360.5,689.3 359.2,690.6 359.6,693.3Z"/>
<path fill="rgb(0,40,255)" fill-rule="evenodd" d="M364.8,690.7 363.9,690.8 363.0,690.0 363.4,685.8 360.1,682.3 357.8,682.1 356.2,683.2 356.1,683.6 357.9,685.4 357.8,686.0 356.9,686.1 355.3,684.9 355.2,683.2 353.0,683.1 351.1,681.4 350.1,680.1 349.8,678.4 348.7,677.1 348.0,677.1 346.5,678.3 345.6,677.9 344.3,675.6 344.5,673.6 346.0,673.0 346.5,670.3 348.6,668.8 348.8,668.0 346.4,664.5 344.3,664.3 344.2,663.2 344.7,661.9 345.6,661.3 347.3,661.9 348.7,660.6 351.3,657.1 351.1,655.3 352.1,652.6 353.0,652.6 354.3,653.6 354.5,652.7 353.6,650.6 353.9,648.0 354.7,647.1 354.9,645.3 357.8,643.5 361.7,644.4 362.5,644.0 363.0,642.7 365.7,641.6 367.8,641.8 368.3,641.5 368.3,640.1 366.4,636.2 366.5,635.3 367.5,634.5 371.7,633.2 374.0,634.2 376.1,632.8 378.0,633.6 378.4,631.8 380.1,631.6 384.0,628.3 387.0,629.8 389.2,629.3 391.4,630.4 392.7,630.0 394.0,630.5 395.8,632.6 397.1,632.4 397.4,632.7 397.2,634.9 396.2,635.3 395.7,636.2 397.2,637.9 397.8,640.1 397.1,644.4 396.2,644.7 395.8,642.7 395.3,642.6 394.7,643.6 394.9,644.7 396.1,645.8 395.5,649.7 395.9,652.3 394.9,653.2 393.1,652.9 392.8,653.6 393.0,654.9 394.4,656.2 393.7,658.4 394.0,660.5 393.4,661.9 394.1,663.2 394.0,665.0 393.0,663.6 392.3,663.6 392.3,664.4 393.6,666.2 392.0,668.0 392.0,668.8 392.7,669.6 390.5,668.4 389.6,668.8 390.1,670.1 391.4,671.0 391.8,672.3 392.7,673.2 390.5,675.5 389.2,674.4 387.0,675.9 384.4,676.0 383.8,676.7 383.6,677.5 384.8,678.4 385.1,679.3 382.5,681.9 384.4,682.6 385.0,683.6 384.9,684.1 383.6,684.2 381.8,682.6 378.8,682.4 376.9,681.4 376.5,680.6 377.0,679.9 378.8,680.3 380.1,679.2 382.7,678.7 383.5,677.5 381.4,676.4 377.0,679.4 373.5,679.9 372.5,680.6 372.2,682.3 369.7,683.6 368.8,684.5 368.3,686.7 367.4,686.5 366.8,687.1 367.1,688.0 368.7,688.1 368.7,689.3 365.7,689.9 364.8,690.7ZM374.6,644.9 373.8,644.0 374.5,642.3 374.4,641.0 374.0,640.6 372.6,640.3 371.8,641.8 370.5,641.6 369.7,642.3 370.0,643.3 371.8,644.6 373.1,645.1 374.6,644.9ZM359.2,651.0 360.9,650.4 361.6,649.7 361.5,649.2 359.6,648.2 358.7,648.4 358.6,650.6 359.2,651.0ZM337.7,676.1 336.2,674.9 336.1,674.0 336.8,673.6 338.2,674.5 337.7,676.1ZM388.3,678.9 387.2,678.4 387.9,676.5 389.2,678.0 388.3,678.9ZM359.1,693.2 357.0,693.2 356.9,691.3 354.8,690.5 354.7,689.7 355.6,688.5 356.8,688.4 358.2,689.7 359.2,691.9 359.1,693.2Z"/>
<path fill="rgb(0,110,255)" fill-rule="evenodd" d="M362.6,684.5 360.0,682.0 357.4,682.1 356.1,682.9 354.8,682.5 353.0,682.9 350.8,681.0 350.3,680.1 350.4,678.8 349.1,677.0 347.8,676.6 346.9,678.0 346.0,678.0 345.4,676.7 345.2,674.5 346.7,672.3 346.8,670.1 349.0,668.4 348.9,667.5 347.0,664.9 346.6,663.2 345.8,662.3 346.0,661.9 346.9,662.5 348.2,661.7 350.0,662.2 350.7,661.4 350.8,660.1 349.9,659.3 351.8,656.6 351.4,655.3 352.1,653.2 353.0,653.0 354.3,654.0 354.9,653.2 353.9,650.1 354.8,648.6 356.4,647.1 356.3,646.2 355.4,645.3 356.9,644.0 359.1,644.0 359.6,644.9 358.6,646.2 359.1,646.6 360.5,644.9 363.5,644.0 363.8,642.7 366.1,641.8 368.3,642.3 368.6,640.1 367.5,637.5 367.9,635.3 368.2,634.5 370.0,633.8 370.8,634.0 370.8,634.5 369.8,636.6 369.8,637.9 370.9,640.0 371.9,640.1 371.3,641.2 369.6,641.9 369.4,642.7 370.5,643.9 372.6,645.2 374.4,645.2 374.9,644.9 374.4,643.6 374.6,641.0 371.9,639.7 373.8,637.5 373.3,635.8 374.8,635.3 376.1,633.8 378.3,634.0 379.1,633.2 378.7,632.3 380.5,631.4 382.2,631.6 383.6,628.7 384.9,628.8 387.0,630.0 389.2,629.7 390.6,631.4 394.5,631.0 395.8,633.5 396.6,632.7 397.2,633.2 397.1,634.6 395.8,635.3 395.6,636.2 397.3,638.4 397.6,639.7 397.1,643.6 396.6,644.3 396.0,642.7 395.3,642.3 394.7,643.2 394.6,644.5 395.9,645.8 395.8,647.1 393.9,650.6 392.5,651.9 392.7,655.1 392.3,656.2 388.0,658.8 387.3,659.7 387.5,661.0 390.3,662.7 389.1,665.3 387.8,666.2 387.5,669.3 386.6,669.4 385.3,667.5 384.4,667.6 383.6,668.8 383.7,670.6 382.7,673.0 380.9,674.0 379.6,676.0 376.6,678.0 374.4,677.2 373.5,677.4 371.6,679.3 371.0,682.3 370.6,682.7 367.8,683.0 366.5,682.5 362.6,684.5ZM359.8,651.0 361.7,649.8 363.0,649.6 363.1,648.8 361.7,649.1 359.6,647.9 358.7,648.1 358.3,648.8 358.3,651.0 359.8,651.0ZM357.9,651.0 357.8,650.1 356.9,650.0 356.9,651.1 357.9,651.0ZM390.5,662.5 390.8,660.1 391.8,659.6 392.1,661.0 390.5,662.5ZM356.5,685.4 355.6,684.9 355.6,684.3 356.7,684.5 357.0,684.9 356.5,685.4ZM357.8,689.9 355.2,689.3 356.5,688.5 357.8,689.9Z"/>
<path fill="rgb(0,180,255)" fill-rule="evenodd" d="M362.2,683.7 359.8,681.4 361.9,678.4 361.3,677.2 359.6,678.1 357.7,678.4 358.5,679.7 358.7,681.9 357.4,681.8 355.2,680.6 352.6,681.9 351.3,681.1 350.8,677.5 351.3,677.0 353.0,676.9 352.9,675.8 352.1,675.1 350.4,675.8 349.1,675.4 347.3,675.6 346.8,674.5 347.2,673.2 348.2,672.1 349.7,672.7 349.5,672.0 348.7,672.2 348.2,671.8 347.8,670.6 350.0,668.4 351.7,667.9 352.2,666.2 351.7,665.6 350.8,665.5 349.5,666.9 349.1,666.8 347.4,664.9 348.7,663.5 350.8,662.6 352.6,659.0 354.3,658.9 355.0,658.4 357.0,654.0 359.1,653.2 359.5,651.4 363.5,649.3 363.0,648.6 361.7,648.9 360.8,648.4 360.7,647.1 361.7,645.6 364.4,645.3 365.6,642.3 366.5,642.3 367.4,643.9 369.2,643.2 372.6,645.4 374.4,645.4 375.0,644.9 374.6,643.6 374.9,641.0 373.7,640.1 373.8,639.7 376.1,638.7 376.9,636.2 378.3,635.7 380.1,633.7 383.1,632.3 384.9,630.6 386.6,630.2 388.3,630.3 389.7,631.8 390.5,632.1 394.5,631.4 395.6,634.5 395.5,636.6 397.3,638.8 397.1,642.4 396.6,643.4 395.8,642.2 394.9,642.5 394.4,644.0 394.9,645.3 393.2,647.9 392.7,649.8 390.2,652.7 390.5,655.8 388.3,656.9 386.8,658.4 385.3,661.5 382.6,662.3 385.1,664.0 385.2,665.3 383.1,666.4 382.2,665.6 381.4,665.6 379.8,666.6 379.9,667.1 382.2,667.1 382.5,667.5 382.1,671.4 376.9,673.2 376.5,673.6 376.7,675.8 376.1,676.5 374.0,675.8 372.6,676.2 370.1,678.4 368.7,680.8 364.2,680.6 363.6,682.7 362.2,683.7ZM352.1,658.4 351.6,657.9 352.4,656.6 351.7,654.8 354.3,654.5 352.1,658.4ZM352.7,672.7 353.0,671.0 352.6,670.3 351.7,670.2 350.8,671.0 350.7,671.9 352.1,673.1 352.7,672.7Z"/>
<path fill="rgb(0,240,255)" fill-rule="evenodd" d="M368.7,678.5 367.8,678.6 366.5,677.3 363.5,677.4 361.7,676.0 358.2,677.1 354.3,675.9 353.7,674.5 354.1,672.3 353.9,670.6 352.9,668.4 353.1,665.8 351.6,663.6 352.5,661.0 356.1,659.1 356.9,656.6 360.1,654.0 360.8,651.4 362.0,650.1 363.0,650.0 363.7,649.2 363.5,648.6 361.9,648.4 362.2,647.2 364.8,648.1 366.5,647.4 367.9,645.8 369.6,644.8 370.9,644.7 373.1,645.7 374.8,645.3 374.8,641.9 376.6,642.6 377.3,642.3 378.7,638.8 378.7,637.1 380.5,634.5 384.9,632.3 387.5,631.6 390.1,632.5 394.0,633.0 394.9,633.6 395.6,637.1 397.1,638.5 397.2,640.5 396.6,642.6 395.3,641.8 394.0,644.4 392.3,644.4 391.4,644.8 390.4,649.7 389.9,650.6 388.8,650.6 387.0,649.5 385.4,650.1 385.4,651.4 386.7,654.0 384.9,654.9 383.4,656.6 382.6,659.7 380.6,661.9 380.3,664.5 377.4,666.1 377.6,668.8 376.6,669.7 374.8,674.1 369.6,674.9 369.5,677.1 368.7,678.5Z"/>
<path fill="rgb(0,255,170)" fill-rule="evenodd" d="M364.8,676.2 363.6,676.2 361.7,675.0 358.2,676.2 357.5,675.8 357.4,673.8 355.2,674.0 355.2,672.7 356.1,670.6 353.9,668.0 354.3,665.8 355.6,664.5 354.6,661.0 355.6,660.4 357.4,660.6 357.6,659.7 357.1,657.9 357.4,657.1 360.5,655.3 361.7,652.3 363.9,649.5 365.7,650.0 368.7,647.6 370.9,647.9 371.7,647.1 371.9,645.8 375.0,645.3 374.8,642.9 377.0,643.9 378.9,643.2 379.7,641.9 379.4,640.1 380.1,637.1 380.9,635.9 382.7,635.5 385.3,633.4 386.6,632.9 392.7,633.2 394.9,635.0 395.5,637.1 396.7,637.9 397.1,640.5 396.6,642.0 394.9,641.8 394.0,643.6 391.8,643.1 391.0,643.6 388.9,646.2 388.6,648.4 384.4,648.7 383.6,649.2 383.3,650.6 384.2,652.7 383.1,653.9 382.7,655.8 381.3,657.9 380.9,660.1 379.4,661.4 379.2,663.6 377.0,664.9 376.2,668.4 374.0,672.5 372.6,672.7 371.8,671.9 370.5,672.7 367.4,672.5 365.5,674.0 365.8,675.3 364.8,676.2ZM385.9,646.2 386.4,645.8 385.7,644.5 385.2,645.8 385.9,646.2Z"/>
<path fill="rgb(0,255,60)" fill-rule="evenodd" d="M362.6,674.1 360.9,673.9 360.0,671.9 357.8,670.8 356.5,668.8 354.8,668.0 355.2,666.7 356.5,666.2 357.5,663.2 358.8,661.9 357.8,657.5 359.1,656.8 360.4,657.5 360.9,657.3 363.2,652.3 363.9,651.6 366.5,651.4 369.6,649.0 371.3,648.7 373.1,647.5 373.1,646.2 374.8,645.6 375.7,644.5 377.0,644.8 379.6,643.7 380.6,642.3 380.6,639.7 381.4,637.7 382.7,637.7 383.6,636.2 386.6,633.7 388.8,633.2 391.8,633.5 394.9,635.7 395.3,637.1 396.3,637.9 395.7,641.4 394.9,641.5 394.0,642.8 391.4,642.4 388.3,645.0 385.3,642.8 383.6,642.7 382.9,643.2 383.3,644.9 381.4,647.1 382.5,651.9 381.6,655.3 379.7,659.7 378.1,661.0 378.0,662.7 376.3,664.5 374.4,670.3 373.5,670.8 372.2,669.6 370.5,669.7 369.2,671.3 367.4,671.5 362.6,674.1Z"/>
<path fill="rgb(0,255,0)" fill-rule="evenodd" d="M388.8,643.8 387.9,643.7 384.9,641.7 381.8,641.9 381.7,640.5 384.5,636.2 387.0,634.1 389.2,633.6 391.3,634.0 392.3,635.3 394.9,636.4 395.6,637.5 394.9,640.5 394.0,641.8 391.4,641.8 388.8,643.8ZM362.2,672.9 358.7,670.4 357.9,669.3 358.3,664.9 359.7,662.3 359.3,659.3 361.0,658.4 363.3,655.8 364.4,652.8 366.5,652.9 369.2,650.7 371.3,650.0 373.8,648.4 374.8,647.2 376.6,647.0 377.9,645.9 378.3,646.1 378.8,647.1 380.9,648.8 380.3,652.3 380.6,654.5 379.1,658.8 377.5,660.6 377.1,662.3 375.8,663.6 375.3,665.4 372.8,666.6 371.9,668.4 369.8,669.3 368.7,670.5 367.0,670.8 365.2,672.2 363.5,672.1 362.2,672.9Z"/>
<path fill="rgb(130,255,0)" fill-rule="evenodd" d="M388.8,641.9 387.9,642.2 387.0,641.9 384.4,639.8 384.3,639.2 385.9,636.2 387.5,634.8 388.8,634.5 390.0,634.9 390.5,636.3 392.7,637.2 393.3,637.9 392.6,640.1 388.8,641.9ZM364.8,670.8 360.4,670.1 359.4,669.3 359.7,664.9 360.7,662.3 360.7,660.1 362.6,657.7 366.5,655.1 369.2,652.1 372.2,651.3 374.4,649.9 378.3,651.9 379.1,654.5 378.1,658.4 375.8,661.9 374.3,663.2 374.1,664.9 371.8,666.0 367.8,669.2 366.5,669.4 364.8,670.8Z"/>
<path fill="rgb(255,255,0)" fill-rule="evenodd" d="M390.1,640.6 387.9,640.9 386.5,639.7 386.7,636.6 387.5,635.7 388.7,635.8 389.7,637.1 391.6,638.4 391.7,639.7 390.1,640.6ZM364.8,669.4 362.6,669.1 360.9,668.0 360.4,664.9 362.6,658.8 363.5,657.8 367.0,655.9 368.7,653.4 374.8,651.3 378.0,654.5 377.9,655.7 376.6,656.6 376.9,658.8 373.5,662.7 373.0,664.5 364.8,669.4Z"/>
<path fill="rgb(255,170,0)" fill-rule="evenodd" d="M364.8,668.4 362.8,668.0 361.4,665.3 362.8,661.9 363.5,658.8 367.4,656.5 369.2,654.2 370.5,654.1 371.8,652.9 374.4,653.0 375.6,654.5 374.8,656.2 375.6,658.4 374.6,659.3 374.0,661.0 371.5,664.5 364.8,668.4Z"/>
<path fill="rgb(255,80,0)" fill-rule="evenodd" d="M364.8,667.3 363.7,667.1 362.7,664.9 364.1,661.9 364.4,659.3 367.4,657.2 369.2,655.3 370.9,655.0 372.2,653.6 373.5,653.8 374.0,654.5 373.8,657.5 373.1,660.7 371.8,662.3 370.0,663.4 369.2,665.1 366.3,665.8 364.8,667.3Z"/>
<path fill="rgb(255,0,0)" fill-rule="evenodd" d="M365.2,665.4 364.4,665.5 363.9,664.5 365.4,659.3 369.2,656.2 372.2,655.4 372.9,657.9 372.4,660.6 369.5,662.7 368.3,664.7 365.2,665.4Z"/>
</g>
<clipPath id="clip_c250"><rect x="333.6" y="623.8" width="69.8" height="69.6"/></clipPath>
<rect x="333.6" y="623.8" width="69.8" height="69.6" fill="none" stroke="#8a8a8a" stroke-width="1"/>
<line x1="382.7" y1="623.8" x2="382.7" y2="693.4" stroke="#333" stroke-width="1"/>
<line x1="333.6" y1="646.1" x2="403.4" y2="646.1" stroke="#333" stroke-width="1"/>
<g clip-path="url(#clip_c500)" filter="url(#soft)">
<path fill="rgb(0,0,255)" fill-rule="evenodd" d="M447.0,690.4 446.1,689.8 446.1,685.9 447.1,685.0 446.8,682.8 446.2,682.3 443.1,682.2 440.0,685.0 437.4,685.1 435.5,684.1 435.4,681.9 432.6,681.2 430.0,678.4 429.1,678.2 428.3,679.3 430.4,681.5 430.6,683.2 430.0,684.3 428.2,684.4 427.8,683.2 428.3,681.1 427.0,679.7 427.1,678.4 424.6,676.2 424.8,672.3 424.4,671.0 423.4,669.7 421.4,669.2 421.1,667.9 425.8,664.9 426.8,660.1 428.8,657.4 430.4,656.8 432.2,657.9 433.0,657.6 433.7,654.8 434.5,653.5 436.4,650.9 438.0,650.0 438.3,648.2 436.9,645.2 436.4,641.2 436.8,638.2 437.4,637.4 438.3,637.5 439.6,638.4 442.2,638.2 444.9,636.0 445.1,634.7 445.7,634.1 448.3,633.5 451.8,633.4 453.6,631.5 454.5,631.4 455.8,632.0 457.5,630.9 459.8,630.7 462.3,629.4 464.1,630.6 465.4,629.4 467.2,630.0 468.0,629.4 468.5,628.1 470.2,627.9 473.7,630.1 474.5,631.6 475.9,632.1 477.2,634.7 476.8,635.6 474.6,637.7 474.3,639.1 474.2,642.5 475.3,643.4 475.6,644.7 475.4,647.8 475.0,648.4 473.3,648.7 472.8,649.6 474.3,653.5 473.8,655.7 474.8,657.0 472.8,659.6 473.0,664.0 474.4,665.7 474.7,667.1 474.2,668.8 472.4,669.1 472.0,669.6 471.1,671.9 470.7,675.8 471.8,677.1 471.8,679.3 471.1,680.0 470.7,679.9 470.0,678.9 469.8,677.2 469.3,677.7 467.5,684.6 467.6,685.1 468.5,685.4 468.5,686.3 464.1,689.9 463.2,690.1 462.3,689.8 462.4,688.1 461.3,686.3 458.8,685.5 457.4,683.7 455.3,683.3 451.8,681.3 450.2,681.5 450.8,683.7 449.5,685.0 448.9,688.1 447.0,690.4ZM443.5,645.6 444.3,644.3 443.5,643.4 442.7,644.0 442.4,645.2 442.7,645.7 443.5,645.6ZM431.7,651.3 431.0,651.3 431.1,650.0 431.5,647.8 432.2,647.1 432.6,647.4 433.5,650.4 431.7,651.3ZM428.2,655.7 427.7,655.2 427.5,653.1 424.0,650.9 425.2,649.3 426.0,649.2 427.2,650.0 429.1,653.1 429.2,654.4 428.2,655.7ZM415.1,665.0 414.0,664.9 414.0,660.5 414.2,657.9 415.5,657.7 416.8,658.3 417.7,660.5 416.3,662.2 416.2,664.0 415.1,665.0ZM439.6,694.4 434.5,694.2 434.5,692.0 432.7,690.2 433.0,689.4 433.9,689.4 435.2,690.2 438.3,690.3 439.7,692.9 439.9,694.2 439.6,694.4ZM459.3,694.3 456.6,694.2 458.0,692.5 458.8,692.2 459.7,693.3 459.3,694.3Z"/>
<path fill="rgb(0,40,255)" fill-rule="evenodd" d="M464.5,689.0 463.7,689.0 463.2,687.2 462.3,686.7 461.9,684.5 461.0,684.5 460.1,685.4 459.3,685.5 457.5,683.4 455.3,682.9 454.5,681.9 453.2,681.9 451.4,680.8 449.2,681.2 448.2,681.9 450.1,682.3 450.5,682.8 450.2,684.1 449.2,684.5 447.5,684.3 446.7,682.4 444.4,681.8 442.7,682.2 440.0,684.8 436.5,684.6 435.6,683.7 435.9,682.4 435.2,681.6 432.2,680.7 430.0,678.2 429.1,678.0 427.8,678.9 427.3,678.6 425.2,676.2 424.9,671.9 424.1,668.8 423.4,668.1 422.5,669.4 421.5,668.8 421.8,667.9 423.0,667.6 424.7,666.1 426.5,665.5 426.7,661.4 427.3,659.6 429.0,658.7 428.9,657.9 430.0,657.2 430.8,657.2 432.2,658.2 433.0,657.8 433.6,657.0 433.7,655.2 436.0,651.7 437.0,650.7 438.3,650.2 438.5,648.2 436.9,642.1 437.0,639.7 439.2,640.5 439.4,639.1 440.1,638.6 443.1,638.3 445.6,636.0 445.6,634.7 446.2,634.2 448.3,633.7 451.4,633.8 452.8,633.4 453.6,631.9 455.8,632.4 457.5,631.2 460.2,630.9 462.3,629.7 464.1,630.8 465.4,629.8 466.7,630.3 468.0,629.7 468.9,628.3 469.8,628.1 473.5,630.3 474.2,631.7 475.9,632.3 477.0,634.2 476.6,635.6 474.1,638.6 474.1,642.6 475.4,644.3 475.2,647.8 474.6,648.4 473.0,648.7 472.6,649.6 474.0,653.5 473.5,655.7 474.4,657.0 472.6,659.6 472.7,664.0 474.4,666.2 474.4,667.5 474.2,668.5 472.4,668.9 471.8,669.7 471.0,671.4 470.4,675.4 469.3,676.9 468.5,680.6 467.2,681.3 466.4,682.4 468.0,686.3 464.5,689.0ZM443.8,645.6 444.7,644.3 444.4,643.4 443.5,643.2 442.5,643.9 442.1,645.2 442.7,646.0 443.8,645.6ZM432.2,651.0 431.4,650.4 432.2,647.7 433.2,650.0 432.2,651.0ZM426.0,651.3 425.2,650.0 425.6,649.8 426.5,650.0 426.9,650.9 426.0,651.3ZM428.2,655.0 428.0,653.9 428.7,653.3 428.9,654.4 428.2,655.0ZM414.2,664.9 414.2,662.4 415.5,662.3 416.0,663.6 414.2,664.9ZM427.4,671.4 427.3,669.8 426.5,669.6 426.2,670.6 427.4,671.4ZM471.5,679.3 470.7,679.6 470.2,678.9 470.1,677.6 470.7,676.8 471.7,677.6 471.5,679.3ZM429.5,684.2 428.7,684.3 428.0,683.7 428.0,682.8 429.1,681.1 430.0,681.4 430.3,682.4 430.2,683.7 429.5,684.2ZM447.0,689.9 446.4,689.4 446.6,686.3 447.9,688.5 447.0,689.9ZM439.2,694.3 437.4,694.2 436.5,693.1 435.2,693.0 434.8,690.7 437.0,690.3 438.1,690.7 439.4,692.9 439.5,694.2 439.2,694.3ZM458.4,694.2 457.2,694.2 458.1,692.9 458.8,692.8 458.4,694.2Z"/>
<path fill="rgb(0,110,255)" fill-rule="evenodd" d="M440.0,684.7 437.0,684.6 437.0,683.2 436.0,681.9 435.2,681.3 432.5,680.6 430.8,678.1 429.1,677.7 427.8,678.3 426.0,676.7 426.6,674.9 425.2,673.5 424.8,669.7 427.2,665.3 427.5,663.6 429.4,662.7 429.1,661.4 428.2,660.6 427.3,660.7 427.3,660.0 427.8,659.5 430.2,659.2 430.6,658.7 429.9,658.3 430.8,657.6 431.2,658.3 432.2,658.4 433.6,657.4 433.8,655.2 434.3,654.4 436.5,651.3 438.4,650.4 438.4,646.9 439.3,645.6 439.3,644.3 441.8,644.1 442.0,645.6 442.7,646.2 444.8,645.2 444.8,643.4 444.0,642.7 442.7,643.3 442.5,642.1 443.1,641.7 444.8,641.8 446.3,639.1 448.7,637.7 449.0,636.0 450.3,634.7 453.6,633.6 455.3,633.7 457.1,632.0 459.4,631.6 461.5,630.3 462.8,630.1 464.1,631.0 467.2,630.5 468.3,629.9 469.3,628.5 471.1,630.6 473.3,630.6 474.2,631.9 475.9,632.5 476.8,634.7 474.1,638.6 473.9,642.6 475.3,644.3 475.1,647.8 472.8,648.5 472.5,649.6 473.7,653.5 473.2,656.1 474.0,657.4 472.8,658.1 472.4,659.2 472.3,664.4 474.2,666.1 474.2,667.9 472.4,668.5 470.8,671.0 470.0,673.6 470.2,674.9 469.3,676.2 468.5,679.6 465.0,679.8 463.7,678.7 462.6,678.4 462.3,678.9 462.7,679.7 464.7,681.1 464.1,683.1 463.7,683.5 461.5,682.9 459.3,684.3 458.4,684.1 458.3,683.2 461.4,675.4 460.9,674.5 459.7,674.1 456.7,676.4 455.3,678.0 455.1,679.3 456.2,680.6 455.5,682.4 454.5,681.4 453.3,681.5 453.3,680.2 450.1,679.4 449.2,679.8 447.5,682.0 443.1,681.8 440.0,684.7ZM432.6,650.4 431.7,650.5 431.7,649.5 432.5,649.6 432.6,650.4ZM427.4,671.9 427.7,669.7 426.9,669.2 426.0,669.4 425.8,670.6 427.4,671.9ZM470.7,679.2 470.2,678.0 470.7,677.3 471.2,678.0 470.7,679.2ZM428.7,684.1 428.2,683.7 428.2,682.8 429.5,681.7 430.0,683.1 428.7,684.1ZM466.7,686.3 464.6,685.4 464.1,684.4 466.7,684.9 467.1,685.9 466.7,686.3Z"/>
<path fill="rgb(0,180,255)" fill-rule="evenodd" d="M439.2,684.6 438.8,684.1 439.4,682.8 439.2,682.0 437.3,681.1 437.2,679.7 433.0,677.6 432.2,674.5 430.4,672.4 429.5,672.5 428.2,674.2 426.6,672.7 426.5,672.3 429.1,671.3 429.7,670.1 429.5,668.6 427.9,667.1 428.5,665.7 430.4,664.3 431.1,663.1 431.1,662.2 429.8,660.1 430.0,659.6 433.0,658.8 433.9,657.4 433.9,655.4 434.8,654.1 438.7,652.7 438.4,650.9 438.9,650.0 438.9,647.8 440.5,646.3 441.8,645.8 443.1,646.4 444.6,645.6 446.2,645.7 446.6,645.2 446.6,642.1 447.0,641.3 449.2,641.0 451.0,640.1 452.7,640.4 453.9,639.9 454.6,637.3 455.9,636.0 457.5,633.0 460.2,633.5 462.0,632.9 462.9,632.5 463.2,631.0 467.2,631.0 471.5,632.0 473.3,631.8 475.5,632.5 476.0,633.4 475.6,636.0 473.9,639.1 473.9,643.0 475.1,644.3 475.0,645.1 473.8,646.5 474.7,647.8 473.3,648.0 472.6,648.7 472.6,651.3 471.4,653.1 472.7,656.1 471.5,660.1 471.6,662.2 470.1,664.4 471.4,666.6 469.9,667.9 469.6,669.7 468.2,671.0 468.7,672.3 466.7,673.3 465.4,674.9 463.2,676.4 462.5,674.1 460.7,672.7 460.5,671.4 459.3,670.9 458.7,671.4 458.4,673.6 457.5,674.7 455.8,675.1 454.5,676.1 452.3,675.9 450.5,677.6 448.3,677.2 443.1,678.3 442.8,679.3 444.4,680.2 444.4,680.6 442.2,682.0 440.5,684.0 439.2,684.6ZM468.0,677.6 466.5,677.1 466.6,675.8 467.6,675.5 468.3,675.8 468.6,676.7 468.0,677.6Z"/>
<path fill="rgb(0,240,255)" fill-rule="evenodd" d="M438.7,678.1 436.5,678.3 433.9,676.5 432.7,672.7 430.9,670.1 430.3,667.1 431.7,665.3 434.0,663.6 433.5,660.9 435.1,656.1 437.4,656.5 439.7,653.5 439.9,652.6 439.2,649.0 441.3,647.1 443.5,647.8 444.8,647.0 447.0,647.6 449.0,644.3 448.5,643.4 448.8,642.8 451.0,642.9 452.1,644.3 452.9,644.3 455.8,641.2 455.9,637.3 458.0,634.5 459.7,634.8 464.1,633.0 465.4,631.8 474.3,632.9 475.1,636.4 473.9,638.6 473.6,643.4 473.7,643.8 474.6,643.6 475.0,644.3 472.9,645.6 472.0,646.9 472.5,648.2 472.1,650.9 470.5,653.5 471.5,656.1 471.5,657.9 470.5,660.1 470.3,662.2 469.1,664.9 469.1,667.1 468.0,668.8 465.7,670.1 466.2,671.9 465.4,673.2 464.5,673.7 464.1,673.5 461.9,669.1 460.6,669.1 459.5,667.5 458.0,666.9 456.3,669.2 457.3,671.0 456.7,672.6 455.3,672.7 454.5,671.7 453.6,671.7 452.9,672.3 452.3,674.1 449.7,674.1 447.0,676.8 443.5,677.0 438.7,678.1ZM433.6,667.5 434.1,666.2 433.9,665.3 433.5,665.2 432.6,667.5 433.0,667.8 433.6,667.5Z"/>
<path fill="rgb(0,255,170)" fill-rule="evenodd" d="M439.6,676.7 436.5,676.9 435.2,675.4 435.4,669.2 436.3,667.1 435.9,665.7 436.3,663.1 435.2,660.2 435.7,658.5 438.3,658.0 439.1,655.2 443.0,651.7 444.4,649.1 445.3,648.9 446.6,649.7 447.5,649.7 449.7,646.1 450.5,645.5 453.2,645.2 455.3,643.0 457.5,641.7 457.2,637.7 458.0,636.4 461.9,634.3 466.3,632.8 472.0,633.9 474.6,636.6 473.8,638.6 473.4,643.9 474.0,644.3 472.3,645.2 471.1,646.9 471.7,649.6 469.9,653.1 470.2,657.4 469.5,659.2 469.5,662.2 468.2,664.9 468.0,667.4 466.7,668.1 465.0,667.9 461.0,665.2 458.0,665.1 457.1,665.6 454.6,670.1 452.3,671.4 451.4,672.9 449.2,673.4 445.7,676.0 444.7,675.8 443.9,674.1 442.7,673.9 441.9,674.5 441.4,676.2 439.6,676.7Z"/>
<path fill="rgb(0,255,60)" fill-rule="evenodd" d="M439.6,675.9 437.8,676.0 436.8,675.4 437.4,673.2 436.5,671.9 436.3,669.7 437.3,667.5 436.8,665.3 437.7,660.1 439.2,658.1 440.0,655.2 444.4,652.3 444.8,650.7 448.1,650.4 449.8,647.4 453.2,645.9 456.1,643.4 458.0,642.5 458.4,641.7 458.5,637.7 459.0,636.9 462.3,634.8 466.3,633.4 468.0,633.5 471.5,634.6 474.2,637.1 473.8,640.8 473.3,643.4 471.4,645.2 470.5,646.9 470.7,649.6 469.5,652.6 469.2,656.1 468.5,657.9 468.7,661.8 467.6,664.9 467.6,666.7 466.7,667.2 465.8,666.9 462.4,664.0 461.0,661.6 460.2,661.5 457.0,664.4 453.6,669.7 451.8,670.7 451.0,672.0 446.2,673.4 443.1,672.9 439.6,675.9Z"/>
<path fill="rgb(0,255,0)" fill-rule="evenodd" d="M439.6,674.1 438.9,674.1 438.1,671.9 439.6,670.6 439.9,669.7 438.5,667.5 437.7,664.4 438.1,662.7 439.8,660.5 439.7,658.7 440.9,655.7 443.5,653.8 445.7,653.2 449.2,650.7 450.4,648.2 452.3,647.9 453.3,646.5 454.9,645.4 456.2,645.4 458.4,647.8 460.5,646.9 460.4,646.1 458.1,645.2 457.6,644.3 458.9,642.6 459.7,637.7 462.3,635.5 465.4,634.1 467.2,633.9 470.3,634.7 472.6,636.4 473.7,637.8 473.3,643.1 471.1,644.5 469.3,647.9 468.0,647.7 467.8,648.2 469.1,651.3 468.6,655.7 467.4,657.4 467.5,663.1 466.7,665.1 465.8,665.2 463.7,664.0 463.2,663.1 463.6,661.4 463.2,660.7 461.0,660.2 458.1,660.9 455.3,666.2 452.3,667.8 450.1,671.0 446.6,671.5 445.4,670.6 443.5,670.4 442.7,671.0 441.9,672.7 439.6,674.1Z"/>
<path fill="rgb(130,255,0)" fill-rule="evenodd" d="M447.0,669.3 444.4,669.3 442.7,668.4 440.0,666.0 439.0,664.4 439.4,663.1 442.0,660.1 442.8,657.0 445.3,655.5 446.4,653.9 451.4,649.9 454.0,649.2 457.1,649.5 461.5,652.6 462.9,650.9 462.9,649.6 461.9,649.4 460.2,651.0 459.5,650.4 459.5,649.6 461.9,648.0 463.2,645.6 462.6,644.3 460.8,643.4 460.2,642.6 460.3,639.9 460.9,638.2 462.0,636.9 465.4,634.8 467.6,634.7 469.8,635.5 472.7,638.6 473.0,641.2 472.7,642.1 470.2,643.8 469.0,646.1 467.2,646.4 466.6,646.9 466.6,650.4 466.0,652.2 466.6,655.2 465.4,656.2 464.1,656.3 461.5,653.9 459.7,654.4 459.6,656.6 457.1,658.0 455.8,662.7 453.3,665.3 449.2,667.0 447.9,668.9 447.0,669.3ZM465.8,663.6 464.9,663.1 465.4,662.3 466.0,662.7 465.8,663.6Z"/>
<path fill="rgb(255,255,0)" fill-rule="evenodd" d="M468.5,644.9 465.0,644.6 461.2,641.7 461.3,639.5 461.9,637.7 465.8,635.3 467.6,635.2 469.3,635.9 472.2,639.5 471.8,641.7 469.8,643.0 468.5,644.9ZM447.0,668.0 446.2,668.1 442.7,666.7 441.0,664.9 441.2,663.6 443.3,660.1 444.1,657.4 446.2,656.1 447.4,654.4 451.4,651.3 454.5,650.1 456.7,650.4 458.1,652.6 457.5,653.9 457.9,655.7 456.3,657.9 454.9,662.0 452.3,664.5 448.8,666.3 447.0,668.0ZM464.1,654.3 463.2,653.1 463.7,652.5 464.5,653.9 464.1,654.3Z"/>
<path fill="rgb(255,170,0)" fill-rule="evenodd" d="M467.6,643.5 466.3,643.9 465.0,643.6 462.5,641.2 462.1,640.4 462.3,638.6 462.8,637.7 466.3,635.8 468.9,636.3 471.5,639.9 470.8,641.7 467.6,643.5ZM447.9,665.9 446.6,666.0 443.7,665.3 444.1,664.0 443.9,661.8 445.1,657.9 450.5,653.0 453.2,652.6 454.9,651.7 456.2,653.5 456.8,655.2 454.9,659.6 452.3,662.9 447.9,665.9Z"/>
<path fill="rgb(255,80,0)" fill-rule="evenodd" d="M466.7,643.0 465.8,643.1 465.0,642.5 463.3,639.9 463.2,638.6 465.0,636.9 467.6,636.4 468.9,637.2 470.5,639.5 470.6,640.4 470.0,641.2 466.7,643.0ZM447.9,664.9 446.2,664.7 445.1,663.6 444.9,660.9 445.9,658.3 448.8,655.2 450.5,654.0 454.9,654.3 455.2,655.2 453.6,657.0 454.2,658.7 454.0,659.6 451.8,662.1 447.9,664.9Z"/>
<path fill="rgb(255,0,0)" fill-rule="evenodd" d="M467.2,642.2 466.3,642.4 465.4,641.9 463.9,639.1 464.5,637.7 467.2,636.9 468.5,637.4 469.9,639.9 469.3,640.8 467.2,642.2ZM447.9,664.2 446.6,664.1 445.7,663.3 445.4,661.4 445.8,659.6 449.5,655.2 451.0,654.5 452.7,654.6 453.3,655.2 452.7,657.4 453.3,658.7 453.1,659.6 451.4,661.7 447.9,664.2Z"/>
</g>
<clipPath id="clip_c500"><rect x="414" y="624.4" width="70" height="70"/></clipPath>
<rect x="414" y="624.4" width="70" height="70" fill="none" stroke="#8a8a8a" stroke-width="1"/>
<line x1="459.5" y1="624.4" x2="459.5" y2="694.4" stroke="#333" stroke-width="1"/>
<line x1="414" y1="650.3" x2="484" y2="650.3" stroke="#333" stroke-width="1"/>
<g clip-path="url(#clip_c1000)" filter="url(#soft)">
<path fill="rgb(0,0,255)" fill-rule="evenodd" d="M545.3,694.9 541.8,695.0 540.5,694.4 538.8,694.8 538.1,692.2 538.5,688.2 538.9,687.3 540.7,686.9 539.5,685.2 540.8,683.8 540.5,682.9 537.9,680.3 537.4,678.6 536.8,678.6 536.5,679.9 532.2,680.2 530.0,678.4 527.8,678.4 524.7,680.6 523.9,682.0 522.5,682.2 520.8,681.5 518.9,682.5 518.2,683.8 517.7,683.8 516.5,681.7 515.1,681.1 513.8,681.4 513.7,683.0 510.7,683.2 509.8,682.8 509.5,682.1 510.5,679.9 509.9,678.6 509.4,678.3 507.6,679.4 507.1,679.0 507.2,677.7 508.4,676.8 505.8,673.8 505.5,672.0 505.7,670.7 507.5,669.4 507.9,668.5 506.4,665.9 506.9,663.7 512.0,659.6 514.2,659.3 513.8,660.7 515.1,660.7 515.3,659.8 514.6,658.9 515.8,655.4 518.8,653.7 518.2,651.5 518.6,650.2 519.5,649.7 521.2,649.8 523.7,648.0 523.0,646.1 521.2,646.6 520.5,645.8 520.6,644.5 521.6,643.6 521.2,642.8 520.4,642.5 518.8,642.7 517.4,641.0 517.7,640.2 519.1,639.7 519.2,637.5 519.9,636.2 523.0,634.5 524.7,635.6 526.1,634.0 527.4,633.5 528.7,633.4 530.0,633.9 531.3,633.0 532.6,633.2 534.8,632.6 537.4,633.2 538.3,632.4 541.2,631.8 548.4,628.8 550.9,629.6 550.7,631.3 553.2,632.4 554.2,634.8 555.5,635.7 556.1,637.9 554.3,641.0 555.7,642.3 554.9,644.0 555.3,645.8 554.5,646.6 552.3,646.5 551.8,647.5 551.8,649.3 552.3,650.0 553.7,649.7 554.0,650.2 553.1,652.8 553.9,655.4 553.2,656.2 551.5,656.5 550.6,657.6 550.6,658.9 552.1,661.1 552.5,663.7 551.0,665.0 551.4,667.2 550.5,669.0 550.9,671.6 550.1,673.3 550.6,674.7 550.5,678.2 549.7,679.2 548.4,679.0 547.8,679.5 547.6,683.8 546.6,685.8 546.5,688.2 545.2,691.3 545.7,694.8 545.3,694.9ZM513.3,656.0 511.6,655.9 510.8,655.4 510.5,654.1 510.8,653.2 512.0,652.9 513.4,653.2 513.8,655.0 513.3,656.0ZM496.7,671.8 495.6,671.6 495.8,665.8 497.6,666.6 498.3,667.7 498.3,668.5 496.4,670.3 496.7,671.8Z"/>
<path fill="rgb(0,40,255)" fill-rule="evenodd" d="M544.5,694.4 543.0,693.5 541.1,690.0 540.5,687.8 541.1,687.3 541.1,686.5 540.0,685.2 540.9,684.5 541.1,683.4 538.2,680.3 537.4,678.1 536.6,678.2 535.7,679.3 532.2,680.0 530.4,678.3 527.8,678.1 524.3,680.2 523.4,681.8 522.0,681.7 521.7,680.4 518.6,682.2 513.8,680.5 513.0,681.2 512.7,682.5 510.3,682.8 509.8,682.1 510.7,679.9 510.5,678.6 509.4,677.9 508.1,678.9 507.4,678.6 508.7,676.8 505.9,673.5 505.8,671.2 506.4,670.3 507.6,669.8 509.0,671.9 510.0,671.2 508.5,668.9 508.1,667.2 506.8,665.7 507.2,663.7 510.0,662.8 510.6,661.1 512.5,659.7 513.3,659.8 513.7,661.1 515.1,661.1 515.7,660.2 515.3,658.0 515.7,655.8 519.0,653.7 518.6,650.6 519.5,650.0 521.7,649.9 524.0,648.0 523.0,645.6 521.7,646.3 520.8,645.8 520.8,644.9 522.1,643.6 521.2,642.4 520.0,641.8 519.4,640.5 519.9,636.8 523.0,634.8 523.9,635.7 522.6,636.6 523.4,637.5 526.5,634.4 528.7,633.9 530.0,634.4 533.9,633.0 537.4,633.3 548.4,629.0 550.0,629.6 550.4,631.3 551.0,632.0 553.2,632.9 554.1,635.6 555.4,636.2 555.9,637.9 554.0,641.0 554.1,641.5 555.3,641.8 555.4,642.7 554.5,643.5 553.7,641.9 553.1,642.7 553.2,643.2 554.5,643.7 555.0,645.8 554.1,646.4 552.3,646.2 551.4,648.4 552.3,650.5 553.5,650.6 552.7,652.8 553.6,655.0 553.2,655.9 551.0,656.5 550.3,658.0 550.4,658.9 551.7,660.7 552.3,663.3 551.9,664.2 550.6,665.0 551.2,666.8 550.1,669.4 550.8,671.2 549.9,673.3 550.3,674.7 550.3,678.2 549.7,678.8 548.4,678.8 547.7,679.5 547.4,683.4 546.5,685.6 546.1,688.2 544.4,690.4 545.0,693.0 544.5,694.4ZM528.5,638.3 529.1,637.5 528.2,636.6 527.6,637.0 527.5,637.9 528.5,638.3ZM523.2,641.8 523.0,640.3 522.5,639.5 522.1,639.5 521.3,640.1 521.1,641.0 522.1,641.9 523.2,641.8ZM512.9,655.5 511.4,655.4 511.2,653.6 513.3,653.9 513.4,655.0 512.9,655.5ZM510.0,666.3 510.4,665.5 509.8,664.7 507.8,664.6 508.6,666.3 510.0,666.3ZM496.3,669.6 495.8,669.4 495.8,666.1 497.2,666.8 497.1,667.7 497.6,668.1 496.3,669.6ZM539.6,694.4 538.8,693.6 538.8,692.8 540.5,693.9 539.6,694.4Z"/>
<path fill="rgb(0,110,255)" fill-rule="evenodd" d="M545.8,686.1 541.5,684.3 540.7,682.1 542.3,680.0 542.4,679.0 540.1,676.6 538.3,676.2 537.6,675.1 537.9,673.8 539.9,672.0 537.0,666.0 535.7,665.9 534.0,667.2 534.7,669.8 533.9,670.5 531.3,670.3 529.8,671.2 529.6,673.0 531.2,675.5 530.7,676.8 528.2,677.7 526.2,676.8 524.9,676.8 524.0,679.0 523.2,679.5 523.3,680.3 522.5,681.0 522.3,676.4 523.4,675.0 521.2,674.0 520.3,674.2 520.0,675.1 520.3,677.3 518.6,679.0 517.5,678.6 516.9,676.8 516.4,676.6 515.5,676.8 515.1,678.0 513.8,678.1 513.2,677.7 513.1,676.8 514.8,675.5 514.5,672.5 514.2,671.9 512.1,671.6 512.5,670.6 515.1,670.1 515.3,669.0 514.2,665.5 514.8,664.6 517.0,663.7 517.4,659.3 516.0,657.9 516.0,655.7 516.8,654.9 517.5,655.0 518.2,656.1 519.5,655.2 519.9,654.5 519.7,652.8 520.8,651.5 523.4,652.6 525.6,652.3 524.3,651.9 523.4,649.3 524.3,648.2 526.0,648.6 527.4,647.6 529.1,648.2 530.0,647.5 529.3,645.8 530.0,642.7 529.3,640.1 530.6,637.0 536.0,633.5 541.8,631.9 548.0,629.2 549.2,629.6 549.7,631.6 552.4,632.7 553.2,633.4 553.9,635.7 555.4,636.6 555.6,637.9 552.9,642.7 554.7,644.5 554.8,645.8 554.1,646.3 552.8,645.9 552.1,646.2 551.0,649.3 551.2,650.2 552.4,651.5 552.4,653.2 553.2,655.4 551.0,656.2 550.2,658.0 550.3,658.9 551.6,660.7 552.0,663.3 550.4,664.6 551.0,666.8 549.9,669.4 550.6,671.2 549.7,673.3 549.9,674.7 549.4,676.0 549.8,677.7 547.5,677.7 547.2,683.4 546.2,686.0 545.8,686.1ZM526.0,640.3 525.2,640.3 524.8,639.7 526.0,639.5 526.4,640.1 526.0,640.3ZM555.0,643.0 554.3,642.7 554.5,641.7 555.3,642.3 555.0,643.0ZM514.7,662.1 513.8,662.2 513.3,661.5 515.2,661.5 514.7,662.1ZM509.0,676.5 507.2,674.9 506.8,674.2 507.2,673.7 509.8,674.0 509.9,675.1 509.0,676.5ZM538.8,680.0 537.4,677.7 538.3,677.4 539.5,678.2 539.3,679.5 538.8,680.0ZM543.1,689.1 542.6,688.7 542.7,687.1 543.6,688.2 543.1,689.1Z"/>
<path fill="rgb(0,180,255)" fill-rule="evenodd" d="M545.3,683.5 542.6,682.5 543.5,679.0 541.6,676.4 542.7,674.7 540.9,673.3 541.0,671.6 540.0,669.8 540.0,668.5 539.0,667.2 539.2,665.5 538.8,664.8 535.7,664.5 533.2,666.8 532.2,669.0 528.7,670.2 527.8,670.1 527.7,672.0 525.6,673.1 518.2,672.9 516.6,671.2 516.3,667.7 516.8,666.9 518.7,666.3 519.5,661.1 523.9,654.9 527.1,653.7 528.2,650.6 531.7,648.8 533.2,647.5 534.2,643.6 533.4,640.1 532.5,638.3 533.0,637.0 539.2,632.7 540.9,632.5 543.1,631.3 545.3,631.5 547.1,630.2 547.8,630.5 549.3,632.7 551.5,633.3 553.2,634.8 553.8,636.2 554.9,636.6 555.3,637.9 552.7,642.7 553.2,643.8 554.5,644.7 554.6,645.8 552.8,645.7 551.9,646.1 550.2,649.3 550.8,652.8 550.3,654.5 550.6,656.3 550.0,658.5 551.5,660.7 551.1,663.7 550.2,664.6 550.6,666.8 549.8,669.0 549.9,671.2 549.3,673.8 548.0,675.3 545.3,675.7 544.7,676.4 546.3,679.0 546.2,682.5 545.3,683.5Z"/>
<path fill="rgb(0,240,255)" fill-rule="evenodd" d="M548.0,673.9 546.6,674.0 544.9,672.9 543.1,673.2 542.3,672.9 541.0,670.3 541.3,668.5 540.5,666.8 540.5,664.6 538.3,662.4 536.1,662.5 534.5,663.3 533.8,665.0 530.9,668.8 530.0,668.9 528.7,668.2 526.5,668.9 526.3,671.6 525.2,672.3 521.7,671.6 521.3,671.2 521.7,667.5 520.6,665.5 522.2,659.3 524.1,655.8 527.8,654.4 529.1,651.6 533.5,649.0 535.7,648.4 534.7,646.7 535.5,643.6 533.9,638.3 534.1,637.5 540.1,633.1 543.1,632.1 545.3,632.4 547.1,631.8 553.2,636.1 554.3,637.5 554.5,639.2 552.6,642.3 552.6,644.9 550.6,646.9 549.6,649.3 549.9,652.8 549.5,655.0 550.2,656.7 549.9,658.9 550.5,659.8 549.9,664.6 550.1,665.8 549.3,668.5 547.8,670.3 548.7,672.5 548.0,673.9Z"/>
<path fill="rgb(0,255,170)" fill-rule="evenodd" d="M546.2,671.4 543.1,671.3 541.9,670.3 542.1,667.7 541.7,665.0 538.1,659.3 538.8,657.6 538.8,655.4 538.7,654.5 537.9,653.9 536.6,654.0 535.3,655.4 536.3,658.5 535.9,660.2 532.8,663.3 532.3,665.0 530.9,667.2 529.1,666.8 525.6,668.2 524.3,668.3 522.0,664.2 523.5,659.3 525.6,656.7 528.5,655.0 530.0,653.2 531.7,653.0 532.6,651.4 536.8,650.2 537.3,648.0 535.8,646.2 536.8,643.6 535.5,640.5 535.8,637.5 536.7,636.2 540.1,633.9 543.6,632.8 547.5,633.1 550.3,634.8 552.9,637.0 553.7,639.7 551.8,644.5 550.1,646.1 548.9,649.3 549.3,652.8 549.0,655.0 549.8,657.2 549.5,665.5 548.8,667.9 547.1,669.4 546.2,671.4ZM525.2,671.2 524.0,670.3 524.3,669.5 525.2,670.1 525.2,671.2Z"/>
<path fill="rgb(0,255,60)" fill-rule="evenodd" d="M545.3,670.5 543.6,670.6 542.6,669.8 543.0,665.9 539.5,659.8 539.5,654.1 538.0,651.9 538.2,648.8 539.5,646.7 538.4,643.6 536.1,640.1 537.1,636.6 540.9,634.0 543.6,633.3 547.5,634.0 551.7,636.6 552.6,637.9 552.7,640.1 551.2,644.0 549.8,645.8 548.2,649.3 548.9,652.8 548.6,655.0 549.4,657.6 548.8,665.5 548.1,667.7 546.6,668.7 545.3,670.5ZM526.5,667.2 524.7,666.8 523.0,663.9 523.0,662.8 524.3,660.2 526.5,657.6 529.1,656.1 530.4,654.4 533.1,654.7 533.2,652.3 533.9,651.7 535.3,651.7 535.9,652.3 535.8,653.2 533.9,655.4 535.2,658.0 534.9,659.8 530.3,663.3 530.1,665.5 526.5,667.2Z"/>
<path fill="rgb(0,255,0)" fill-rule="evenodd" d="M544.9,669.5 543.6,669.4 543.7,665.5 540.2,659.3 540.3,654.1 541.0,650.6 540.1,648.4 540.7,646.2 537.0,640.1 537.9,636.7 541.4,634.3 543.1,633.7 548.0,634.9 551.3,637.0 551.9,638.3 550.8,643.6 547.5,649.3 548.5,652.8 548.1,655.0 549.0,657.2 548.4,659.8 548.2,665.0 547.1,667.1 544.9,669.5ZM530.4,661.6 529.6,661.5 528.7,660.3 526.5,660.5 526.1,660.2 526.2,659.3 527.4,657.8 530.0,657.2 530.9,655.8 532.2,655.8 532.9,656.3 534.2,658.9 533.5,659.8 531.7,659.7 530.4,661.6ZM526.5,666.4 525.5,665.9 525.7,664.2 526.9,663.4 528.2,663.3 528.5,665.0 526.5,666.4Z"/>
<path fill="rgb(130,255,0)" fill-rule="evenodd" d="M545.8,665.6 543.3,663.3 541.3,659.3 541.6,656.3 541.3,654.5 542.2,650.2 541.7,648.0 541.9,646.2 538.9,640.5 539.3,637.5 541.8,634.8 543.1,634.4 548.0,635.7 550.7,637.9 550.9,638.8 550.1,643.2 548.0,646.8 545.2,649.3 547.6,652.3 547.1,655.0 548.4,657.2 547.3,659.8 547.8,662.4 547.5,664.2 547.0,665.0 545.8,665.6Z"/>
<path fill="rgb(255,255,0)" fill-rule="evenodd" d="M545.8,647.2 544.5,647.4 543.6,646.8 539.7,640.5 539.8,638.3 541.7,635.7 542.7,635.0 547.5,636.2 550.0,638.8 549.3,643.2 548.0,644.5 547.1,646.5 545.8,647.2ZM546.2,664.4 545.3,664.1 544.4,662.8 544.2,662.0 545.1,659.8 543.1,657.3 542.3,655.0 543.0,650.6 543.6,649.7 546.6,652.3 546.2,655.0 547.7,657.2 547.6,658.0 546.3,659.8 546.9,663.3 546.2,664.4Z"/>
<path fill="rgb(255,170,0)" fill-rule="evenodd" d="M545.3,646.3 544.3,645.8 541.4,642.5 540.2,640.1 540.4,638.3 542.7,635.7 547.1,636.6 549.2,639.2 548.3,642.7 546.3,645.8 545.3,646.3ZM546.6,657.7 545.8,657.8 543.8,655.4 543.6,654.5 544.0,651.5 545.1,652.3 545.4,656.3 546.6,657.7Z"/>
<path fill="rgb(255,80,0)" fill-rule="evenodd" d="M545.3,644.6 542.0,641.8 540.7,640.1 541.0,638.3 543.1,636.3 547.1,637.4 548.5,639.7 545.3,644.6Z"/>
<path fill="rgb(255,0,0)" fill-rule="evenodd" d="M545.3,642.9 544.0,642.4 541.3,640.1 541.2,638.8 542.7,637.0 543.6,636.8 546.2,637.5 547.7,639.2 547.6,640.5 545.3,642.9Z"/>
</g>
<clipPath id="clip_c1000"><rect x="495.6" y="625" width="70.1" height="70"/></clipPath>
<rect x="495.6" y="625" width="70.1" height="70" fill="none" stroke="#8a8a8a" stroke-width="1"/>
<line x1="536.6" y1="625" x2="536.6" y2="695" stroke="#333" stroke-width="1"/>
<line x1="495.6" y1="647.2" x2="565.7" y2="647.2" stroke="#333" stroke-width="1"/>
<g clip-path="url(#clip_r62)" filter="url(#soft)">
<path fill="rgb(0,0,255)" fill-rule="evenodd" d="M219.0,763.4 218.1,763.0 217.2,761.5 214.6,761.0 214.2,760.2 215.5,759.4 215.8,758.5 214.2,756.7 212.6,757.2 211.5,758.6 208.9,758.7 208.4,760.6 207.6,761.3 206.7,761.3 205.4,760.1 204.6,760.5 203.2,762.1 201.9,762.4 200.2,761.4 194.9,763.0 192.8,762.1 190.1,760.3 188.8,760.8 187.5,760.4 186.1,759.3 189.3,759.7 189.3,758.5 187.4,757.2 184.9,757.9 183.6,755.8 182.3,755.2 182.0,754.5 182.6,751.5 182.4,750.2 178.3,747.2 177.8,745.8 179.2,744.3 183.8,741.9 184.5,739.1 185.3,739.8 185.1,741.5 186.3,741.5 187.4,735.4 188.4,734.2 193.8,731.9 193.9,730.6 194.9,729.5 195.6,729.8 195.8,731.8 197.1,731.6 198.2,730.2 197.6,728.4 202.4,728.1 203.2,727.0 204.6,723.6 205.9,724.4 207.0,724.1 207.5,722.8 206.2,721.5 206.2,720.6 206.7,719.7 208.1,718.9 208.3,716.7 208.9,716.0 209.8,716.0 210.6,716.7 210.7,717.1 209.4,718.9 210.2,719.0 210.8,718.4 210.7,717.1 214.0,715.4 215.2,712.8 216.4,711.6 220.3,711.5 220.5,709.7 221.6,708.2 222.0,708.2 223.3,709.5 225.8,708.0 226.4,706.9 229.9,706.9 231.6,708.2 233.4,708.5 234.1,710.2 235.4,711.5 235.5,715.4 236.6,717.6 236.7,718.9 236.0,719.7 234.7,719.7 233.8,720.4 233.7,721.9 234.6,722.8 234.6,723.7 231.6,727.6 231.6,728.1 233.0,728.0 233.3,729.3 232.9,731.1 231.1,733.7 231.8,735.8 230.8,740.6 230.3,740.8 229.0,739.7 228.7,740.2 228.4,744.1 228.7,745.4 229.9,746.2 230.0,747.2 227.6,749.3 228.0,751.1 228.0,757.2 223.8,761.2 222.0,761.7 219.0,763.4ZM199.8,726.4 198.4,726.6 195.2,724.5 195.4,722.8 198.0,720.9 199.1,721.5 199.8,723.3 201.1,722.6 202.0,722.8 202.0,723.7 199.8,726.4ZM184.5,733.2 181.4,733.4 180.8,732.8 180.8,731.9 182.3,730.5 183.6,730.2 184.3,731.1 184.5,733.2ZM173.1,754.2 170.9,754.1 170.7,749.8 170.9,748.9 173.1,748.0 174.0,748.9 173.5,749.5 172.3,749.8 173.6,752.8 173.1,754.2ZM201.4,759.3 202.1,758.5 202.1,757.2 201.1,756.6 199.0,756.7 198.6,757.6 198.8,758.5 200.2,759.4 201.4,759.3ZM196.1,761.1 196.4,760.6 195.8,760.2 194.9,760.6 196.1,761.1ZM219.4,766.8 218.5,765.9 219.0,764.9 220.4,765.9 219.4,766.8ZM206.7,772.5 202.8,772.7 201.9,772.4 200.9,770.2 200.5,767.6 202.4,767.4 204.6,766.1 206.3,768.1 208.9,768.5 209.1,769.3 207.2,770.5 206.7,772.5ZM186.2,770.0 185.6,769.8 186.4,768.9 187.5,768.5 187.9,768.9 186.2,770.0ZM190.6,772.5 187.4,772.4 187.8,771.1 189.3,769.5 190.3,770.6 190.6,772.5Z"/>
<path fill="rgb(0,40,255)" fill-rule="evenodd" d="M219.4,762.8 218.5,762.9 217.2,761.3 215.4,760.6 216.2,758.5 214.2,756.3 212.4,757.0 211.5,758.2 208.9,758.5 208.4,758.9 208.1,760.6 207.2,761.2 205.4,759.9 202.8,762.1 201.5,762.0 200.6,761.1 197.1,761.7 196.6,761.5 196.6,760.2 195.8,759.9 194.5,760.6 196.1,761.9 195.8,762.5 194.9,762.7 192.8,761.9 190.4,760.2 188.4,757.3 187.1,757.0 184.9,757.5 183.6,755.6 182.4,755.0 182.2,753.7 183.0,751.5 182.9,750.6 180.7,748.9 179.7,747.3 178.3,746.6 178.1,745.8 179.2,744.5 186.6,741.5 186.9,738.0 187.6,735.4 188.4,734.5 194.1,732.1 196.3,732.6 198.4,730.2 198.0,728.3 199.8,728.6 202.4,728.1 203.3,727.1 204.6,724.2 206.3,724.7 207.2,724.2 207.7,722.8 206.4,721.5 206.7,720.0 208.5,719.1 209.8,719.4 210.7,719.0 211.2,717.1 214.3,715.4 215.9,712.1 216.8,711.7 218.5,712.0 220.3,711.7 220.7,711.0 220.9,709.3 221.6,708.6 223.3,709.8 226.8,707.2 229.5,707.1 231.6,708.5 233.4,708.8 233.8,710.2 235.1,711.5 235.3,715.4 236.6,718.4 236.0,719.5 234.3,719.7 233.6,720.6 233.5,721.9 234.3,722.8 234.4,723.7 231.2,727.6 230.7,730.2 231.2,730.8 232.3,730.2 232.5,728.4 232.5,731.0 231.0,733.2 230.8,736.3 229.9,736.2 229.4,736.7 229.9,739.2 229.0,739.2 228.3,740.2 227.9,744.1 228.4,745.8 229.5,746.5 229.6,747.2 227.4,748.9 227.7,753.7 226.4,754.1 226.3,754.5 227.7,755.5 227.7,757.2 223.5,761.1 222.0,761.3 219.4,762.8ZM209.4,718.2 208.9,718.4 208.4,717.6 208.6,716.7 209.4,716.1 210.2,716.7 209.4,718.2ZM199.3,726.4 198.0,726.2 195.3,724.1 195.4,723.2 198.0,721.2 199.0,721.9 199.4,723.7 200.7,724.1 200.5,725.4 199.3,726.4ZM201.5,723.8 200.7,723.7 201.1,722.8 201.8,723.2 201.5,723.8ZM194.9,731.6 194.5,731.6 194.2,730.6 194.9,729.8 195.5,730.6 194.9,731.6ZM184.0,733.1 181.4,733.0 180.9,732.4 182.7,730.4 183.6,730.4 184.2,731.5 184.0,733.1ZM228.6,735.4 228.6,734.4 227.7,734.4 227.7,735.2 228.6,735.4ZM227.1,744.5 227.4,744.1 226.8,743.2 226.0,743.3 225.3,744.1 225.5,744.8 227.1,744.5ZM225.4,754.1 225.2,753.2 226.1,751.5 226.0,750.7 225.1,751.0 222.9,750.6 222.2,751.9 222.5,753.2 224.7,754.3 225.4,754.1ZM201.7,759.3 202.5,758.0 201.9,756.8 199.8,756.2 198.8,756.7 198.4,758.5 200.6,759.7 201.7,759.3ZM219.8,759.8 220.7,758.8 222.9,758.8 223.5,758.0 223.4,757.2 221.6,756.2 221.2,756.5 220.3,758.3 218.9,758.9 219.2,759.8 219.8,759.8ZM206.3,772.4 202.2,772.4 201.5,770.6 201.9,769.3 200.8,768.0 202.4,767.8 204.1,766.7 205.9,769.2 208.6,768.5 208.7,769.3 206.9,770.2 206.3,772.4ZM190.1,771.1 188.3,771.1 189.3,770.1 190.1,771.1Z"/>
<path fill="rgb(0,110,255)" fill-rule="evenodd" d="M202.4,762.0 200.6,760.7 197.6,761.3 197.2,760.2 195.8,759.6 194.3,760.2 194.2,761.1 195.3,761.9 194.9,762.3 192.8,761.7 190.6,760.1 188.8,757.3 187.5,756.8 184.9,757.2 184.8,756.3 183.9,755.4 183.9,754.1 185.7,750.6 184.5,749.9 183.2,750.3 181.2,748.9 181.2,748.5 183.9,747.2 183.1,745.0 183.4,743.7 184.5,742.8 186.2,742.3 186.9,741.5 187.0,738.5 188.0,735.2 188.8,734.4 194.1,732.4 196.3,733.0 198.6,730.2 198.4,728.6 202.7,728.0 204.6,724.6 206.3,724.9 207.7,723.7 207.9,722.8 206.6,721.5 207.2,719.8 210.7,719.3 211.5,717.1 213.7,716.1 214.8,715.0 215.9,712.3 216.8,711.9 219.4,712.1 220.7,711.5 221.4,708.9 223.3,710.0 227.3,707.8 228.7,708.4 229.0,709.8 230.8,709.7 230.6,708.4 232.1,709.2 233.0,709.2 231.3,709.7 231.4,710.2 232.7,711.0 234.3,711.0 234.8,711.5 235.2,715.4 236.5,718.4 236.0,719.4 234.3,719.6 233.5,720.6 233.3,721.9 234.1,723.2 232.5,725.9 231.0,727.1 230.5,730.2 231.4,731.9 230.3,734.2 228.1,733.0 225.9,734.1 228.6,738.5 227.7,739.3 224.7,738.4 224.1,738.9 224.0,740.6 225.0,741.9 223.5,743.7 224.8,748.0 223.8,748.6 222.7,747.2 220.7,746.9 219.4,745.9 218.1,746.3 217.4,747.6 217.7,749.3 218.5,750.0 220.8,750.6 220.9,751.5 220.3,752.6 219.4,752.8 218.1,752.0 217.2,752.0 216.4,754.0 214.7,755.9 212.9,756.3 211.3,758.0 208.9,757.8 206.7,760.2 205.0,759.9 202.4,762.0ZM208.9,718.1 208.8,716.7 209.8,716.5 210.0,717.1 208.9,718.1ZM198.9,726.3 195.5,724.1 195.7,723.2 196.7,722.9 198.0,721.4 198.6,721.9 198.9,723.7 200.5,724.5 200.1,725.8 198.9,726.3ZM201.3,759.8 202.5,758.5 202.4,756.8 199.3,756.2 198.3,757.2 198.0,758.9 198.9,758.9 200.6,760.1 201.3,759.8ZM226.4,758.0 225.5,757.7 225.4,757.2 226.4,756.1 227.4,756.7 227.3,757.6 226.4,758.0ZM217.7,760.8 216.5,760.2 216.8,759.3 217.7,759.9 217.7,760.8ZM203.7,772.4 202.7,772.4 202.6,771.9 203.2,770.7 204.0,771.5 204.0,772.4 203.7,772.4Z"/>
<path fill="rgb(0,180,255)" fill-rule="evenodd" d="M191.0,760.2 189.3,756.3 189.5,754.1 188.5,753.2 188.6,751.5 187.2,749.3 186.4,746.7 186.8,745.0 188.7,742.8 188.7,741.1 188.0,739.3 190.5,736.3 190.4,735.8 188.4,735.0 191.5,733.6 192.1,733.7 192.3,734.5 192.8,734.4 193.9,732.8 196.3,733.3 198.5,730.6 198.9,729.0 202.4,728.3 203.5,727.1 204.6,724.9 206.3,725.1 207.2,724.6 208.0,722.8 206.7,721.5 207.2,720.1 208.1,719.7 210.2,720.0 212.0,717.7 213.7,718.2 215.0,714.8 218.1,713.5 219.3,712.4 220.7,711.8 221.2,709.5 222.0,710.5 223.8,710.1 225.3,708.9 226.4,708.9 227.7,710.8 230.3,711.1 234.7,713.6 234.8,715.4 236.0,717.6 236.0,719.1 234.3,719.5 233.5,720.2 233.0,724.1 231.7,725.8 230.8,726.2 229.0,725.9 227.3,726.7 227.1,728.0 228.2,730.6 228.0,731.5 226.8,732.4 224.3,733.2 224.1,735.4 222.5,737.6 222.6,739.3 222.2,740.6 219.4,742.8 218.4,744.5 216.7,745.8 215.5,748.7 212.7,750.6 211.6,752.4 208.5,754.8 207.6,756.5 206.3,755.6 202.4,755.4 199.3,756.0 197.6,757.4 196.3,756.9 194.9,758.3 194.1,758.5 193.1,756.3 193.5,755.0 194.7,753.7 193.6,753.5 192.2,755.4 192.0,758.0 191.0,760.2ZM199.8,726.0 198.0,725.9 197.1,724.8 196.2,724.5 198.0,723.8 199.5,724.1 200.3,724.5 199.8,726.0ZM208.3,753.7 208.2,752.8 207.3,752.8 207.6,754.0 208.3,753.7ZM205.0,759.4 202.8,758.8 202.8,756.4 203.7,757.9 205.2,758.9 205.0,759.4Z"/>
<path fill="rgb(0,240,255)" fill-rule="evenodd" d="M205.4,754.5 202.8,753.9 201.1,754.3 198.9,753.9 194.5,752.1 191.5,752.8 188.4,749.6 187.9,748.0 188.4,746.9 190.1,747.3 191.1,746.3 191.5,744.1 190.1,743.0 189.9,741.9 191.2,740.2 191.8,738.0 194.5,734.6 196.7,733.1 199.3,729.2 202.8,728.2 204.6,725.1 206.7,725.1 208.5,722.4 214.7,719.3 216.8,715.2 219.4,714.6 221.6,712.0 224.2,711.3 225.1,709.7 226.0,709.9 226.8,711.5 229.9,711.6 233.1,713.7 235.6,719.3 233.6,719.7 231.9,723.7 229.5,723.3 227.7,725.1 225.6,725.4 225.3,726.7 223.3,729.3 223.7,731.1 223.0,732.4 222.5,735.0 220.1,736.7 218.2,738.9 218.1,739.8 219.6,741.1 217.9,743.7 217.2,744.3 215.5,744.5 214.0,748.5 211.5,749.9 210.5,751.5 208.1,751.3 206.3,751.9 205.9,754.1 205.4,754.5ZM199.8,725.9 198.0,725.8 197.8,725.4 198.4,724.8 199.3,724.8 200.1,725.4 199.8,725.9ZM226.0,731.2 224.9,730.6 225.1,730.2 226.0,730.2 226.0,731.2Z"/>
<path fill="rgb(0,255,170)" fill-rule="evenodd" d="M199.3,752.8 198.0,752.6 194.9,750.3 193.2,750.6 192.6,750.2 191.9,748.0 193.0,745.8 192.6,743.7 191.4,741.9 192.3,739.3 196.7,734.1 198.9,730.4 202.8,728.3 204.6,725.4 206.3,725.6 208.5,723.4 212.2,721.9 215.5,719.7 217.4,719.3 218.1,716.8 220.3,715.6 222.0,712.6 223.8,712.5 226.4,713.9 227.4,712.4 229.0,711.9 232.1,713.9 234.4,718.9 230.8,722.1 229.0,722.3 227.3,724.1 225.5,724.3 223.7,725.4 223.2,727.6 221.3,729.3 221.3,730.6 219.7,734.5 217.7,737.7 216.5,741.1 217.0,742.8 216.4,742.8 215.9,741.8 214.9,741.9 214.3,742.8 213.3,746.8 210.6,746.7 208.1,748.0 206.7,750.2 204.8,750.6 204.1,752.5 202.2,752.4 201.5,751.1 199.3,752.8Z"/>
<path fill="rgb(0,255,60)" fill-rule="evenodd" d="M200.2,750.3 199.3,750.3 197.2,748.9 196.7,747.5 195.4,746.1 194.7,744.1 192.3,741.8 192.7,739.8 197.6,734.5 199.1,733.7 200.3,731.1 203.7,727.6 208.1,724.5 212.6,722.4 215.0,720.6 217.7,720.4 219.4,719.7 219.0,717.6 221.0,716.3 222.4,713.2 223.8,713.2 226.8,715.0 227.6,714.5 228.0,712.8 229.5,712.7 231.8,715.4 231.1,720.6 228.1,721.9 226.8,723.4 222.9,724.4 222.2,725.0 222.1,727.6 220.5,728.4 219.3,731.1 217.1,732.8 218.5,734.0 218.5,735.0 217.2,736.7 216.4,739.1 213.7,741.9 212.9,745.7 209.8,746.3 205.0,748.7 202.4,748.8 200.2,750.3ZM220.4,726.3 220.9,725.0 221.1,721.1 219.8,719.9 218.5,722.8 218.2,724.5 219.0,726.0 220.4,726.3Z"/>
<path fill="rgb(0,255,0)" fill-rule="evenodd" d="M226.0,722.9 223.5,722.8 223.2,720.6 221.3,719.3 221.2,718.4 222.3,716.3 222.4,714.5 222.9,714.0 223.8,714.3 224.7,715.6 227.3,715.8 229.0,714.8 229.6,715.4 230.2,719.7 228.1,720.7 226.0,722.9ZM200.2,749.4 198.4,748.4 194.5,741.9 193.2,741.3 193.2,740.4 194.9,738.3 197.1,737.2 198.0,735.4 199.6,734.1 201.9,730.4 204.6,729.0 206.0,727.1 208.0,726.3 214.9,721.5 216.4,721.5 217.4,725.4 219.3,727.1 219.5,728.0 218.3,729.3 217.7,731.1 216.1,732.4 216.0,733.2 217.0,735.0 215.5,738.5 212.6,741.9 212.3,745.0 204.6,747.8 202.3,748.0 200.2,749.4Z"/>
<path fill="rgb(130,255,0)" fill-rule="evenodd" d="M225.5,721.5 224.8,720.6 225.5,719.7 226.0,720.6 225.5,721.5ZM203.2,746.8 199.3,746.9 196.7,742.8 196.9,741.5 198.2,740.2 198.9,736.3 202.4,731.9 204.6,730.8 206.7,728.6 208.5,728.7 212.0,726.8 213.3,726.8 215.9,728.7 216.5,729.8 214.5,732.8 214.9,735.0 214.3,737.1 212.4,738.8 208.1,745.4 205.0,745.9 203.2,746.8Z"/>
<path fill="rgb(255,255,0)" fill-rule="evenodd" d="M202.4,745.7 200.2,745.3 198.0,742.8 198.0,742.1 199.1,740.6 199.8,736.7 201.9,733.6 206.7,730.3 211.5,728.0 212.9,728.1 214.9,729.8 213.3,733.1 213.8,735.0 213.6,736.3 211.5,738.0 209.8,741.1 206.7,743.8 203.7,744.3 202.4,745.7Z"/>
<path fill="rgb(255,170,0)" fill-rule="evenodd" d="M202.4,743.7 201.5,743.6 200.5,741.9 200.1,739.3 200.6,737.1 203.0,734.1 204.6,732.8 209.8,730.1 212.0,730.0 212.8,731.1 212.4,733.2 213.1,735.0 212.9,736.0 209.8,738.5 208.5,741.2 205.4,743.3 202.4,743.7Z"/>
<path fill="rgb(255,80,0)" fill-rule="evenodd" d="M205.4,742.4 204.1,742.8 202.1,742.4 201.0,739.3 201.4,737.6 205.2,733.2 208.1,731.6 210.7,731.4 212.4,735.4 208.9,738.1 208.0,740.6 205.4,742.4Z"/>
<path fill="rgb(255,0,0)" fill-rule="evenodd" d="M204.6,742.1 203.2,741.9 202.4,741.1 201.7,739.3 201.8,738.0 205.5,733.7 208.1,732.1 209.4,732.0 211.5,734.5 211.7,735.4 208.5,737.7 207.6,740.3 204.6,742.1Z"/>
</g>
<clipPath id="clip_r62"><rect x="170.7" y="703" width="69.9" height="69.6"/></clipPath>
<rect x="170.7" y="703" width="69.9" height="69.6" fill="none" stroke="#8a8a8a" stroke-width="1"/>
<line x1="220.7" y1="703" x2="220.7" y2="772.6" stroke="#333" stroke-width="1"/>
<line x1="170.7" y1="726.5" x2="240.6" y2="726.5" stroke="#333" stroke-width="1"/>
<g clip-path="url(#clip_r125)" filter="url(#soft)">
<path fill="rgb(0,0,255)" fill-rule="evenodd" d="M276.0,767.8 274.7,767.9 271.4,766.0 271.3,764.7 272.5,764.3 272.5,763.4 270.7,763.1 267.2,759.8 265.6,756.1 264.4,754.8 259.7,753.0 258.4,749.6 257.7,748.7 256.1,748.7 255.7,750.2 254.4,748.1 253.0,747.8 253.4,747.0 252.4,745.7 253.5,745.1 254.8,745.3 256.6,747.2 257.9,746.7 258.1,745.2 257.4,744.4 258.3,740.9 260.6,740.0 261.1,739.2 261.2,737.4 261.9,736.8 263.2,736.6 263.7,735.5 263.6,734.8 262.3,734.8 261.5,734.0 262.1,732.2 260.2,729.6 260.8,727.9 262.3,726.6 264.1,726.1 265.0,724.4 265.9,723.8 273.7,723.1 274.8,722.3 274.7,721.0 276.0,719.7 277.8,721.0 282.2,719.8 283.0,719.2 283.1,718.3 284.4,718.3 287.9,716.9 291.5,717.1 293.7,715.2 295.4,716.0 297.6,714.6 299.4,715.1 299.7,714.9 299.4,713.2 300.5,711.9 301.6,711.3 303.8,711.1 305.6,709.8 306.9,709.8 308.7,710.7 311.3,708.8 312.3,709.3 313.8,711.4 314.8,712.0 315.7,710.3 317.0,710.6 319.0,713.2 318.8,713.7 317.0,714.0 316.8,714.5 317.0,715.6 318.5,716.6 316.9,718.8 318.2,721.8 317.5,724.3 316.6,723.5 316.1,723.6 316.1,725.3 314.7,727.0 313.8,730.5 313.9,731.8 314.4,732.7 313.7,734.0 313.9,740.0 312.3,742.2 313.4,743.5 313.5,746.1 313.3,747.0 312.0,748.3 312.4,750.0 311.4,751.7 311.6,755.2 310.9,755.9 308.2,755.6 308.5,758.7 307.3,759.8 305.6,759.4 305.2,760.0 305.2,761.7 304.1,764.7 304.5,767.3 303.8,767.7 303.4,767.5 302.5,766.4 301.2,765.9 300.3,764.4 299.0,765.0 298.1,764.5 298.1,763.3 300.3,762.7 300.3,762.1 299.4,761.1 297.2,761.0 296.5,760.4 296.2,759.5 297.7,758.7 297.2,756.9 292.8,756.3 285.3,757.8 283.9,760.1 281.7,759.9 277.8,762.2 276.0,762.5 276.3,766.9 276.0,767.8ZM255.3,741.4 252.3,739.6 252.6,734.8 256.2,736.2 257.7,737.9 257.7,740.0 255.3,741.4ZM257.9,762.6 256.2,762.7 255.6,761.7 257.0,760.8 258.4,761.1 258.7,761.7 257.9,762.6ZM285.3,773.6 282.2,773.5 280.9,772.5 280.4,773.4 279.1,773.6 278.6,773.4 278.7,772.1 279.1,771.4 281.3,770.7 282.2,769.9 283.9,769.6 284.8,770.0 285.4,771.2 285.3,773.6ZM291.0,773.6 287.2,773.4 288.4,771.3 291.0,770.4 292.0,771.2 291.0,773.6Z"/>
<path fill="rgb(0,40,255)" fill-rule="evenodd" d="M303.8,767.3 301.2,763.9 301.2,763.3 302.4,762.1 302.2,761.7 301.2,760.7 300.3,761.0 296.7,760.0 298.0,758.7 297.9,757.4 296.7,756.1 295.9,756.0 291.9,756.2 284.4,757.6 283.9,759.7 281.3,759.8 277.8,761.9 276.0,762.3 275.6,763.4 276.0,767.2 275.6,767.6 274.7,767.5 271.8,766.0 271.6,765.2 272.9,764.3 272.8,763.4 272.0,762.8 270.3,762.6 267.2,759.4 265.6,755.6 264.1,754.4 259.7,752.7 258.4,749.1 257.0,748.0 255.3,748.4 254.6,746.1 254.8,745.8 257.0,747.7 257.9,747.0 258.5,745.7 257.7,743.9 258.7,741.3 260.1,740.9 261.3,739.6 261.6,737.4 263.4,737.0 264.0,734.8 262.1,734.0 262.6,732.7 262.4,730.9 261.4,729.3 261.0,729.7 260.8,729.2 261.0,728.7 261.4,729.2 263.2,728.0 265.4,727.7 265.3,724.9 265.8,724.4 267.2,725.1 268.3,724.0 269.8,725.8 271.3,724.9 271.8,724.0 273.4,723.7 276.0,721.8 275.5,721.0 276.0,720.3 276.8,721.4 277.3,721.3 283.4,719.7 285.7,717.9 288.4,717.0 291.9,717.4 293.2,715.6 294.1,715.5 295.4,716.2 297.6,714.8 299.8,715.4 299.7,713.2 301.0,711.9 303.8,711.3 306.0,710.0 308.7,711.0 311.3,709.1 312.2,709.5 313.3,711.4 314.4,712.1 315.3,712.4 315.6,711.0 316.2,710.7 317.5,711.3 318.7,712.7 318.5,713.6 317.0,713.8 316.6,714.5 316.9,715.8 318.2,716.6 316.7,718.8 318.0,721.8 317.5,723.4 315.9,723.6 315.9,725.3 314.7,726.6 313.5,730.9 313.6,732.2 313.1,733.1 313.6,735.7 313.5,740.0 311.9,742.2 313.1,744.0 312.0,744.4 311.5,745.2 311.7,746.0 312.2,746.0 313.1,745.2 313.2,746.5 311.6,748.3 311.8,750.4 310.7,752.2 311.3,754.3 310.9,755.2 307.4,755.2 305.3,758.2 303.4,762.1 304.3,766.5 303.8,767.3ZM256.6,740.5 255.9,740.5 254.7,738.7 254.5,736.1 256.2,736.5 257.5,738.1 257.5,739.6 256.6,740.5ZM310.5,749.6 310.9,748.7 310.6,747.8 307.8,747.0 307.1,747.4 307.3,748.7 310.5,749.6ZM303.9,757.4 304.5,755.2 303.4,754.5 302.4,755.2 302.3,756.5 302.9,757.4 303.9,757.4ZM307.3,759.2 307.2,758.2 308.2,757.7 308.2,758.4 307.3,759.2ZM257.9,762.1 256.1,762.1 257.0,761.2 257.9,761.5 257.9,762.1ZM284.4,773.4 283.3,773.4 284.0,770.8 283.5,769.9 284.8,770.7 285.3,771.9 285.3,772.7 284.4,773.4ZM290.1,773.4 287.8,773.4 289.2,771.2 290.6,770.6 291.5,770.8 291.5,772.2 290.1,773.4Z"/>
<path fill="rgb(0,110,255)" fill-rule="evenodd" d="M275.1,767.3 272.3,766.0 272.0,765.4 273.2,764.7 273.3,763.4 272.0,762.3 270.8,762.6 271.2,760.9 272.9,760.3 274.3,758.2 274.2,757.5 272.0,757.5 271.2,759.4 268.9,759.1 267.6,759.6 266.6,758.2 266.0,755.6 264.1,754.1 262.0,753.5 264.5,750.4 264.5,749.6 263.7,748.9 262.8,748.9 261.4,750.9 260.1,751.2 259.7,752.2 259.6,750.9 258.8,749.6 258.8,748.8 259.7,748.5 260.0,747.8 258.8,745.8 258.7,744.8 259.2,744.2 261.4,744.0 263.7,746.7 264.6,745.7 264.1,743.5 261.9,743.3 261.4,742.6 262.8,739.2 265.0,738.9 266.6,735.7 266.3,734.8 263.4,734.0 264.3,731.4 263.5,730.1 263.7,729.4 264.5,729.2 267.2,730.9 267.8,732.2 267.6,734.8 269.4,735.8 270.4,733.5 270.0,730.9 270.9,727.5 272.0,727.1 273.8,728.9 274.8,727.5 274.2,725.7 274.9,723.1 278.0,721.4 279.1,720.9 282.6,721.1 284.8,718.8 287.5,718.3 289.2,717.3 292.8,718.6 293.7,718.4 294.1,717.8 292.7,716.6 293.3,715.8 294.1,715.7 295.4,716.4 297.6,715.1 299.8,715.6 300.3,714.9 300.3,713.4 302.9,713.0 306.5,711.0 307.8,711.9 309.1,712.0 310.9,710.5 312.2,710.2 313.1,711.7 315.3,712.8 316.2,711.2 317.5,711.6 318.5,713.2 316.6,713.8 316.4,714.5 316.8,715.8 317.9,716.6 316.6,718.8 317.8,721.0 317.7,722.3 317.5,722.8 315.7,723.6 315.6,725.3 314.4,726.6 313.1,732.3 312.6,732.6 310.0,732.1 308.8,733.1 308.2,734.9 310.0,736.1 310.5,737.9 311.6,739.6 310.0,741.6 307.3,741.1 306.7,742.6 307.0,745.2 305.1,747.4 306.9,752.1 308.3,752.6 308.7,753.5 307.5,753.5 306.5,752.2 304.2,752.1 303.3,750.4 302.5,750.1 300.7,750.9 298.9,750.9 298.1,754.9 295.0,754.1 293.4,754.8 293.4,755.6 287.9,757.0 284.8,756.3 283.8,757.4 283.2,759.5 281.3,758.9 279.5,758.9 277.8,761.7 276.0,761.9 275.3,762.6 275.7,766.0 275.1,767.3ZM312.6,735.5 311.7,735.3 311.5,734.8 312.2,734.1 312.9,734.8 312.6,735.5ZM301.1,748.3 301.6,747.4 301.3,747.0 299.8,747.4 299.8,748.4 301.1,748.3ZM299.0,759.6 298.3,759.5 298.5,758.5 299.5,759.1 299.0,759.6Z"/>
<path fill="rgb(0,180,255)" fill-rule="evenodd" d="M282.2,757.9 280.4,757.7 278.7,756.7 276.4,756.9 274.7,755.9 272.9,756.3 269.8,755.8 268.5,756.9 267.3,756.9 267.6,754.8 269.2,755.2 269.5,753.9 267.0,750.9 265.3,747.4 265.9,746.2 267.1,745.2 266.8,743.1 267.8,740.9 266.9,739.6 267.1,738.3 268.1,737.6 269.4,738.2 270.3,738.0 270.9,735.3 271.9,733.5 272.0,730.8 274.7,732.4 276.0,729.2 280.8,726.2 281.0,724.9 280.2,723.1 280.9,722.5 282.6,722.8 283.9,722.5 287.1,723.1 288.0,721.0 290.6,719.3 291.4,719.7 292.3,721.1 294.4,721.0 295.8,718.4 294.5,717.3 295.9,717.6 296.3,716.2 297.2,715.4 299.8,715.9 300.5,715.3 300.7,714.1 309.5,713.4 311.3,712.3 314.4,712.8 316.0,713.6 316.6,715.8 317.5,716.7 316.4,718.8 317.6,721.0 317.6,722.3 315.6,723.6 315.4,725.3 314.0,726.6 313.5,729.2 311.3,729.3 310.7,730.9 308.7,731.7 306.9,734.0 304.7,735.7 304.4,737.4 305.4,738.7 305.8,740.9 305.3,744.8 303.4,745.8 300.7,745.9 299.3,746.5 296.9,750.9 294.6,751.3 293.9,752.6 291.8,753.9 291.4,755.6 288.8,755.6 288.3,755.2 288.4,754.3 287.9,753.9 284.8,755.0 282.2,757.9ZM266.3,733.2 265.3,733.1 265.9,732.0 266.6,732.2 266.3,733.2ZM301.7,743.1 303.0,742.2 302.9,740.6 301.2,740.7 300.5,741.3 300.5,742.6 301.7,743.1Z"/>
<path fill="rgb(0,240,255)" fill-rule="evenodd" d="M282.2,756.9 281.3,757.1 280.4,756.5 280.3,754.3 278.2,754.3 276.9,753.7 274.2,751.5 271.6,752.1 269.5,750.0 270.6,747.0 268.5,744.5 268.2,743.1 269.4,741.3 271.7,739.6 271.6,736.1 271.9,735.3 273.4,734.1 275.1,733.6 277.8,731.3 280.0,728.2 281.8,727.5 282.4,725.3 284.4,723.6 287.0,724.4 287.9,724.2 288.8,723.6 288.9,721.8 289.7,721.4 292.3,722.6 296.3,722.4 296.8,721.8 296.8,720.5 298.4,718.8 299.0,716.9 301.2,716.4 304.2,714.8 311.7,713.7 315.7,714.1 317.2,716.6 316.3,718.8 317.5,721.0 317.4,722.3 315.4,723.6 315.3,724.9 312.6,725.5 308.7,727.5 308.7,730.1 306.9,732.6 303.7,734.8 302.1,739.2 300.3,740.0 298.6,742.6 298.4,743.5 299.5,744.8 299.4,745.2 296.7,747.2 294.5,747.8 293.7,749.6 291.5,750.2 289.2,751.8 284.4,753.8 282.2,752.8 281.7,753.5 283.1,755.2 282.2,756.9Z"/>
<path fill="rgb(0,255,170)" fill-rule="evenodd" d="M278.7,753.0 277.3,752.9 276.1,752.2 275.1,749.9 272.5,751.0 271.6,750.7 270.8,749.6 272.0,744.4 271.9,741.3 273.4,739.0 274.7,738.2 275.2,734.8 276.9,733.3 278.7,732.8 279.5,731.2 283.1,729.9 284.4,728.3 286.2,727.4 287.8,725.3 291.0,724.0 294.1,723.5 297.2,723.6 300.3,717.7 301.6,717.5 305.6,715.5 311.3,714.7 315.6,714.9 316.1,716.2 316.2,719.2 317.1,720.5 316.6,722.3 314.4,724.3 307.8,726.7 306.9,728.3 305.7,729.2 306.4,730.9 302.5,734.3 301.0,734.8 301.4,737.4 299.8,738.9 297.1,743.1 292.4,747.0 291.9,748.3 289.9,749.6 287.0,750.0 286.2,750.7 284.8,750.5 280.4,751.5 278.7,753.0Z"/>
<path fill="rgb(0,255,60)" fill-rule="evenodd" d="M310.0,725.4 303.4,725.6 302.9,723.8 301.2,723.5 300.1,722.3 300.1,721.4 303.4,717.4 305.1,716.3 309.1,715.3 314.8,715.6 315.2,718.4 316.4,720.1 316.2,721.8 314.4,723.4 310.0,725.4ZM277.8,752.2 276.8,751.7 276.0,749.2 275.1,748.2 272.9,750.2 272.0,750.0 271.5,749.1 272.9,745.7 272.9,742.5 275.5,740.9 277.7,734.4 283.3,730.9 284.8,729.1 287.4,727.9 288.4,726.9 289.7,726.7 293.7,724.8 294.5,724.7 296.3,725.5 298.5,724.5 301.2,724.7 303.4,725.7 304.0,730.9 299.7,734.4 299.2,737.0 296.3,742.5 292.3,744.2 291.1,745.7 288.8,746.2 288.2,747.0 288.0,748.3 287.5,748.6 285.3,749.0 282.2,750.4 280.0,750.2 277.8,752.2Z"/>
<path fill="rgb(0,255,0)" fill-rule="evenodd" d="M309.5,725.0 307.9,724.9 306.0,723.1 302.7,721.4 302.4,721.0 302.7,720.1 304.3,717.5 308.2,716.0 309.5,715.9 314.0,716.6 315.5,721.0 315.3,721.8 309.5,725.0ZM278.2,750.9 277.3,750.9 276.2,747.4 274.2,745.6 273.4,743.5 273.8,742.7 275.6,742.4 276.2,741.8 278.7,734.8 281.7,733.2 285.7,729.4 287.5,728.8 289.7,728.7 293.2,725.9 294.1,725.7 296.3,726.5 298.5,725.5 301.6,726.3 302.0,727.0 301.8,730.5 299.0,733.6 296.8,737.0 296.6,739.2 294.7,741.8 291.6,743.5 290.1,745.1 288.4,745.7 286.6,747.5 282.6,749.4 280.0,749.1 278.2,750.9Z"/>
<path fill="rgb(130,255,0)" fill-rule="evenodd" d="M309.5,723.2 308.7,723.4 306.9,722.0 304.2,721.0 304.0,720.1 304.7,718.9 305.6,718.5 307.8,718.9 308.5,717.5 309.1,717.4 313.3,718.8 313.7,719.7 313.4,720.5 309.5,723.2ZM285.7,746.2 280.4,745.1 277.9,742.6 277.7,740.9 279.5,737.3 282.7,734.8 284.8,731.8 286.9,730.1 292.3,729.1 293.7,727.2 296.3,727.9 298.5,727.3 298.8,728.8 297.1,734.8 295.5,736.6 295.1,738.3 293.3,741.3 289.2,744.3 285.7,746.2Z"/>
<path fill="rgb(255,255,0)" fill-rule="evenodd" d="M309.5,721.9 308.2,721.4 308.7,720.0 310.4,719.2 312.0,719.7 311.3,721.1 309.5,721.9ZM286.2,745.3 283.9,745.1 279.6,742.6 278.8,740.9 279.6,738.7 284.8,734.4 285.6,732.7 287.5,730.9 292.8,730.0 294.1,728.7 295.0,728.7 295.6,729.6 295.5,730.9 296.3,732.7 296.2,734.8 294.7,736.1 292.3,741.3 289.6,742.6 286.2,745.3Z"/>
<path fill="rgb(255,170,0)" fill-rule="evenodd" d="M286.2,744.5 284.4,744.5 281.2,742.6 280.6,741.8 280.7,738.7 285.1,735.3 286.6,733.4 289.0,732.7 291.0,731.3 293.5,731.4 294.9,734.4 292.5,738.3 291.8,740.5 291.0,741.2 287.7,742.6 286.2,744.5Z"/>
<path fill="rgb(255,80,0)" fill-rule="evenodd" d="M285.3,743.6 283.9,743.5 282.0,742.2 281.6,741.3 281.8,738.7 287.0,734.1 292.3,732.8 293.3,735.3 290.6,740.1 287.4,741.8 285.3,743.6Z"/>
<path fill="rgb(255,0,0)" fill-rule="evenodd" d="M285.3,742.6 283.9,742.8 282.5,741.8 282.6,738.7 287.5,734.5 291.0,733.9 292.3,734.4 292.6,735.7 290.6,738.9 285.3,742.6Z"/>
</g>
<clipPath id="clip_r125"><rect x="252.4" y="704.3" width="70.6" height="69.3"/></clipPath>
<rect x="252.4" y="704.3" width="70.6" height="69.3" fill="none" stroke="#8a8a8a" stroke-width="1"/>
<line x1="297.5" y1="704.3" x2="297.5" y2="773.6" stroke="#333" stroke-width="1"/>
<line x1="252.4" y1="728.6" x2="323" y2="728.6" stroke="#333" stroke-width="1"/>
<g clip-path="url(#clip_r250)" filter="url(#soft)">
<path fill="rgb(0,0,255)" fill-rule="evenodd" d="M393.3,706.0 392.0,705.4 392.0,704.3 394.9,704.5 393.3,706.0ZM362.8,765.7 361.4,764.9 357.9,765.0 356.8,763.5 354.9,763.7 354.0,761.2 351.0,761.1 350.5,759.6 349.8,758.7 347.2,758.3 346.8,753.9 347.6,751.3 346.5,750.4 345.3,746.1 344.1,745.1 343.7,744.3 344.4,740.1 349.6,739.6 351.4,738.4 353.1,738.2 353.7,737.7 354.4,735.5 355.8,735.1 357.1,733.3 357.3,732.5 356.7,731.2 357.5,729.4 356.2,727.7 354.3,726.8 354.5,724.6 353.8,722.9 354.1,721.6 355.8,720.1 357.9,719.9 359.3,719.0 359.7,719.3 361.0,721.1 360.6,721.6 359.3,721.8 359.1,722.4 360.1,724.0 361.5,725.1 361.0,726.8 362.3,727.3 365.9,725.9 366.4,724.2 367.7,722.9 367.9,721.1 369.0,719.4 369.6,715.0 372.4,712.7 374.1,712.6 375.9,711.7 378.0,713.3 379.8,712.1 381.5,713.8 384.2,710.8 385.5,710.9 385.5,712.4 387.0,712.4 387.3,711.1 386.0,710.2 389.0,708.7 391.6,708.3 393.3,708.7 396.0,710.4 397.7,710.4 399.2,712.4 398.5,714.6 399.3,715.9 399.7,718.9 398.6,720.6 397.9,722.9 398.3,723.7 399.4,724.2 399.6,725.1 396.6,729.4 397.1,732.5 396.5,734.7 397.2,736.0 396.3,739.9 395.5,740.9 393.3,742.3 392.8,743.8 392.7,745.6 393.5,746.9 392.6,748.2 393.6,750.0 393.4,752.1 392.1,753.4 390.7,756.0 389.4,755.9 387.4,760.4 383.7,761.7 382.6,762.6 382.0,764.0 378.9,763.7 375.9,761.8 374.5,760.3 373.4,760.9 372.5,762.6 371.9,762.8 370.6,762.8 370.0,761.7 369.3,761.5 368.2,761.7 366.7,763.8 362.8,762.7 361.4,763.0 361.1,763.9 361.4,764.8 363.7,764.8 363.6,765.4 362.8,765.7ZM360.1,718.1 359.3,718.5 358.8,718.2 357.6,715.0 358.8,713.5 360.6,713.3 362.1,714.6 362.5,716.3 361.9,717.7 360.1,718.1ZM374.8,723.7 376.3,721.9 378.0,722.3 378.3,721.6 377.8,720.2 374.0,720.2 373.6,722.4 374.1,723.7 374.8,723.7ZM335.2,753.6 333.9,753.8 333.7,753.4 333.9,748.6 336.1,748.9 336.7,750.0 336.7,752.1 335.2,753.6ZM343.1,752.7 341.8,752.3 341.6,751.7 342.7,750.4 343.5,750.2 344.3,751.3 344.0,752.1 343.1,752.7ZM348.3,768.7 347.0,768.4 346.5,767.4 346.9,766.6 347.9,766.0 349.0,766.6 348.3,768.7ZM362.8,774.2 356.2,774.3 354.7,772.2 354.6,770.9 356.2,769.2 358.8,770.3 360.0,770.0 360.6,768.9 361.0,769.0 360.8,770.0 362.5,772.2 362.8,774.2ZM376.3,774.1 372.6,774.0 373.5,771.8 373.5,770.5 374.5,769.5 377.2,769.3 378.2,770.5 377.6,771.3 375.9,770.8 374.3,771.8 374.5,772.3 376.0,772.7 376.3,774.1Z"/>
<path fill="rgb(0,40,255)" fill-rule="evenodd" d="M393.8,705.4 392.5,705.5 392.1,704.5 394.4,704.5 393.8,705.4ZM360.1,764.9 358.1,764.8 357.1,763.1 355.3,763.5 354.0,761.0 353.1,760.7 351.4,761.0 350.0,758.7 347.5,758.0 347.0,753.9 347.9,751.3 346.8,750.0 346.2,748.1 345.6,745.6 346.2,744.7 344.4,744.8 344.0,743.8 344.8,740.4 349.2,740.0 351.4,738.7 353.1,738.3 354.1,737.3 354.3,736.0 355.8,735.4 357.4,732.9 357.1,731.2 358.0,729.0 356.8,727.2 355.3,727.3 354.5,726.5 354.5,721.6 355.2,721.1 356.2,721.9 356.0,720.7 358.8,719.8 359.7,720.0 360.2,721.1 358.8,721.5 358.6,722.4 359.7,724.2 361.0,725.1 360.7,726.8 362.3,727.5 364.5,726.8 366.2,725.7 366.7,724.3 368.0,722.9 368.3,721.1 369.1,719.8 369.9,717.2 369.7,715.4 372.4,713.1 374.1,712.9 375.9,712.1 378.0,714.2 379.8,712.5 381.5,713.9 382.4,713.3 383.3,711.7 384.6,711.0 385.0,711.1 385.5,712.8 386.3,712.8 387.7,711.9 387.5,711.1 386.7,710.2 389.8,708.7 392.9,708.8 396.0,710.6 397.7,710.7 399.0,712.6 398.2,714.1 399.2,715.9 399.5,718.9 397.6,722.9 398.1,723.8 399.2,724.2 399.4,725.1 398.9,726.4 396.3,729.4 396.5,733.4 394.8,735.1 395.1,736.7 395.5,736.7 396.4,735.4 396.9,736.0 396.0,739.9 393.3,741.8 392.8,743.4 392.4,745.1 392.9,746.9 392.2,747.8 393.4,750.0 393.0,752.1 390.7,754.7 389.4,755.2 387.7,759.0 383.2,760.0 382.7,761.7 381.5,763.6 379.3,763.5 376.3,761.9 374.5,760.1 373.2,760.8 372.4,762.3 371.5,762.7 369.3,761.2 368.0,761.7 366.2,763.6 363.2,762.6 361.9,762.6 361.1,763.1 360.8,764.4 360.1,764.9ZM361.0,717.7 358.8,717.8 357.9,715.0 358.4,714.1 360.6,713.6 361.9,714.7 361.9,716.9 361.0,717.7ZM375.0,723.7 376.3,722.3 378.1,722.4 378.5,721.3 377.6,719.9 374.5,719.9 373.7,720.3 373.6,723.3 374.1,724.0 375.0,723.7ZM335.7,753.0 333.9,753.3 333.9,751.0 336.1,749.4 336.7,751.3 335.7,753.0ZM347.9,768.4 346.8,767.4 347.4,766.6 348.3,766.4 348.5,767.9 347.9,768.4ZM362.3,774.1 356.2,774.1 354.9,772.1 354.9,770.9 356.6,769.5 358.4,770.6 360.6,770.6 362.0,771.8 362.5,773.1 362.3,774.1ZM375.0,774.0 373.1,774.0 373.2,773.0 373.7,772.6 375.2,773.1 375.0,774.0Z"/>
<path fill="rgb(0,110,255)" fill-rule="evenodd" d="M359.3,764.8 358.4,764.8 357.9,763.9 357.9,763.1 358.5,762.6 355.3,763.0 354.0,760.7 351.4,760.5 350.1,758.6 347.5,757.6 347.2,753.9 348.1,752.1 347.9,750.6 349.8,749.1 349.4,748.2 347.0,747.9 346.2,746.9 347.0,743.0 346.2,741.7 346.2,740.8 350.5,739.9 350.9,739.9 351.5,741.2 352.5,741.2 352.7,740.3 351.0,739.9 350.9,739.5 353.6,738.2 354.3,737.3 354.5,736.2 356.2,735.2 357.6,732.9 357.5,731.2 358.6,729.4 358.4,728.3 360.3,727.2 362.3,727.7 366.2,726.0 366.8,724.6 368.0,723.3 368.9,720.6 370.6,720.3 371.4,718.9 372.9,718.5 373.6,715.9 372.9,715.0 373.0,714.6 375.3,712.4 376.1,712.4 376.7,713.0 376.9,714.6 375.0,714.7 374.4,715.9 376.3,716.9 376.9,716.3 376.8,715.0 377.2,714.7 378.5,714.9 379.8,713.1 381.1,714.0 382.0,714.0 384.2,711.3 384.9,711.5 385.5,713.0 387.2,712.6 387.9,711.5 387.3,710.2 388.1,709.7 389.0,711.2 391.1,711.9 392.7,711.5 394.0,709.8 396.0,710.9 397.7,711.0 398.1,712.3 397.3,712.1 396.9,712.8 399.0,715.9 399.3,718.9 397.6,722.9 398.1,723.9 399.0,724.2 399.1,725.5 395.5,729.9 396.4,732.1 393.8,731.3 392.0,733.7 390.4,734.7 390.7,735.3 392.0,734.4 394.2,735.4 395.1,737.1 396.0,736.8 396.4,736.1 395.7,739.5 395.5,739.9 393.8,739.5 392.8,738.2 392.0,737.9 390.8,739.5 389.2,740.3 388.5,742.1 387.2,743.0 388.1,744.8 389.4,742.8 392.5,742.1 392.1,746.0 390.6,747.3 391.1,748.5 392.5,749.5 392.5,750.8 391.6,751.2 390.7,750.0 389.8,749.9 387.2,750.7 384.7,752.6 382.4,756.3 380.5,757.4 380.5,758.3 381.5,760.0 381.3,761.3 380.7,761.8 375.4,757.8 374.7,758.3 374.4,759.6 371.9,762.2 371.1,762.3 370.2,761.2 369.3,761.0 368.0,761.5 366.7,763.3 361.9,762.4 360.8,763.1 360.6,764.1 359.3,764.8ZM374.6,724.2 376.3,722.6 378.3,722.4 378.6,721.6 378.0,720.1 376.7,719.6 373.7,719.9 373.2,721.1 373.4,723.3 374.0,724.2 374.6,724.2ZM388.3,748.6 389.2,746.9 388.1,745.4 385.6,747.3 386.8,748.8 388.3,748.6ZM383.5,750.4 384.3,747.8 382.8,748.2 382.0,750.4 382.4,750.8 383.5,750.4ZM358.8,771.4 356.6,771.3 356.4,770.0 357.1,770.0 357.9,770.8 360.2,770.9 358.8,771.4ZM361.9,774.0 360.3,774.0 361.4,772.0 362.3,773.1 362.3,774.0 361.9,774.0ZM359.3,774.0 357.3,774.0 357.4,773.1 358.8,773.0 359.7,774.0 359.3,774.0Z"/>
<path fill="rgb(0,180,255)" fill-rule="evenodd" d="M363.2,762.2 361.4,761.9 359.7,762.2 357.5,760.7 355.3,761.7 353.1,758.2 351.4,757.5 350.5,758.2 349.3,757.8 348.9,756.9 349.2,756.4 351.4,757.4 354.4,756.1 353.6,754.8 351.0,752.6 349.6,752.7 348.3,755.3 347.5,754.8 348.3,751.6 352.3,750.0 351.5,747.8 353.6,746.0 353.9,745.1 351.5,744.3 351.2,743.4 353.1,743.0 355.8,740.2 356.0,739.5 355.6,736.4 357.9,732.2 361.0,731.9 361.9,730.3 361.8,728.5 366.2,726.2 368.9,721.8 371.1,721.5 372.8,720.6 373.0,723.7 374.1,724.5 376.3,722.8 378.4,722.4 378.7,721.1 378.0,719.8 374.7,719.4 375.2,718.5 376.7,718.7 377.6,718.3 379.9,715.9 380.4,714.1 382.0,714.2 383.3,712.8 385.9,713.2 388.1,712.1 391.6,712.8 395.5,713.0 398.1,714.9 399.0,716.3 399.1,719.4 397.5,722.9 399.0,724.6 398.5,726.4 397.7,727.1 395.1,727.5 391.2,730.3 390.7,732.0 388.5,734.7 388.6,735.5 390.1,737.3 389.8,738.2 387.7,740.6 385.7,741.7 385.1,745.1 382.0,747.4 381.1,749.5 379.3,751.3 378.9,753.0 377.6,755.3 377.2,755.6 375.4,754.5 372.8,757.7 372.4,758.0 370.6,757.1 369.3,759.4 365.8,759.8 363.2,762.2Z"/>
<path fill="rgb(0,240,255)" fill-rule="evenodd" d="M359.3,757.4 357.9,757.8 357.1,757.1 356.3,755.6 357.2,753.9 356.8,753.0 356.1,752.1 354.5,751.6 353.2,748.2 355.3,745.6 355.5,743.0 357.0,740.3 357.1,739.0 356.4,736.4 357.1,734.2 357.5,733.8 358.4,733.9 358.8,735.5 359.3,735.6 359.4,734.7 358.8,733.8 361.0,733.0 362.8,731.0 364.9,731.4 366.1,729.0 365.8,727.9 364.9,727.2 368.4,724.3 369.3,722.6 370.3,722.4 371.5,723.7 374.5,724.5 376.5,722.9 378.6,722.4 378.8,720.7 378.0,719.4 378.9,718.9 380.7,721.5 381.5,721.3 382.0,718.9 381.0,716.3 381.9,714.6 386.2,713.3 389.4,713.0 395.1,713.7 398.6,715.7 399.1,718.9 397.4,722.4 397.4,723.3 398.4,724.2 397.8,725.9 394.6,726.7 392.5,728.0 390.3,728.3 389.3,729.0 389.7,731.6 386.5,735.1 387.8,738.6 387.6,739.5 386.4,740.3 384.4,740.8 383.8,744.7 381.5,746.5 380.2,749.3 378.5,750.4 377.6,752.8 375.0,752.9 371.9,756.3 369.7,755.7 368.0,753.7 366.6,754.8 366.2,756.6 359.3,757.4ZM368.4,758.4 367.6,758.7 366.8,758.3 366.7,757.0 368.4,757.0 368.4,758.4Z"/>
<path fill="rgb(0,255,170)" fill-rule="evenodd" d="M361.4,756.2 360.1,755.6 359.7,753.8 357.1,750.6 354.9,750.1 354.3,748.2 357.3,745.1 358.4,738.2 360.5,736.4 361.0,734.7 362.8,732.6 364.5,732.6 365.4,732.1 367.5,729.4 367.6,727.7 369.3,725.1 370.2,724.5 371.9,725.4 374.1,724.9 378.5,722.7 379.4,721.4 380.2,722.5 381.5,722.4 382.5,720.7 382.6,716.3 384.2,715.0 386.8,713.9 389.4,713.7 394.6,714.3 398.1,716.1 399.0,718.9 397.4,722.0 397.7,723.7 397.3,725.1 396.8,725.5 393.8,726.0 387.9,728.5 388.6,731.2 388.4,732.0 387.7,733.0 385.5,733.5 384.7,734.2 385.6,736.8 385.6,738.6 382.8,738.7 382.9,742.5 380.3,744.3 380.2,746.9 379.8,747.7 378.0,748.1 377.0,750.8 375.0,751.3 372.4,753.0 372.2,754.8 371.5,755.4 370.2,754.8 369.3,753.0 368.4,752.7 361.4,756.2Z"/>
<path fill="rgb(0,255,60)" fill-rule="evenodd" d="M366.7,752.6 363.6,752.5 362.3,751.5 360.6,752.8 358.6,751.3 358.6,749.5 359.4,748.2 359.0,746.9 359.9,742.5 358.8,740.8 358.8,739.5 359.3,738.4 361.5,736.4 361.9,735.1 363.6,733.5 365.4,733.0 367.1,730.9 370.2,729.9 371.1,728.1 373.4,727.7 375.5,725.1 378.0,724.3 378.9,723.2 380.7,724.2 381.5,723.8 382.8,721.6 383.6,716.8 385.9,715.0 389.4,714.3 394.2,714.8 397.7,716.4 398.6,717.5 398.8,718.9 396.4,723.7 393.8,724.9 391.1,724.3 390.4,724.6 389.4,726.5 386.8,727.7 387.0,731.6 382.8,733.4 382.7,734.2 383.7,736.0 381.7,738.2 382.2,741.2 381.8,742.1 378.5,744.2 378.4,746.0 376.3,748.1 374.5,748.3 374.1,750.4 373.4,751.3 371.9,751.8 370.2,751.1 366.7,752.6ZM386.6,726.4 386.3,725.1 385.0,725.2 385.0,726.4 385.9,726.7 386.6,726.4ZM355.8,749.1 355.6,748.2 356.6,748.0 356.6,748.6 355.8,749.1ZM361.9,754.3 361.4,754.3 361.2,753.4 362.9,753.4 361.9,754.3Z"/>
<path fill="rgb(0,255,0)" fill-rule="evenodd" d="M388.5,725.8 387.8,725.5 386.8,723.4 384.6,723.3 383.7,722.8 383.7,720.7 384.6,717.2 387.1,715.4 389.8,714.9 394.2,715.5 397.7,717.1 398.5,718.9 398.1,720.0 396.8,721.1 395.5,723.3 393.8,724.0 390.7,723.8 388.5,725.8ZM367.6,751.3 365.8,751.2 361.9,750.1 361.1,749.5 360.2,744.7 361.1,741.7 359.7,739.9 359.9,739.0 361.4,737.7 364.3,736.8 364.6,736.0 364.0,734.7 365.8,733.7 367.1,731.8 370.4,730.7 371.9,729.2 375.2,727.7 376.7,725.7 378.0,725.7 380.7,726.9 383.3,725.3 383.9,726.4 384.1,728.1 383.6,730.3 381.9,731.6 381.5,734.2 382.2,736.0 380.9,738.2 381.0,741.7 380.2,742.5 376.7,743.6 375.8,745.6 373.7,747.2 371.9,749.8 370.2,749.9 367.6,751.3Z"/>
<path fill="rgb(130,255,0)" fill-rule="evenodd" d="M390.3,722.9 389.0,723.2 386.1,720.2 386.2,719.4 388.0,716.3 389.8,715.7 391.9,715.9 396.7,718.5 396.5,719.8 394.6,722.2 390.3,722.9ZM379.8,731.9 378.6,729.4 378.7,729.0 380.2,728.8 380.8,729.0 380.9,729.9 379.8,731.9ZM368.0,749.5 364.5,749.0 361.4,744.8 361.5,743.8 363.1,741.7 363.4,739.0 367.6,734.7 367.9,732.9 371.1,732.1 374.5,729.9 376.7,729.5 377.5,731.2 379.4,732.0 379.3,734.2 380.4,736.4 379.4,739.7 375.9,742.3 374.5,744.6 371.9,747.4 368.0,749.5Z"/>
<path fill="rgb(255,255,0)" fill-rule="evenodd" d="M391.1,721.6 389.4,721.4 388.1,720.6 388.0,717.6 389.0,716.7 390.3,716.4 391.9,716.8 394.7,719.4 394.4,720.7 391.1,721.6ZM368.4,748.2 367.6,748.5 366.4,748.2 363.2,745.1 363.1,743.8 364.5,739.5 365.8,737.7 368.4,735.8 369.3,733.3 371.5,733.1 374.1,731.2 375.4,731.1 377.7,732.9 378.3,736.4 377.2,738.2 376.9,739.9 374.1,743.8 371.9,746.0 368.4,748.2Z"/>
<path fill="rgb(255,170,0)" fill-rule="evenodd" d="M391.6,719.8 390.7,720.1 389.8,719.8 389.3,718.9 389.4,717.8 390.6,717.6 392.2,718.5 392.4,718.9 391.6,719.8ZM367.6,747.0 364.4,744.3 365.3,739.5 368.9,736.4 370.2,734.4 372.1,733.8 374.5,731.9 375.4,732.0 376.7,733.4 377.3,736.0 375.9,739.5 374.1,742.6 371.9,745.1 367.6,747.0Z"/>
<path fill="rgb(255,80,0)" fill-rule="evenodd" d="M369.3,745.2 368.0,745.5 366.9,744.7 365.5,742.5 365.5,740.3 366.2,739.3 368.9,737.4 370.6,735.2 373.2,734.5 375.0,733.1 376.3,735.0 376.3,736.8 373.2,742.3 371.5,744.3 369.3,745.2Z"/>
<path fill="rgb(255,0,0)" fill-rule="evenodd" d="M369.3,744.3 368.4,744.7 367.6,744.3 366.0,741.7 366.2,740.2 368.0,739.0 371.1,735.6 375.4,735.1 375.8,736.4 373.2,741.0 369.3,744.3Z"/>
</g>
<clipPath id="clip_r250"><rect x="333.7" y="704.3" width="69.9" height="69.9"/></clipPath>
<rect x="333.7" y="704.3" width="69.9" height="69.9" fill="none" stroke="#8a8a8a" stroke-width="1"/>
<line x1="384.6" y1="704.3" x2="384.6" y2="774.2" stroke="#333" stroke-width="1"/>
<line x1="333.7" y1="728.6" x2="403.6" y2="728.6" stroke="#333" stroke-width="1"/>
<g clip-path="url(#clip_r500)" filter="url(#soft)">
<path fill="rgb(0,0,255)" fill-rule="evenodd" d="M437.0,768.3 436.2,768.5 434.6,767.3 433.1,767.0 431.8,763.3 429.2,762.2 427.0,762.2 426.3,761.2 426.8,759.9 424.8,757.5 420.9,756.6 418.7,756.6 414.8,758.9 414.6,755.9 415.2,754.2 414.7,753.3 414.8,752.0 416.6,754.1 418.3,754.0 420.0,755.2 420.9,754.7 420.8,752.4 421.7,749.3 421.4,748.5 420.2,747.6 420.4,746.7 420.9,746.4 421.8,747.7 422.2,747.5 424.5,743.6 425.3,741.6 427.5,740.3 428.1,738.4 429.2,737.3 431.4,736.7 432.7,737.6 433.5,737.5 433.7,734.9 434.2,734.0 438.9,731.3 438.8,730.6 436.6,728.5 442.7,728.8 444.9,727.4 444.3,726.1 445.3,724.8 445.9,720.4 447.1,718.4 447.6,719.5 448.4,719.7 449.7,717.9 452.0,717.3 453.0,715.1 454.5,713.5 455.3,713.5 457.1,714.5 458.4,713.1 462.3,712.6 464.9,711.0 466.2,711.4 468.7,711.2 469.7,709.4 472.3,708.1 474.9,708.5 475.2,711.2 477.4,712.9 477.1,715.6 478.4,718.5 479.5,719.1 479.6,719.9 478.5,721.3 478.9,722.4 477.4,723.0 477.9,724.8 477.6,726.1 477.1,726.5 475.8,726.4 475.5,727.0 476.7,727.8 475.8,729.9 474.4,730.9 474.8,733.1 473.2,734.3 473.6,735.1 474.9,734.9 475.2,735.3 475.0,737.9 473.5,738.8 473.0,739.7 474.7,741.9 474.8,742.8 472.8,743.2 472.0,744.1 472.4,746.7 472.0,748.9 473.0,752.0 471.7,753.3 472.4,755.0 470.6,757.4 468.9,761.6 467.1,763.9 461.9,765.0 460.6,764.5 457.9,762.3 457.0,762.5 456.1,763.8 454.9,764.3 453.6,764.0 452.3,762.3 451.4,762.4 449.7,762.8 447.1,764.6 445.7,764.3 441.4,765.8 440.8,766.9 438.8,767.2 437.0,768.3ZM446.2,713.4 445.7,713.4 445.9,712.0 447.3,712.0 446.2,713.4ZM434.0,729.2 433.0,728.3 433.5,726.5 435.3,725.6 436.2,725.8 436.6,726.5 435.9,728.3 434.0,729.2ZM431.8,735.8 431.3,735.3 431.8,734.4 432.5,734.9 431.8,735.8ZM461.6,759.9 460.7,759.0 459.1,759.0 459.7,760.0 461.6,759.9ZM437.5,775.1 433.5,775.0 433.6,772.6 432.5,771.7 432.4,770.8 433.5,770.0 434.9,771.0 436.2,771.3 436.5,770.4 436.0,769.1 436.6,768.7 439.2,770.5 439.9,772.1 438.0,773.0 437.5,775.1Z"/>
<path fill="rgb(0,40,255)" fill-rule="evenodd" d="M436.6,767.8 433.1,766.6 432.1,763.4 429.6,761.6 429.2,761.5 427.9,762.2 427.0,761.9 426.6,761.2 427.5,759.9 425.3,757.3 423.1,757.0 420.8,755.9 421.2,754.6 421.2,752.0 422.1,750.2 422.4,748.0 425.3,742.2 427.5,740.5 428.7,737.9 429.6,737.4 430.6,737.0 433.1,737.9 434.0,737.6 435.5,738.4 435.7,737.4 434.0,736.8 434.2,734.4 436.6,732.6 438.8,731.8 439.3,730.9 438.3,729.4 440.5,728.7 442.7,729.1 445.3,727.4 444.7,726.1 445.5,724.8 446.6,719.5 447.1,719.3 448.4,720.0 449.7,718.2 452.3,717.3 453.4,714.7 454.5,713.7 455.3,713.7 457.1,714.9 458.4,713.4 462.3,712.8 464.5,711.3 466.7,711.7 468.8,711.3 469.7,709.7 472.3,708.6 474.5,708.9 474.9,709.4 474.9,711.2 477.1,713.3 477.0,715.5 478.2,718.2 478.0,719.1 477.0,719.9 478.1,721.7 477.3,723.0 477.8,725.2 477.1,726.3 475.8,726.1 475.4,726.5 475.2,727.4 476.2,728.3 476.1,728.7 475.4,729.9 473.9,730.5 474.4,732.7 473.0,734.0 473.2,735.2 475.0,735.7 474.5,737.9 472.7,739.7 473.6,741.5 474.5,742.1 474.5,742.7 472.3,743.0 471.3,744.5 471.1,745.4 471.9,746.3 471.7,748.9 472.5,751.1 470.9,752.0 470.2,754.6 470.7,756.8 468.4,761.9 468.0,762.4 467.2,762.1 467.8,759.9 466.7,757.8 464.5,757.9 461.9,758.9 459.3,758.3 458.4,759.0 458.8,761.6 456.6,762.2 455.3,763.9 454.0,763.8 452.7,762.3 451.8,762.1 449.2,762.8 447.1,764.3 445.7,764.0 443.1,765.2 441.0,765.5 440.1,766.7 437.5,766.7 436.6,767.8ZM434.9,728.8 433.5,728.7 433.5,727.0 435.7,726.1 436.0,726.5 434.9,728.8ZM415.3,758.6 414.8,758.3 414.8,756.0 416.6,755.9 418.3,754.4 419.8,755.5 420.0,755.9 419.6,756.2 418.3,756.5 415.3,758.6ZM464.9,756.4 464.9,755.0 463.6,754.7 462.9,755.0 463.6,756.4 464.5,756.7 464.9,756.4ZM461.9,764.7 459.6,763.4 458.8,761.6 462.3,760.6 463.6,761.0 464.6,763.8 461.9,764.7ZM437.5,774.9 435.3,774.8 433.9,772.1 432.7,771.5 432.7,770.8 433.5,770.3 434.4,771.3 436.2,771.5 436.7,771.3 437.0,769.7 439.2,770.8 439.3,772.1 438.3,771.6 437.6,773.0 437.5,774.9Z"/>
<path fill="rgb(0,110,255)" fill-rule="evenodd" d="M435.3,767.0 433.1,766.1 432.6,763.4 431.7,762.5 432.2,762.0 432.3,759.9 433.1,758.1 432.7,756.8 431.8,756.5 430.9,756.9 428.8,760.3 426.6,758.5 425.3,756.9 423.3,756.8 422.5,755.9 422.4,752.8 423.1,751.8 424.8,753.3 425.3,755.0 426.7,755.0 426.3,753.7 427.4,752.4 426.7,748.5 425.7,747.8 424.8,749.3 424.0,749.3 423.1,748.5 423.0,747.6 424.0,745.5 425.3,746.2 426.4,745.8 426.8,744.9 426.5,743.2 428.8,738.3 430.1,738.5 431.8,737.8 434.0,738.0 435.3,738.9 435.7,738.6 435.8,737.0 434.4,736.7 434.1,736.2 434.4,734.4 436.2,733.0 439.0,731.8 439.6,730.9 439.1,729.6 439.7,729.2 441.0,728.9 442.7,729.5 443.6,728.6 445.3,727.8 445.6,727.0 445.0,726.1 446.6,720.1 447.1,719.8 447.4,720.4 447.1,721.7 447.5,722.1 448.4,722.0 450.1,718.2 453.2,717.1 454.0,717.5 454.5,717.2 454.6,716.4 453.6,715.4 454.0,714.2 455.1,713.8 457.1,715.3 458.4,713.6 462.3,713.0 464.5,711.5 466.7,711.8 468.8,711.4 470.1,709.7 472.0,709.4 474.5,710.4 474.6,711.2 476.7,713.8 476.8,715.5 478.0,718.2 476.9,719.9 477.8,721.7 477.1,723.0 477.6,725.2 477.1,726.0 475.8,725.9 475.2,726.5 475.4,729.5 473.5,730.0 473.6,732.0 471.4,734.9 472.7,738.8 472.0,741.4 470.5,742.3 469.3,744.6 465.8,744.9 465.2,745.4 465.6,747.1 464.2,750.2 463.2,751.2 462.4,753.3 460.5,755.0 461.6,757.2 458.8,757.8 455.4,759.9 455.8,760.9 457.5,760.3 456.7,761.6 455.3,761.3 453.2,762.4 452.3,761.8 450.5,762.1 447.8,761.6 444.4,764.1 442.7,763.6 442.1,763.8 441.8,764.7 441.0,764.8 438.8,764.1 435.3,767.0ZM468.0,750.3 466.8,749.3 466.7,747.7 469.3,747.2 469.9,748.5 468.0,750.3ZM469.3,757.3 468.4,757.2 466.8,755.0 466.5,754.2 467.1,753.4 468.4,753.0 468.8,753.4 469.3,757.3ZM428.3,761.7 427.0,761.6 427.3,760.7 428.2,760.7 428.3,761.7Z"/>
<path fill="rgb(0,180,255)" fill-rule="evenodd" d="M444.4,762.6 442.3,762.2 440.5,761.0 439.2,762.5 437.5,762.4 436.3,761.6 437.5,759.9 437.1,758.5 434.9,758.3 433.1,755.9 430.9,755.6 431.5,752.4 430.5,751.4 428.8,751.1 428.0,750.2 428.3,749.2 429.6,748.1 430.0,745.4 431.3,743.6 430.2,741.0 430.8,739.7 432.7,738.3 434.0,738.3 434.6,738.8 434.7,739.2 433.5,740.2 435.3,739.4 436.1,737.5 435.7,736.7 434.5,736.2 435.7,733.5 439.2,731.8 439.9,730.9 439.6,729.6 440.2,729.2 441.5,729.2 442.3,730.3 443.7,728.7 445.3,728.2 446.0,727.4 445.5,726.1 445.7,725.1 447.1,724.2 450.5,723.5 451.5,722.1 451.2,720.8 454.9,718.2 456.2,716.3 458.3,716.0 459.4,713.8 465.4,712.0 468.4,711.8 469.7,711.1 474.5,712.9 476.7,715.4 477.7,717.7 477.7,718.6 476.7,719.9 477.5,721.7 477.0,723.0 477.4,725.2 477.1,725.8 475.3,726.1 474.1,728.6 471.5,728.7 471.9,730.5 470.6,730.7 467.5,734.4 466.0,734.9 466.5,735.7 466.2,737.5 466.7,740.0 467.9,738.4 468.0,735.3 469.3,735.5 470.6,736.6 471.2,737.5 471.2,738.8 468.6,740.1 467.1,742.3 463.7,744.5 463.0,745.8 463.1,747.6 462.6,748.5 458.9,749.8 458.8,752.4 456.4,755.9 456.2,757.9 450.5,758.5 446.1,759.9 444.4,762.6Z"/>
<path fill="rgb(0,240,255)" fill-rule="evenodd" d="M439.2,759.6 437.5,757.7 435.7,756.8 434.9,754.8 433.0,754.2 432.4,750.6 432.6,749.3 431.4,746.3 431.7,745.4 433.4,744.9 433.5,742.8 436.4,737.9 436.2,737.0 437.1,736.2 436.2,734.9 436.6,733.5 439.6,731.8 440.8,729.6 441.4,729.6 441.3,730.5 442.7,730.6 443.3,731.3 444.0,730.0 445.7,729.6 448.4,727.8 448.5,726.1 449.1,725.6 451.8,725.0 453.2,723.4 454.5,723.5 455.3,723.0 457.8,720.4 457.7,718.2 461.9,713.4 466.7,712.6 470.6,712.8 476.7,715.9 477.7,718.2 476.6,719.9 477.3,721.7 476.9,723.0 477.1,725.4 475.4,725.7 473.2,727.2 470.1,727.5 466.9,732.7 464.3,734.4 463.4,737.5 464.6,739.7 464.1,741.9 461.2,745.4 461.2,747.6 459.7,747.2 458.8,747.6 457.6,749.8 458.0,752.0 457.5,752.8 455.3,752.6 453.2,754.2 451.0,753.9 448.8,756.6 446.6,754.7 445.3,755.9 443.6,755.5 441.0,756.2 440.3,756.8 439.2,759.6ZM454.9,721.1 454.0,721.0 453.8,720.4 454.9,719.5 455.3,719.9 454.9,721.1Z"/>
<path fill="rgb(0,255,170)" fill-rule="evenodd" d="M438.8,756.0 437.5,756.2 436.3,755.5 436.2,754.6 437.2,752.8 437.0,751.9 436.0,749.8 434.0,748.7 433.5,747.6 434.6,743.6 437.1,740.6 437.0,738.4 438.7,737.0 440.9,736.2 441.0,734.9 440.5,733.5 441.0,732.7 444.0,732.4 448.4,729.2 450.5,726.8 452.3,728.2 453.0,726.1 455.0,725.2 456.6,723.6 458.4,721.3 459.1,718.2 462.7,714.1 466.7,713.4 470.6,713.5 477.1,717.2 477.5,718.2 476.5,719.9 477.0,721.7 476.8,724.3 469.8,727.0 465.6,730.9 463.1,735.3 462.3,737.9 463.1,740.6 460.9,744.1 458.8,745.0 456.2,748.4 454.2,748.9 452.3,751.6 450.1,752.0 448.8,753.3 446.6,752.7 444.6,754.6 441.0,754.9 438.8,756.0Z"/>
<path fill="rgb(0,255,60)" fill-rule="evenodd" d="M443.6,753.8 439.1,753.7 437.0,749.2 435.2,748.0 434.7,747.1 435.3,744.5 437.1,743.2 437.3,742.3 438.8,740.6 439.6,737.9 441.4,736.6 442.1,734.0 446.2,732.1 450.1,728.6 452.7,729.3 453.6,728.9 453.8,727.0 455.8,725.9 458.8,722.5 459.7,718.4 463.2,715.0 467.1,714.1 470.1,714.0 474.5,716.0 476.7,718.6 476.4,719.9 476.8,721.7 476.3,723.4 474.5,724.7 471.9,725.4 468.0,727.5 465.3,726.1 463.4,726.5 462.8,727.4 463.5,729.6 463.4,733.1 462.2,735.7 461.3,740.1 459.7,742.6 457.0,743.6 455.6,745.4 455.3,747.1 453.6,748.0 451.8,750.1 445.1,752.4 443.6,753.8Z"/>
<path fill="rgb(0,255,0)" fill-rule="evenodd" d="M446.6,751.2 441.4,751.1 438.4,749.8 437.5,748.0 436.2,746.9 436.6,745.3 437.9,745.5 438.8,744.5 438.7,742.3 443.0,734.9 446.6,733.3 450.1,729.5 452.3,730.1 453.6,729.8 457.5,725.3 460.5,724.3 461.0,722.1 460.1,721.0 460.1,719.1 463.6,715.9 467.5,714.7 469.7,714.6 474.3,716.4 476.2,719.3 476.6,721.7 476.0,722.6 474.1,724.3 471.8,724.8 468.4,726.7 464.9,725.2 462.0,726.5 461.6,727.4 461.4,731.8 462.1,734.0 459.4,741.4 454.5,744.8 451.8,748.5 449.7,749.2 448.4,750.6 446.6,751.2Z"/>
<path fill="rgb(130,255,0)" fill-rule="evenodd" d="M469.3,725.4 468.0,725.6 463.3,723.4 463.4,720.8 462.8,719.1 462.9,718.2 463.7,717.3 468.4,715.5 471.0,715.8 473.6,716.9 475.5,720.4 475.3,721.7 474.1,723.3 471.0,724.2 469.3,725.4ZM447.1,749.9 445.3,750.2 441.8,749.6 440.8,748.9 439.5,746.7 439.4,745.8 440.6,743.6 442.1,739.2 448.8,733.1 453.2,731.6 455.8,729.4 457.1,729.3 460.4,733.5 458.5,740.6 454.0,743.7 451.4,747.1 448.8,748.3 447.1,749.9Z"/>
<path fill="rgb(255,255,0)" fill-rule="evenodd" d="M468.4,724.8 465.8,723.9 464.5,722.6 463.9,718.2 465.0,717.3 468.0,716.4 471.9,716.9 473.0,717.7 474.2,720.4 474.1,722.1 473.2,723.0 471.0,723.5 468.4,724.8ZM446.2,749.1 443.6,749.1 442.6,748.5 441.9,747.1 442.1,742.8 443.3,739.2 449.7,733.7 454.5,732.2 455.8,730.9 457.1,730.8 458.9,733.1 458.4,733.9 456.7,734.0 457.6,735.7 457.5,739.9 452.2,744.5 450.6,746.7 447.9,747.8 446.2,749.1Z"/>
<path fill="rgb(255,170,0)" fill-rule="evenodd" d="M468.8,723.9 467.1,723.8 465.4,722.6 464.6,719.1 465.4,717.8 469.7,717.1 471.4,717.7 472.4,718.6 473.3,720.8 473.2,721.9 468.8,723.9ZM445.7,748.2 444.0,748.3 443.1,747.1 444.1,745.8 443.3,743.6 444.1,739.7 452.1,733.5 453.2,733.2 454.5,733.4 456.2,735.7 456.5,739.2 450.1,746.1 446.9,746.7 445.7,748.2Z"/>
<path fill="rgb(255,80,0)" fill-rule="evenodd" d="M468.8,723.1 467.1,723.0 466.2,722.1 465.5,719.1 466.2,718.2 469.7,717.9 471.9,719.5 472.1,721.3 468.8,723.1ZM448.8,745.4 447.1,745.2 444.9,744.1 444.5,741.9 444.7,740.1 452.7,734.3 454.0,734.3 454.9,735.7 455.2,738.8 452.1,742.8 448.8,745.4Z"/>
<path fill="rgb(255,0,0)" fill-rule="evenodd" d="M468.8,722.2 467.5,722.3 466.7,721.4 466.2,719.9 466.7,718.8 469.3,718.5 470.1,719.1 469.7,721.3 468.8,722.2ZM448.4,744.6 447.1,744.5 445.6,743.6 445.1,741.9 445.3,740.5 448.8,737.5 453.2,735.8 454.1,737.9 453.9,738.8 451.4,742.3 448.4,744.6Z"/>
</g>
<clipPath id="clip_r500"><rect x="414.6" y="704.8" width="69.7" height="70.2"/></clipPath>
<rect x="414.6" y="704.8" width="69.7" height="70.2" fill="none" stroke="#8a8a8a" stroke-width="1"/>
<line x1="462.5" y1="704.8" x2="462.5" y2="775" stroke="#333" stroke-width="1"/>
<line x1="414.6" y1="729.4" x2="484.3" y2="729.4" stroke="#333" stroke-width="1"/>
<g clip-path="url(#clip_r1000)" filter="url(#soft)">
<path fill="rgb(0,0,255)" fill-rule="evenodd" d="M518.1,769.6 516.8,769.6 514.1,765.1 514.0,764.2 515.5,761.3 519.9,760.7 520.8,759.4 520.5,758.5 518.1,757.9 515.5,755.7 513.0,755.9 511.5,758.0 510.6,758.4 510.0,757.7 510.9,755.0 512.0,753.8 511.5,753.2 510.1,754.2 509.1,757.7 508.4,758.2 506.6,759.0 505.6,756.8 505.1,753.7 505.8,753.0 507.1,753.3 507.3,749.8 505.9,748.5 505.7,747.6 506.2,746.7 507.6,746.7 508.1,746.3 507.6,744.3 505.6,741.9 507.0,735.3 509.3,734.2 510.2,733.0 511.1,733.4 511.5,734.9 512.0,735.1 513.3,734.9 514.6,733.7 514.8,731.0 517.4,729.2 517.9,728.3 517.7,726.7 516.2,725.7 516.3,724.9 518.1,724.4 519.4,722.8 520.9,722.2 521.0,720.5 521.6,719.6 523.8,718.9 525.2,717.4 525.5,716.5 524.5,714.3 525.6,712.6 526.4,713.4 529.9,713.2 530.1,712.2 529.6,710.8 530.8,710.2 532.1,710.6 533.5,712.3 535.0,712.6 538.0,711.7 536.3,710.8 537.0,709.7 539.6,710.0 546.2,707.1 547.9,707.5 549.2,707.2 555.4,709.6 556.5,711.3 556.9,713.5 556.5,716.1 555.9,717.0 557.5,718.7 557.0,720.0 554.4,722.2 554.4,723.5 555.5,724.8 553.2,728.9 552.4,731.4 553.5,733.6 552.1,735.3 552.5,738.8 551.9,739.3 553.3,741.0 552.6,744.1 553.6,744.9 553.8,745.8 553.2,746.9 551.9,746.9 551.4,748.0 551.9,751.3 553.1,752.4 553.2,753.3 551.3,759.4 551.2,762.9 547.9,766.4 545.7,766.7 544.5,766.0 544.2,763.8 543.4,762.9 542.2,762.3 540.0,762.4 538.4,761.6 539.3,760.7 538.7,759.8 535.6,759.1 535.2,759.8 535.7,761.2 535.2,761.8 534.3,762.0 533.0,761.1 529.9,760.4 526.4,760.5 525.5,759.8 525.1,758.8 523.8,758.5 522.8,759.0 522.0,760.3 522.8,762.5 520.9,765.5 521.3,766.4 522.9,767.3 522.8,768.2 521.6,769.1 519.4,768.9 518.1,769.6ZM514.1,721.8 512.8,720.9 512.5,719.2 513.3,718.7 515.9,718.7 515.8,719.6 514.1,721.8ZM497.0,752.0 495.4,751.5 496.1,746.7 495.8,745.4 497.0,744.6 501.9,744.9 503.0,746.3 502.9,747.6 501.9,748.4 498.4,748.3 497.6,749.3 497.6,751.5 497.0,752.0ZM496.2,762.1 495.7,762.2 495.4,761.6 495.5,757.2 496.2,757.0 496.9,757.2 497.5,758.1 496.3,760.3 496.8,761.6 496.2,762.1ZM516.8,774.5 512.4,774.6 512.0,774.3 512.1,773.4 515.1,770.8 516.8,770.4 517.5,771.7 516.8,774.5ZM544.4,774.5 538.7,774.6 538.5,773.0 540.0,771.8 540.9,771.9 541.8,773.0 543.5,772.2 544.6,773.4 544.4,774.5Z"/>
<path fill="rgb(0,40,255)" fill-rule="evenodd" d="M518.1,769.1 516.8,769.2 514.6,765.5 514.3,764.2 515.6,761.6 519.4,761.3 521.0,760.3 520.8,758.5 518.1,757.7 515.5,755.5 512.8,755.7 511.1,758.0 510.6,758.0 511.0,755.5 512.2,753.7 511.5,753.0 509.8,754.2 508.4,757.7 506.7,757.7 505.7,756.3 505.7,753.7 506.7,754.3 507.5,753.7 507.6,749.8 507.6,749.1 506.2,748.5 506.0,747.6 506.7,746.8 508.0,747.1 508.4,746.3 507.7,744.1 505.8,741.9 506.9,738.4 507.0,735.8 508.4,734.7 510.2,734.6 512.4,735.5 514.6,734.0 515.1,733.2 515.1,731.0 517.7,729.4 518.2,728.3 517.9,726.6 516.7,725.3 518.1,724.8 519.4,723.0 521.2,722.4 521.9,719.6 523.8,719.3 524.7,718.6 526.0,719.2 528.6,717.8 530.9,717.4 531.0,716.5 529.7,715.2 529.8,713.9 530.5,712.6 530.0,711.3 530.4,710.6 532.1,710.8 533.9,712.8 535.2,712.8 538.3,711.9 540.5,710.0 544.9,707.8 547.9,707.9 549.2,707.5 554.1,709.8 555.4,710.0 556.3,711.7 556.7,713.9 556.5,715.7 555.5,717.0 556.9,717.8 557.3,718.7 556.8,720.0 554.3,722.2 554.2,723.5 555.1,724.8 552.1,731.4 553.4,733.6 551.8,735.3 551.5,739.3 553.1,741.5 551.2,748.0 551.7,752.4 551.1,753.3 551.2,755.9 550.8,756.3 551.4,756.4 551.6,757.2 550.9,760.3 551.0,762.7 549.2,763.9 546.8,764.7 548.3,765.5 547.9,766.0 545.7,766.4 546.5,764.7 546.2,762.9 540.3,762.0 539.7,761.6 539.9,760.3 539.2,759.7 536.5,758.8 535.2,758.8 534.8,759.4 535.4,761.2 534.3,761.7 529.9,760.1 526.4,760.2 525.8,759.8 525.1,758.5 523.8,758.3 522.4,759.0 521.3,760.3 522.5,762.5 520.5,765.5 521.0,766.4 522.6,767.3 522.5,768.2 521.6,768.8 519.4,768.5 518.1,769.1ZM538.3,710.9 537.0,711.1 536.5,710.4 537.4,709.9 539.0,710.4 538.3,710.9ZM525.6,715.6 525.1,715.5 524.9,714.3 525.6,713.8 525.9,714.8 525.6,715.6ZM501.9,748.0 499.7,748.1 498.5,747.6 498.4,746.7 500.1,745.4 501.4,745.3 502.6,746.7 501.9,748.0ZM553.2,746.5 552.5,746.3 552.8,745.3 553.4,745.4 553.2,746.5ZM497.0,751.6 495.7,751.6 495.7,750.1 497.0,749.8 497.4,750.7 497.0,751.6ZM496.2,761.7 495.6,761.6 495.7,758.6 496.6,757.7 496.6,759.0 495.8,760.3 496.2,761.7ZM516.3,774.3 512.4,774.4 512.3,773.8 512.8,773.1 513.7,773.2 514.8,772.5 516.3,770.8 517.0,771.7 516.3,774.3ZM540.0,774.4 538.7,774.3 538.9,773.0 539.6,772.3 540.7,773.0 540.0,774.4ZM544.0,774.3 541.1,774.3 541.3,773.7 543.1,772.9 544.0,774.3Z"/>
<path fill="rgb(0,110,255)" fill-rule="evenodd" d="M542.2,761.6 541.5,761.6 540.9,759.1 537.7,759.0 535.6,757.0 533.3,758.1 533.1,759.4 534.2,760.7 533.9,760.9 530.8,760.3 529.5,759.6 528.6,759.9 526.0,759.8 525.4,758.5 524.2,758.0 521.6,759.1 520.3,758.1 518.3,757.7 515.9,755.4 512.8,755.5 511.1,757.5 511.1,755.9 512.4,753.7 511.5,752.7 509.5,754.2 508.4,756.6 507.6,757.2 506.3,755.5 506.3,755.0 507.9,754.2 508.0,748.9 506.2,747.6 507.1,747.1 508.0,747.8 508.6,747.2 508.7,746.3 507.6,743.7 510.2,739.2 511.1,738.7 511.9,738.8 512.1,741.5 512.8,741.4 513.7,740.4 513.8,739.3 512.4,737.5 515.3,733.6 515.5,730.9 517.7,730.5 519.4,729.0 522.8,727.5 523.5,726.6 523.7,724.8 526.0,723.5 527.7,720.5 532.4,718.3 532.9,716.1 532.1,713.9 532.6,713.1 537.8,712.5 540.9,710.1 543.7,708.7 544.9,708.3 547.5,709.0 549.5,707.8 549.6,709.5 552.3,709.8 554.1,711.8 555.0,712.1 555.8,711.7 556.3,712.2 556.4,715.7 555.1,717.0 556.7,717.9 557.1,718.7 556.6,720.0 554.3,722.2 554.0,723.5 554.6,725.3 552.0,731.0 553.2,733.6 551.6,735.3 551.2,739.3 552.9,741.5 550.6,745.4 551.4,746.7 551.0,750.6 548.3,752.8 550.6,760.4 544.9,761.3 544.4,760.7 545.2,759.4 545.1,758.1 544.4,757.6 543.1,757.6 542.3,758.1 542.8,761.2 542.2,761.6ZM522.5,722.4 522.4,720.5 522.9,719.6 523.6,720.5 522.5,722.4ZM529.5,726.2 530.1,724.4 531.6,723.1 531.3,722.4 529.9,722.8 528.5,725.3 528.4,726.2 529.5,726.2ZM518.5,727.6 518.1,725.8 519.7,723.5 519.9,725.7 518.5,727.6ZM539.3,758.1 539.9,757.2 539.5,755.9 538.3,755.3 537.1,755.9 537.9,757.7 539.3,758.1ZM517.7,764.2 515.9,762.5 515.7,762.0 516.3,761.6 517.7,761.6 517.4,762.5 518.0,763.8 517.7,764.2ZM522.0,768.2 521.2,767.7 521.0,766.8 522.2,767.3 522.5,767.7 522.0,768.2ZM539.6,774.3 539.0,774.3 539.2,773.0 539.9,773.8 539.6,774.3Z"/>
<path fill="rgb(0,180,255)" fill-rule="evenodd" d="M526.4,758.6 523.8,757.7 521.6,758.7 520.3,757.9 518.5,757.7 515.9,755.2 512.0,755.5 512.6,753.3 512.0,752.5 510.2,753.0 509.7,752.4 510.2,751.2 513.7,750.7 514.1,750.2 513.4,748.9 513.7,746.3 515.4,744.5 514.1,743.2 514.0,742.3 515.3,739.7 514.9,737.5 516.5,736.2 516.6,734.0 517.2,733.5 519.5,733.2 519.7,731.0 520.3,730.1 522.9,729.5 524.7,730.7 526.6,727.5 529.9,727.1 531.3,724.8 534.5,721.8 534.3,719.2 536.2,717.4 535.4,715.2 539.6,712.6 540.9,711.0 543.8,710.8 545.6,709.5 547.5,710.4 551.9,711.1 554.5,712.9 556.3,712.9 556.3,715.5 554.8,717.0 555.0,717.5 556.9,718.3 556.8,719.6 554.2,722.2 554.1,726.6 551.5,730.5 551.5,731.4 552.5,732.7 551.1,734.9 550.8,736.7 551.1,739.7 551.9,740.9 550.1,742.5 549.2,745.8 549.7,747.0 551.0,747.6 550.6,749.1 547.9,750.2 546.3,752.8 546.0,755.0 544.9,756.3 543.1,756.4 541.1,754.6 539.7,752.4 540.4,750.7 539.2,750.1 534.9,752.0 534.2,754.2 533.5,754.7 529.5,753.4 528.6,753.6 528.6,754.6 529.9,757.2 529.1,757.9 526.4,758.6ZM538.4,748.9 538.9,747.6 537.4,747.5 537.4,748.9 538.4,748.9ZM543.1,753.3 544.4,752.4 544.3,751.5 543.1,750.8 541.7,751.1 542.1,752.8 543.1,753.3Z"/>
<path fill="rgb(0,240,255)" fill-rule="evenodd" d="M521.2,758.1 519.5,757.7 518.5,756.0 517.2,756.2 515.9,755.0 514.8,755.0 514.1,753.3 515.9,750.7 515.0,748.5 515.2,747.2 516.8,746.0 517.7,744.5 517.7,743.6 515.7,742.3 517.6,740.2 518.1,734.9 520.3,733.8 521.0,731.4 522.0,731.3 522.6,732.3 521.8,735.3 522.5,736.1 523.4,736.1 524.3,734.9 524.5,732.7 527.7,728.6 530.4,727.7 532.1,725.8 533.9,726.2 534.4,725.7 533.5,724.8 534.1,724.0 535.2,723.9 535.9,724.8 536.5,724.5 536.2,723.1 536.7,721.3 536.2,720.0 537.5,717.8 537.0,715.7 541.3,712.1 543.5,712.1 546.2,711.4 551.0,711.7 556.3,714.3 555.9,716.1 554.6,717.0 555.0,717.6 556.8,718.3 556.7,719.6 554.1,722.2 553.6,725.7 550.9,730.1 550.8,732.7 549.9,735.8 550.3,740.6 549.0,742.3 548.7,744.5 547.9,745.8 545.3,746.6 539.2,746.3 537.0,746.7 535.6,749.3 532.4,751.5 533.1,752.8 533.0,753.5 528.6,751.7 526.9,753.2 524.7,753.7 523.9,756.3 521.2,758.1ZM545.3,749.8 543.5,749.0 541.8,749.3 541.1,748.9 541.1,748.0 542.2,747.6 544.0,748.7 545.3,748.7 545.7,749.3 545.3,749.8ZM544.4,755.5 543.4,755.5 543.3,754.6 544.4,754.2 544.8,754.6 544.4,755.5Z"/>
<path fill="rgb(0,255,170)" fill-rule="evenodd" d="M521.6,756.8 520.7,757.0 519.9,756.0 519.4,753.7 518.4,752.8 518.5,752.2 519.6,751.5 518.1,750.6 517.7,749.8 518.0,746.7 518.8,744.5 518.4,741.5 519.2,736.2 519.9,736.0 522.9,737.2 523.8,736.9 525.7,734.9 526.0,733.3 528.2,733.6 528.6,732.7 528.4,731.0 529.4,729.2 531.7,728.1 534.8,727.5 536.1,729.0 539.2,726.4 539.8,724.4 538.2,723.1 537.8,720.5 538.6,717.8 538.0,715.7 538.7,714.7 545.7,712.2 551.0,712.4 552.8,713.0 555.4,716.1 554.5,716.5 554.5,717.4 556.6,718.3 556.6,719.2 556.3,720.0 553.9,722.2 553.2,724.2 551.4,726.2 550.3,728.8 548.7,735.8 549.2,738.0 547.8,744.5 544.9,745.7 540.9,745.2 539.6,744.5 537.0,745.7 535.2,744.8 534.5,745.8 534.7,748.0 533.5,749.3 530.8,750.5 528.2,750.5 526.4,752.3 523.4,751.5 520.8,752.4 520.5,752.8 522.6,755.5 521.6,756.8ZM534.3,730.5 535.2,729.6 533.9,729.7 534.3,730.5Z"/>
<path fill="rgb(0,255,60)" fill-rule="evenodd" d="M526.4,751.1 525.1,751.2 522.9,750.1 521.2,750.6 519.8,749.3 519.1,746.7 519.5,745.0 519.3,741.5 520.8,739.7 521.2,738.4 523.8,738.1 525.6,736.2 528.7,734.5 530.4,730.0 531.3,729.8 533.0,731.2 534.4,731.4 539.7,727.5 540.7,724.8 538.7,720.5 539.5,717.4 538.9,716.1 539.1,715.2 545.7,712.6 552.3,713.3 554.4,716.1 554.4,717.4 556.1,718.3 556.1,719.2 555.7,720.5 551.0,725.3 549.7,727.5 547.5,728.0 546.6,728.8 547.5,730.0 548.9,730.1 547.8,735.3 548.1,738.0 546.7,740.6 547.1,744.0 545.4,745.0 544.4,745.0 541.3,744.3 537.4,742.6 533.6,745.0 533.1,748.5 527.7,749.8 526.4,751.1Z"/>
<path fill="rgb(0,255,0)" fill-rule="evenodd" d="M525.1,750.2 520.7,748.9 520.2,744.1 520.6,742.3 524.7,738.9 525.9,736.7 529.5,734.6 530.8,732.5 534.8,731.9 537.4,730.0 539.2,729.9 541.3,727.4 542.5,727.9 543.1,729.8 544.0,729.7 544.8,728.8 544.2,727.5 544.4,725.1 543.5,724.6 542.2,725.2 541.4,723.1 539.6,720.9 540.6,716.1 543.1,714.0 545.3,713.1 551.9,713.7 554.2,717.4 555.5,718.3 555.5,719.2 554.9,720.9 553.2,722.7 551.6,723.5 549.2,726.5 545.1,728.3 545.0,728.8 546.8,730.5 547.7,732.7 546.9,734.9 547.2,738.0 545.8,740.6 545.8,743.7 544.9,744.2 544.0,743.9 542.7,739.9 540.9,739.5 539.2,737.4 538.3,737.2 537.1,738.8 536.6,741.9 532.6,744.5 531.1,747.6 525.1,750.2Z"/>
<path fill="rgb(130,255,0)" fill-rule="evenodd" d="M548.8,724.4 547.1,724.4 544.9,723.4 541.4,720.9 540.8,720.0 540.9,718.7 542.3,715.7 545.3,713.8 547.1,713.6 551.2,714.3 554.4,718.3 554.4,719.6 553.6,721.1 550.7,722.7 548.8,724.4ZM544.0,734.1 543.6,733.6 543.6,732.3 544.9,731.2 545.7,731.2 546.3,731.8 546.2,732.9 544.0,734.1ZM526.0,748.5 524.2,748.8 522.5,748.4 521.7,747.6 521.7,744.1 522.8,741.9 525.6,739.5 526.4,737.5 527.3,736.7 534.8,732.8 536.1,732.6 537.0,732.9 537.7,733.6 537.8,734.5 536.4,737.1 535.2,741.5 531.7,743.5 529.5,746.3 526.0,748.5ZM544.9,739.3 541.8,737.1 544.4,736.1 545.3,736.5 545.8,738.0 544.9,739.3Z"/>
<path fill="rgb(255,255,0)" fill-rule="evenodd" d="M548.8,722.7 545.3,722.8 541.9,719.6 543.1,715.8 545.2,714.3 547.1,714.0 551.0,715.0 553.5,718.3 553.6,719.6 552.8,720.8 548.8,722.7ZM525.1,747.6 523.4,747.7 522.7,747.2 522.9,743.9 523.9,741.9 526.0,740.1 527.5,737.5 532.1,735.1 535.6,733.9 536.1,734.9 534.6,736.7 534.7,739.7 534.2,741.0 531.3,742.9 528.6,745.7 525.1,747.6Z"/>
<path fill="rgb(255,170,0)" fill-rule="evenodd" d="M547.5,721.8 545.7,722.1 544.9,721.7 543.5,720.5 542.8,719.2 543.9,716.1 546.2,714.6 547.9,714.7 550.6,715.6 552.8,718.7 552.5,720.0 551.4,720.8 547.5,721.8ZM527.3,745.5 525.5,745.4 524.5,743.7 524.6,742.3 526.8,740.6 528.2,738.2 530.8,736.7 532.6,736.4 533.9,738.4 533.6,740.6 531.3,742.0 527.3,745.5Z"/>
<path fill="rgb(255,80,0)" fill-rule="evenodd" d="M549.2,720.9 545.7,721.1 544.0,720.0 543.7,718.3 545.4,715.7 546.6,715.1 547.9,715.2 550.9,717.0 552.0,718.7 551.8,719.6 550.8,720.5 549.2,720.9ZM527.3,744.7 526.2,744.1 526.1,742.8 528.9,740.6 529.2,738.8 529.9,738.1 531.3,737.5 532.6,737.9 533.1,738.8 532.9,740.2 530.4,741.5 528.7,743.7 527.3,744.7Z"/>
<path fill="rgb(255,0,0)" fill-rule="evenodd" d="M547.5,720.5 545.3,720.4 544.2,719.2 544.9,717.2 546.6,715.8 549.7,716.5 551.2,718.7 550.5,720.0 547.5,720.5ZM531.7,739.8 530.7,739.7 530.5,738.8 531.3,738.4 532.1,738.7 532.3,739.3 531.7,739.8Z"/>
</g>
<clipPath id="clip_r1000"><rect x="495.5" y="704.5" width="70.2" height="70"/></clipPath>
<rect x="495.5" y="704.5" width="70.2" height="70" fill="none" stroke="#8a8a8a" stroke-width="1"/>
<line x1="539.5" y1="704.5" x2="539.5" y2="774.5" stroke="#333" stroke-width="1"/>
<line x1="495.5" y1="727.4" x2="565.7" y2="727.4" stroke="#333" stroke-width="1"/>
</g></svg>
</body></html>
